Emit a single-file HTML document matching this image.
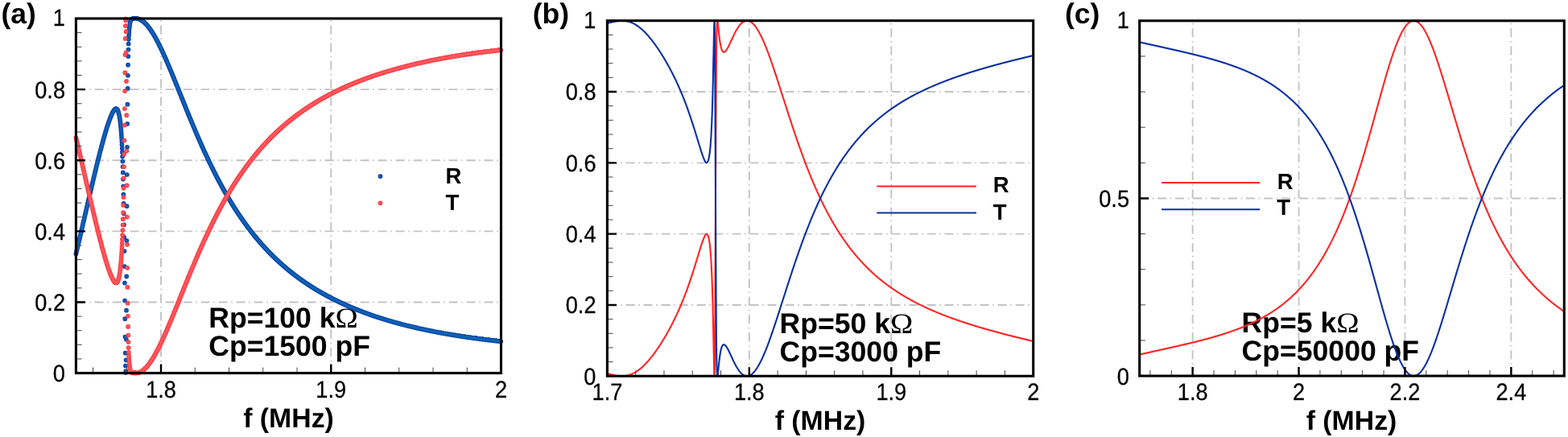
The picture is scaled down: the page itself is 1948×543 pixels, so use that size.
<!DOCTYPE html><html><head><meta charset="utf-8"><title>R and T spectra</title>
<style>html,body{margin:0;padding:0;background:#fff}body{width:1948px;height:543px;overflow:hidden}svg{display:block}
text{font-family:"Liberation Sans", sans-serif;fill:#000;text-rendering:geometricPrecision}.tk{font-size:29.4px;stroke:#000;stroke-width:0.3px}.ax{font-size:33.8px;font-weight:bold}.pl{font-size:35.5px;font-weight:bold}.an{font-size:35.6px;font-weight:bold}.lg{font-size:27.5px;font-weight:bold}.om{font-family:"Liberation Serif",serif;font-weight:normal}
</style></head><body>
<svg width="1948" height="543" viewBox="0 0 1948 543">
<rect width="1948" height="543" fill="#fff"/>
<path d="M200.02 465.2V23M411.26 465.2V23" fill="none" stroke="#c3c3c3" stroke-width="1.9" stroke-dasharray="11.1 4.77 1.6 4.77"/>
<path d="M95.6 375.48H622.5M95.6 287.36H622.5M95.6 199.24H622.5M95.6 111.12H622.5" fill="none" stroke="#c3c3c3" stroke-width="1.9" stroke-dasharray="11 4.7 1.6 4.7"/>
<text x="259.3" y="407" class="an">Rp=100 k<tspan class="om" textLength="28.31" lengthAdjust="spacingAndGlyphs">Ω</tspan></text>
<text x="259.3" y="442" class="an">Cp=1500 pF</text>
<path d="M94.4 315.5h0M94.6 314.6h0M94.8 313.7h0M95.0 312.8h0M95.2 311.9h0M95.4 311.1h0M95.7 310.2h0M95.9 309.3h0M96.1 308.4h0M96.3 307.5h0M96.5 306.7h0M96.7 305.8h0M96.9 304.9h0M97.1 304.0h0M97.3 303.1h0M97.5 302.2h0M97.8 301.3h0M98.0 300.4h0M98.2 299.5h0M98.4 298.6h0M98.6 297.8h0M98.8 296.9h0M99.0 296.0h0M99.2 295.1h0M99.4 294.2h0M99.6 293.3h0M99.9 292.4h0M100.1 291.5h0M100.3 290.6h0M100.5 289.7h0M100.7 288.8h0M100.9 287.9h0M101.1 287.0h0M101.3 286.1h0M101.5 285.2h0M101.7 284.3h0M102.0 283.4h0M102.2 282.4h0M102.4 281.5h0M102.6 280.6h0M102.8 279.7h0M103.0 278.8h0M103.2 277.9h0M103.4 277.0h0M103.6 276.1h0M103.8 275.2h0M104.1 274.3h0M104.3 273.4h0M104.5 272.5h0M104.7 271.6h0M104.9 270.7h0M105.1 269.7h0M105.3 268.8h0M105.5 267.9h0M105.7 267.0h0M105.9 266.1h0M106.2 265.2h0M106.4 264.3h0M106.6 263.4h0M106.8 262.5h0M107.0 261.6h0M107.2 260.6h0M107.4 259.7h0M107.6 258.8h0M107.8 257.9h0M108.0 257.0h0M108.3 256.1h0M108.5 255.2h0M108.7 254.3h0M108.9 253.4h0M109.1 252.5h0M109.3 251.6h0M109.5 250.6h0M109.7 249.7h0M109.9 248.8h0M110.1 247.9h0M110.4 247.0h0M110.6 246.1h0M110.8 245.2h0M111.0 244.3h0M111.2 243.4h0M111.4 242.5h0M111.6 241.6h0M111.8 240.7h0M112.0 239.8h0M112.2 238.9h0M112.5 238.0h0M112.7 237.1h0M112.9 236.2h0M113.1 235.3h0M113.3 234.4h0M113.5 233.5h0M113.7 232.6h0M113.9 231.7h0M114.1 230.8h0M114.3 229.9h0M114.6 229.0h0M114.8 228.1h0M115.0 227.2h0M115.2 226.3h0M115.4 225.4h0M115.6 224.6h0M115.8 223.7h0M116.0 222.8h0M116.2 221.9h0M116.4 221.0h0M116.7 220.1h0M116.9 219.2h0M117.1 218.4h0M117.3 217.5h0M117.5 216.6h0M117.7 215.7h0M117.9 214.9h0M118.1 214.0h0M118.3 213.1h0M118.5 212.2h0M118.8 211.4h0M119.0 210.5h0M119.2 209.6h0M119.4 208.8h0M119.6 207.9h0M119.8 207.1h0M120.0 206.2h0M120.2 205.3h0M120.4 204.5h0M120.6 203.6h0M120.9 202.8h0M121.1 201.9h0M121.3 201.1h0M121.5 200.2h0M121.7 199.4h0M121.9 198.5h0M122.1 197.7h0M122.3 196.9h0M122.5 196.0h0M122.7 195.2h0M123.0 194.4h0M123.2 193.5h0M123.4 192.7h0M123.6 191.9h0M123.8 191.0h0M124.0 190.2h0M124.2 189.4h0M124.4 188.6h0M124.6 187.8h0M124.8 187.0h0M125.1 186.2h0M125.3 185.4h0M125.5 184.6h0M125.7 183.8h0M125.9 183.0h0M126.1 182.2h0M126.3 181.4h0M126.5 180.6h0M126.7 179.8h0M126.9 179.0h0M127.2 178.2h0M127.4 177.5h0M127.6 176.7h0M127.8 175.9h0M128.0 175.1h0M128.2 174.4h0M128.4 173.6h0M128.6 172.9h0M128.8 172.1h0M129.0 171.4h0M129.3 170.6h0M129.5 169.9h0M129.7 169.1h0M129.9 168.4h0M130.1 167.7h0M130.3 167.0h0M130.5 166.2h0M130.7 165.5h0M130.9 164.8h0M131.1 164.1h0M131.4 163.4h0M131.6 162.7h0M131.8 162.0h0M132.0 161.3h0M132.2 160.6h0M132.4 159.9h0M132.6 159.3h0M132.8 158.6h0M133.0 157.9h0M133.2 157.3h0M133.5 156.6h0M133.7 155.9h0M133.9 155.3h0M134.1 154.7h0M134.3 154.0h0M134.5 153.4h0M134.7 152.8h0M134.9 152.2h0M135.1 151.6h0M135.3 151.0h0M135.6 150.4h0M135.8 149.8h0M136.0 149.2h0M136.2 148.6h0M136.4 148.1h0M136.6 147.5h0M136.8 147.0h0M137.0 146.4h0M137.2 145.9h0M137.4 145.4h0M137.7 144.9h0M137.9 144.4h0M138.1 143.9h0M138.3 143.4h0M138.5 142.9h0M138.7 142.4h0M138.9 142.0h0M139.1 141.5h0M139.3 141.1h0M139.5 140.7h0M139.8 140.2h0M140.0 139.8h0M140.2 139.4h0M140.4 139.0h0M140.6 138.7h0M140.8 138.3h0M141.0 138.0h0M141.2 137.6h0M141.4 137.3h0M141.6 137.0h0M141.9 136.7h0M142.1 136.5h0M142.3 136.2h0M142.5 136.0h0M142.7 135.8h0M142.9 135.6h0M143.1 135.5h0M143.3 135.3h0M143.5 135.2h0M143.7 135.2h0M144.0 135.1h0M144.2 135.1h0M144.4 135.1h0M144.6 135.2h0M144.8 135.3h0M145.0 135.4h0M145.2 135.6h0M145.4 135.8h0M145.6 136.0h0M145.8 136.3h0M146.1 136.7h0M146.3 137.1h0M146.5 137.5h0M146.7 138.0h0M146.9 138.6h0M147.1 139.2h0M147.3 139.9h0M147.5 140.7h0M147.7 141.5h0M147.9 142.5h0M148.2 143.5h0M148.4 144.6h0M148.6 145.8h0M148.8 147.1h0M149.0 148.5h0M149.2 150.1h0M149.4 151.8h0M149.6 153.6h0M149.8 155.6h0M150.0 157.8h0M150.3 160.2h0M150.5 162.8h0M150.7 165.6h0M150.9 168.7h0M151.1 172.1h0M151.3 175.8h0M151.5 179.8h0M151.7 184.3h0M151.9 189.2h0M152.1 194.6h0M152.4 200.5h0M152.6 207.1h0M152.8 214.4h0M153.0 222.6h0M153.2 231.6h0M153.4 241.6h0M153.6 252.8h0M153.8 265.3h0M154.0 279.3h0M154.2 294.8h0M154.5 312.0h0M154.7 331.0h0M154.9 351.6h0M155.1 373.5h0M155.3 396.2h0M155.5 418.5h0M155.7 438.7h0M155.9 454.5h0M156.1 462.9h0M156.3 461.2h0M156.6 447.4h0M156.8 421.6h0M157.0 385.7h0M157.2 343.4h0M157.4 299.1h0M157.6 256.2h0M157.8 217.0h0M158.0 182.8h0M158.2 153.8h0M158.4 129.7h0M158.7 109.9h0M158.9 93.8h0M159.1 80.7h0M159.3 70.1h0M159.5 61.5h0M159.7 54.5h0M159.9 48.8h0M160.1 44.2h0M160.3 40.4h0M160.5 37.3h0M160.8 34.8h0M161.0 32.7h0M161.2 31.0h0M161.4 29.6h0M161.6 28.4h0M161.8 27.4h0M162.0 26.6h0M162.2 26.0h0M162.4 25.4h0M162.6 25.0h0M162.9 24.6h0M163.1 24.3h0M163.3 24.1h0M163.5 23.8h0M163.7 23.7h0M163.9 23.5h0M164.1 23.4h0M164.3 23.3h0M164.5 23.3h0M164.7 23.2h0M165.0 23.2h0M165.2 23.1h0M165.4 23.1h0M165.6 23.1h0M165.8 23.1h0M166.0 23.0h0M166.2 23.0h0M166.4 23.0h0M166.6 23.0h0M166.8 23.0h0M167.1 23.0h0M167.3 23.0h0M167.5 23.0h0M167.7 23.0h0M167.9 23.0h0M168.1 23.0h0M168.3 23.0h0M168.5 23.0h0M168.7 23.0h0M168.9 23.0h0M169.2 23.0h0M169.4 23.1h0M169.6 23.1h0M169.8 23.1h0M170.0 23.1h0M170.2 23.1h0M170.4 23.1h0M170.6 23.2h0M170.8 23.2h0M171.0 23.2h0M171.3 23.3h0M171.5 23.3h0M171.7 23.3h0M171.9 23.4h0M172.1 23.5h0M172.3 23.5h0M172.5 23.6h0M172.7 23.7h0M172.9 23.7h0M173.1 23.8h0M173.4 23.9h0M173.6 24.0h0M173.8 24.1h0M174.0 24.2h0M174.2 24.3h0M174.4 24.4h0M174.6 24.5h0M174.8 24.6h0M175.0 24.8h0M175.2 24.9h0M175.5 25.0h0M175.7 25.1h0M175.9 25.3h0M176.1 25.4h0M176.3 25.5h0M176.5 25.7h0M176.7 25.8h0M176.9 26.0h0M177.1 26.1h0M177.3 26.3h0M177.6 26.4h0M177.8 26.6h0M178.0 26.7h0M178.2 26.9h0M178.4 27.1h0M178.6 27.2h0M178.8 27.4h0M179.0 27.6h0M179.2 27.8h0M179.4 28.0h0M179.7 28.2h0M179.9 28.4h0M180.1 28.6h0M180.3 28.8h0M180.5 29.0h0M180.7 29.2h0M180.9 29.4h0M181.1 29.6h0M181.3 29.8h0M181.5 30.1h0M181.8 30.3h0M182.0 30.5h0M182.2 30.7h0M182.4 31.0h0M182.6 31.2h0M182.8 31.5h0M183.0 31.7h0M183.2 32.0h0M183.4 32.2h0M183.6 32.5h0M183.9 32.7h0M184.1 33.0h0M184.3 33.3h0M184.5 33.5h0M184.7 33.8h0M184.9 34.1h0M185.1 34.3h0M185.3 34.6h0M185.5 34.9h0M185.7 35.2h0M186.0 35.5h0M186.2 35.8h0M186.4 36.1h0M186.6 36.3h0M186.8 36.6h0M187.0 36.9h0M187.2 37.3h0M187.4 37.6h0M187.6 37.9h0M187.8 38.2h0M188.1 38.5h0M188.3 38.8h0M188.5 39.1h0M188.7 39.5h0M188.9 39.8h0M189.1 40.1h0M189.3 40.4h0M189.5 40.8h0M189.7 41.1h0M189.9 41.5h0M190.2 41.8h0M190.4 42.1h0M190.6 42.5h0M190.8 42.8h0M191.0 43.2h0M191.2 43.5h0M191.4 43.9h0M191.6 44.3h0M191.8 44.6h0M192.0 45.0h0M192.3 45.4h0M192.5 45.7h0M192.7 46.1h0M192.9 46.5h0M193.1 46.8h0M193.3 47.2h0M193.5 47.6h0M193.7 48.0h0M193.9 48.4h0M194.1 48.7h0M194.4 49.1h0M194.6 49.5h0M194.8 49.9h0M195.0 50.3h0M195.2 50.7h0M195.4 51.1h0M195.6 51.5h0M195.8 51.9h0M196.0 52.3h0M196.2 52.7h0M196.5 53.1h0M196.7 53.5h0M196.9 54.0h0M197.1 54.4h0M197.3 54.8h0M197.5 55.2h0M197.7 55.6h0M197.9 56.0h0M198.1 56.5h0M198.3 56.9h0M198.6 57.3h0M198.8 57.8h0M199.0 58.2h0M199.2 58.6h0M199.4 59.0h0M199.6 59.5h0M199.8 59.9h0M200.0 60.4h0M200.2 60.8h0M200.4 61.2h0M200.7 61.7h0M200.9 62.1h0M201.1 62.6h0M201.3 63.0h0M201.5 63.5h0M201.7 63.9h0M201.9 64.4h0M202.1 64.8h0M202.3 65.3h0M202.5 65.7h0M202.8 66.2h0M203.0 66.7h0M203.2 67.1h0M203.4 67.6h0M203.6 68.1h0M203.8 68.5h0M204.0 69.0h0M204.2 69.5h0M204.4 69.9h0M204.6 70.4h0M204.9 70.9h0M205.1 71.3h0M205.3 71.8h0M205.5 72.3h0M205.7 72.8h0M205.9 73.2h0M206.1 73.7h0M206.3 74.2h0M206.5 74.7h0M206.7 75.2h0M207.0 75.6h0M207.2 76.1h0M207.4 76.6h0M207.6 77.1h0M207.8 77.6h0M208.0 78.1h0M208.2 78.6h0M208.4 79.1h0M208.6 79.5h0M208.8 80.0h0M209.1 80.5h0M209.3 81.0h0M209.5 81.5h0M209.7 82.0h0M209.9 82.5h0M210.1 83.0h0M210.3 83.5h0M210.5 84.0h0M210.7 84.5h0M210.9 85.0h0M211.2 85.5h0M211.4 86.0h0M211.6 86.5h0M211.8 87.0h0M212.0 87.5h0M212.2 88.0h0M212.4 88.5h0M212.6 89.0h0M212.8 89.5h0M213.0 90.0h0M213.3 90.6h0M213.5 91.1h0M213.7 91.6h0M213.9 92.1h0M214.1 92.6h0M214.3 93.1h0M214.5 93.6h0M214.7 94.1h0M214.9 94.6h0M215.1 95.2h0M215.4 95.7h0M215.6 96.2h0M215.8 96.7h0M216.0 97.2h0M216.2 97.7h0M216.4 98.2h0M216.6 98.8h0M216.8 99.3h0M217.0 99.8h0M217.2 100.3h0M217.5 100.8h0M217.7 101.3h0M217.9 101.9h0M218.1 102.4h0M218.3 102.9h0M218.5 103.4h0M218.7 103.9h0M218.9 104.5h0M219.1 105.0h0M219.3 105.5h0M219.6 106.0h0M219.8 106.5h0M220.0 107.1h0M220.2 107.6h0M220.4 108.1h0M220.6 108.6h0M220.8 109.1h0M221.0 109.7h0M221.2 110.2h0M221.4 110.7h0M221.7 111.2h0M221.9 111.7h0M222.1 112.3h0M222.3 112.8h0M222.5 113.3h0M222.7 113.8h0M222.9 114.4h0M223.1 114.9h0M223.3 115.4h0M223.5 115.9h0M223.8 116.4h0M224.0 117.0h0M224.2 117.5h0M224.4 118.0h0M224.6 118.5h0M224.8 119.1h0M225.0 119.6h0M225.2 120.1h0M225.4 120.6h0M225.6 121.2h0M225.9 121.7h0M226.1 122.2h0M226.3 122.7h0M226.5 123.2h0M226.7 123.8h0M226.9 124.3h0M227.1 124.8h0M227.3 125.3h0M227.5 125.8h0M227.7 126.4h0M228.0 126.9h0M228.2 127.4h0M228.4 127.9h0M228.6 128.5h0M228.8 129.0h0M229.0 129.5h0M229.2 130.0h0M229.4 130.5h0M229.6 131.1h0M229.8 131.6h0M230.1 132.1h0M230.3 132.6h0M230.5 133.1h0M230.7 133.6h0M230.9 134.2h0M231.1 134.7h0M231.3 135.2h0M231.5 135.7h0M231.7 136.2h0M231.9 136.8h0M232.2 137.3h0M232.4 137.8h0M232.6 138.3h0M232.8 138.8h0M233.0 139.3h0M233.2 139.8h0M233.4 140.4h0M233.6 140.9h0M233.8 141.4h0M234.0 141.9h0M234.3 142.4h0M234.5 142.9h0M234.7 143.4h0M234.9 144.0h0M235.1 144.5h0M235.3 145.0h0M235.5 145.5h0M235.7 146.0h0M235.9 146.5h0M236.1 147.0h0M236.4 147.5h0M236.6 148.0h0M236.8 148.5h0M237.0 149.1h0M237.2 149.6h0M237.4 150.1h0M237.6 150.6h0M237.8 151.1h0M238.0 151.6h0M238.2 152.1h0M238.5 152.6h0M238.7 153.1h0M238.9 153.6h0M239.1 154.1h0M239.3 154.6h0M239.5 155.1h0M239.7 155.6h0M239.9 156.1h0M240.1 156.6h0M240.3 157.1h0M240.6 157.6h0M240.8 158.1h0M241.0 158.6h0M241.2 159.1h0M241.4 159.6h0M241.6 160.1h0M241.8 160.6h0M242.0 161.1h0M242.2 161.6h0M242.4 162.1h0M242.7 162.6h0M242.9 163.1h0M243.1 163.6h0M243.3 164.1h0M243.5 164.6h0M243.7 165.0h0M243.9 165.5h0M244.1 166.0h0M244.3 166.5h0M244.5 167.0h0M244.8 167.5h0M245.0 168.0h0M245.2 168.5h0M245.4 168.9h0M245.6 169.4h0M245.8 169.9h0M246.0 170.4h0M246.2 170.9h0M246.4 171.4h0M246.6 171.9h0M246.9 172.3h0M247.1 172.8h0M247.3 173.3h0M247.5 173.8h0M247.7 174.3h0M247.9 174.7h0M248.1 175.2h0M248.3 175.7h0M248.5 176.2h0M248.7 176.6h0M249.0 177.1h0M249.2 177.6h0M249.4 178.1h0M249.6 178.5h0M249.8 179.0h0M250.0 179.5h0M250.2 180.0h0M250.4 180.4h0M250.6 180.9h0M250.8 181.4h0M251.1 181.8h0M251.3 182.3h0M251.5 182.8h0M251.7 183.2h0M251.9 183.7h0M252.1 184.2h0M252.3 184.6h0M252.5 185.1h0M252.7 185.6h0M252.9 186.0h0M253.2 186.5h0M253.4 187.0h0M253.6 187.4h0M253.8 187.9h0M254.0 188.3h0M254.2 188.8h0M254.4 189.3h0M254.6 189.7h0M254.8 190.2h0M255.0 190.6h0M255.3 191.1h0M255.5 191.5h0M255.7 192.0h0M255.9 192.4h0M256.1 192.9h0M256.3 193.3h0M256.5 193.8h0M256.7 194.2h0M256.9 194.7h0M257.1 195.1h0M257.4 195.6h0M257.6 196.0h0M257.8 196.5h0M258.0 196.9h0M258.2 197.4h0M258.4 197.8h0M258.6 198.3h0M258.8 198.7h0M259.0 199.1h0M259.2 199.6h0M259.5 200.0h0M259.7 200.5h0M259.9 200.9h0M260.1 201.3h0M260.3 201.8h0M260.5 202.2h0M260.7 202.7h0M260.9 203.1h0M261.1 203.5h0M261.3 204.0h0M261.6 204.4h0M261.8 204.8h0M262.0 205.3h0M262.2 205.7h0M262.4 206.1h0M262.6 206.5h0M262.8 207.0h0M263.0 207.4h0M263.2 207.8h0M263.4 208.3h0M263.7 208.7h0M263.9 209.1h0M264.1 209.5h0M264.3 209.9h0M264.5 210.4h0M264.7 210.8h0M264.9 211.2h0M265.1 211.6h0M265.3 212.1h0M265.5 212.5h0M265.8 212.9h0M266.0 213.3h0M266.2 213.7h0M266.4 214.1h0M266.6 214.6h0M266.8 215.0h0M267.0 215.4h0M267.2 215.8h0M267.4 216.2h0M267.6 216.6h0M267.9 217.0h0M268.1 217.4h0M268.3 217.8h0M268.5 218.3h0M268.7 218.7h0M268.9 219.1h0M269.1 219.5h0M269.3 219.9h0M269.5 220.3h0M269.7 220.7h0M270.0 221.1h0M270.2 221.5h0M270.4 221.9h0M270.6 222.3h0M270.8 222.7h0M271.0 223.1h0M271.2 223.5h0M271.4 223.9h0M271.6 224.3h0M271.8 224.7h0M272.1 225.1h0M272.3 225.5h0M272.5 225.9h0M272.7 226.3h0M272.9 226.7h0M273.1 227.1h0M273.3 227.4h0M273.5 227.8h0M273.7 228.2h0M273.9 228.6h0M274.2 229.0h0M274.4 229.4h0M274.6 229.8h0M274.8 230.2h0M275.0 230.5h0M275.2 230.9h0M275.4 231.3h0M275.6 231.7h0M275.8 232.1h0M276.0 232.5h0M276.3 232.8h0M276.5 233.2h0M276.7 233.6h0M276.9 234.0h0M277.1 234.4h0M277.3 234.7h0M277.5 235.1h0M277.7 235.5h0M277.9 235.9h0M278.1 236.2h0M278.4 236.6h0M278.6 237.0h0M278.8 237.4h0M279.0 237.7h0M279.2 238.1h0M279.4 238.5h0M279.6 238.8h0M279.8 239.2h0M280.0 239.6h0M280.2 239.9h0M280.5 240.3h0M280.7 240.7h0M280.9 241.0h0M281.1 241.4h0M281.3 241.8h0M281.5 242.1h0M281.7 242.5h0M281.9 242.8h0M282.1 243.2h0M282.3 243.6h0M282.6 243.9h0M282.8 244.3h0M283.0 244.6h0M283.2 245.0h0M283.4 245.4h0M283.6 245.7h0M283.8 246.1h0M284.0 246.4h0M284.2 246.8h0M284.4 247.1h0M284.7 247.5h0M284.9 247.8h0M285.1 248.2h0M285.3 248.5h0M285.5 248.9h0M285.7 249.2h0M285.9 249.6h0M286.1 249.9h0M286.3 250.3h0M286.5 250.6h0M286.8 251.0h0M287.0 251.3h0M287.2 251.6h0M287.4 252.0h0M287.6 252.3h0M287.8 252.7h0M288.0 253.0h0M288.2 253.3h0M288.4 253.7h0M288.6 254.0h0M288.9 254.4h0M289.1 254.7h0M289.3 255.0h0M289.5 255.4h0M289.7 255.7h0M289.9 256.0h0M290.1 256.4h0M290.3 256.7h0M290.5 257.0h0M290.7 257.4h0M291.0 257.7h0M291.2 258.0h0M291.4 258.4h0M291.6 258.7h0M291.8 259.0h0M292.0 259.4h0M292.2 259.7h0M292.4 260.0h0M292.6 260.3h0M292.8 260.7h0M293.1 261.0h0M293.3 261.3h0M293.5 261.6h0M293.7 262.0h0M293.9 262.3h0M294.1 262.6h0M294.3 262.9h0M294.5 263.2h0M294.7 263.6h0M294.9 263.9h0M295.2 264.2h0M295.4 264.5h0M295.6 264.8h0M295.8 265.1h0M296.0 265.5h0M296.2 265.8h0M296.4 266.1h0M296.6 266.4h0M296.8 266.7h0M297.0 267.0h0M297.3 267.3h0M297.5 267.6h0M297.7 268.0h0M297.9 268.3h0M298.1 268.6h0M298.3 268.9h0M298.5 269.2h0M298.7 269.5h0M298.9 269.8h0M299.1 270.1h0M299.4 270.4h0M299.6 270.7h0M299.8 271.0h0M300.0 271.3h0M300.2 271.6h0M300.4 271.9h0M300.6 272.2h0M300.8 272.5h0M301.0 272.8h0M301.2 273.1h0M301.5 273.4h0M301.7 273.7h0M301.9 274.0h0M302.1 274.3h0M302.3 274.6h0M302.5 274.9h0M302.7 275.2h0M302.9 275.5h0M303.1 275.8h0M303.3 276.1h0M303.6 276.4h0M303.8 276.7h0M304.0 277.0h0M304.2 277.3h0M304.4 277.6h0M304.6 277.8h0M304.8 278.1h0M305.0 278.4h0M305.2 278.7h0M305.4 279.0h0M305.7 279.3h0M305.9 279.6h0M306.1 279.9h0M306.3 280.1h0M306.5 280.4h0M306.7 280.7h0M306.9 281.0h0M307.1 281.3h0M307.3 281.6h0M307.5 281.8h0M307.8 282.1h0M308.0 282.4h0M308.2 282.7h0M308.4 283.0h0M308.6 283.2h0M308.8 283.5h0M309.0 283.8h0M309.2 284.1h0M309.4 284.3h0M309.6 284.6h0M309.9 284.9h0M310.1 285.2h0M310.3 285.4h0M310.5 285.7h0M310.7 286.0h0M310.9 286.3h0M311.1 286.5h0M311.3 286.8h0M311.5 287.1h0M311.7 287.3h0M312.0 287.6h0M312.2 287.9h0M312.4 288.1h0M312.6 288.4h0M312.8 288.7h0M313.0 289.0h0M313.2 289.2h0M313.4 289.5h0M313.6 289.7h0M313.8 290.0h0M314.1 290.3h0M314.3 290.5h0M314.5 290.8h0M314.7 291.1h0M314.9 291.3h0M315.1 291.6h0M315.3 291.8h0M315.5 292.1h0M315.7 292.4h0M315.9 292.6h0M316.2 292.9h0M316.4 293.1h0M316.6 293.4h0M316.8 293.7h0M317.0 293.9h0M317.2 294.2h0M317.4 294.4h0M317.6 294.7h0M317.8 294.9h0M318.0 295.2h0M318.3 295.4h0M318.5 295.7h0M318.7 295.9h0M318.9 296.2h0M319.1 296.5h0M319.3 296.7h0M319.5 297.0h0M319.7 297.2h0M319.9 297.5h0M320.1 297.7h0M320.4 297.9h0M320.6 298.2h0M320.8 298.4h0M321.0 298.7h0M321.2 298.9h0M321.4 299.2h0M321.6 299.4h0M321.8 299.7h0M322.0 299.9h0M322.2 300.2h0M322.5 300.4h0M322.7 300.6h0M322.9 300.9h0M323.1 301.1h0M323.3 301.4h0M323.5 301.6h0M323.7 301.8h0M323.9 302.1h0M324.1 302.3h0M324.3 302.6h0M324.6 302.8h0M324.8 303.0h0M325.0 303.3h0M325.2 303.5h0M325.4 303.8h0M325.6 304.0h0M325.8 304.2h0M326.0 304.5h0M326.2 304.7h0M326.4 304.9h0M326.7 305.2h0M326.9 305.4h0M327.1 305.6h0M327.3 305.9h0M327.5 306.1h0M327.7 306.3h0M327.9 306.5h0M328.1 306.8h0M328.3 307.0h0M328.5 307.2h0M328.8 307.5h0M329.0 307.7h0M329.2 307.9h0M329.4 308.1h0M329.6 308.4h0M329.8 308.6h0M330.0 308.8h0M330.2 309.1h0M330.4 309.3h0M330.6 309.5h0M330.9 309.7h0M331.1 309.9h0M331.3 310.2h0M331.5 310.4h0M331.7 310.6h0M331.9 310.8h0M332.1 311.1h0M332.3 311.3h0M332.5 311.5h0M332.7 311.7h0M333.0 311.9h0M333.2 312.2h0M333.4 312.4h0M333.6 312.6h0M333.8 312.8h0M334.0 313.0h0M334.2 313.2h0M334.4 313.5h0M334.6 313.7h0M334.8 313.9h0M335.1 314.1h0M335.3 314.3h0M335.5 314.5h0M335.7 314.8h0M335.9 315.0h0M336.1 315.2h0M336.3 315.4h0M336.5 315.6h0M336.7 315.8h0M336.9 316.0h0M337.2 316.2h0M337.4 316.4h0M337.6 316.7h0M337.8 316.9h0M338.0 317.1h0M338.2 317.3h0M338.4 317.5h0M338.6 317.7h0M338.8 317.9h0M339.0 318.1h0M339.3 318.3h0M339.5 318.5h0M339.7 318.7h0M339.9 318.9h0M340.1 319.1h0M340.3 319.3h0M340.5 319.6h0M340.7 319.8h0M340.9 320.0h0M341.1 320.2h0M341.4 320.4h0M341.6 320.6h0M341.8 320.8h0M342.0 321.0h0M342.2 321.2h0M342.4 321.4h0M342.6 321.6h0M342.8 321.8h0M343.0 322.0h0M343.2 322.2h0M343.5 322.4h0M343.7 322.6h0M343.9 322.8h0M344.1 323.0h0M344.3 323.2h0M344.5 323.4h0M344.7 323.6h0M344.9 323.7h0M345.1 323.9h0M345.3 324.1h0M345.6 324.3h0M345.8 324.5h0M346.0 324.7h0M346.2 324.9h0M346.4 325.1h0M346.6 325.3h0M346.8 325.5h0M347.0 325.7h0M347.2 325.9h0M347.4 326.1h0M347.7 326.3h0M347.9 326.4h0M348.1 326.6h0M348.3 326.8h0M348.5 327.0h0M348.7 327.2h0M348.9 327.4h0M349.1 327.6h0M349.3 327.8h0M349.5 328.0h0M349.8 328.1h0M350.0 328.3h0M350.2 328.5h0M350.4 328.7h0M350.6 328.9h0M350.8 329.1h0M351.0 329.3h0M351.2 329.4h0M351.4 329.6h0M351.6 329.8h0M351.9 330.0h0M352.1 330.2h0M352.3 330.4h0M352.5 330.5h0M352.7 330.7h0M352.9 330.9h0M353.1 331.1h0M353.3 331.3h0M353.5 331.4h0M353.7 331.6h0M354.0 331.8h0M354.2 332.0h0M354.4 332.2h0M354.6 332.3h0M354.8 332.5h0M355.0 332.7h0M355.2 332.9h0M355.4 333.1h0M355.6 333.2h0M355.8 333.4h0M356.1 333.6h0M356.3 333.8h0M356.5 333.9h0M356.7 334.1h0M356.9 334.3h0M357.1 334.5h0M357.3 334.6h0M357.5 334.8h0M357.7 335.0h0M357.9 335.2h0M358.2 335.3h0M358.4 335.5h0M358.6 335.7h0M358.8 335.8h0M359.0 336.0h0M359.2 336.2h0M359.4 336.4h0M359.6 336.5h0M359.8 336.7h0M360.0 336.9h0M360.3 337.0h0M360.5 337.2h0M360.7 337.4h0M360.9 337.5h0M361.1 337.7h0M361.3 337.9h0M361.5 338.0h0M361.7 338.2h0M361.9 338.4h0M362.1 338.5h0M362.4 338.7h0M362.6 338.9h0M362.8 339.0h0M363.0 339.2h0M363.2 339.4h0M363.4 339.5h0M363.6 339.7h0M363.8 339.9h0M364.0 340.0h0M364.2 340.2h0M364.5 340.4h0M364.7 340.5h0M364.9 340.7h0M365.1 340.8h0M365.3 341.0h0M365.5 341.2h0M365.7 341.3h0M365.9 341.5h0M366.1 341.7h0M366.3 341.8h0M366.6 342.0h0M366.8 342.1h0M367.0 342.3h0M367.2 342.5h0M367.4 342.6h0M367.6 342.8h0M367.8 342.9h0M368.0 343.1h0M368.2 343.2h0M368.4 343.4h0M368.7 343.6h0M368.9 343.7h0M369.1 343.9h0M369.3 344.0h0M369.5 344.2h0M369.7 344.3h0M369.9 344.5h0M370.1 344.7h0M370.3 344.8h0M370.5 345.0h0M370.8 345.1h0M371.0 345.3h0M371.2 345.4h0M371.4 345.6h0M371.6 345.7h0M371.8 345.9h0M372.0 346.0h0M372.2 346.2h0M372.4 346.3h0M372.6 346.5h0M372.9 346.6h0M373.1 346.8h0M373.3 346.9h0M373.5 347.1h0M373.7 347.2h0M373.9 347.4h0M374.1 347.5h0M374.3 347.7h0M374.5 347.8h0M374.7 348.0h0M375.0 348.1h0M375.2 348.3h0M375.4 348.4h0M375.6 348.6h0M375.8 348.7h0M376.0 348.9h0M376.2 349.0h0M376.4 349.2h0M376.6 349.3h0M376.8 349.5h0M377.1 349.6h0M377.3 349.8h0M377.5 349.9h0M377.7 350.0h0M377.9 350.2h0M378.1 350.3h0M378.3 350.5h0M378.5 350.6h0M378.7 350.8h0M378.9 350.9h0M379.2 351.0h0M379.4 351.2h0M379.6 351.3h0M379.8 351.5h0M380.0 351.6h0M380.2 351.8h0M380.4 351.9h0M380.6 352.0h0M380.8 352.2h0M381.0 352.3h0M381.3 352.5h0M381.5 352.6h0M381.7 352.7h0M381.9 352.9h0M382.1 353.0h0M382.3 353.2h0M382.5 353.3h0M382.7 353.4h0M382.9 353.6h0M383.1 353.7h0M383.4 353.9h0M383.6 354.0h0M383.8 354.1h0M384.0 354.3h0M384.2 354.4h0M384.4 354.5h0M384.6 354.7h0M384.8 354.8h0M385.0 354.9h0M385.2 355.1h0M385.5 355.2h0M385.7 355.3h0M385.9 355.5h0M386.1 355.6h0M386.3 355.8h0M386.5 355.9h0M386.7 356.0h0M386.9 356.2h0M387.1 356.3h0M387.3 356.4h0M387.6 356.6h0M387.8 356.7h0M388.0 356.8h0M388.2 357.0h0M388.4 357.1h0M388.6 357.2h0M388.8 357.3h0M389.0 357.5h0M389.2 357.6h0M389.4 357.7h0M389.7 357.9h0M389.9 358.0h0M390.1 358.1h0M390.3 358.3h0M390.5 358.4h0M390.7 358.5h0M390.9 358.6h0M391.1 358.8h0M391.3 358.9h0M391.5 359.0h0M391.8 359.2h0M392.0 359.3h0M392.2 359.4h0M392.4 359.5h0M392.6 359.7h0M392.8 359.8h0M393.0 359.9h0M393.2 360.1h0M393.4 360.2h0M393.6 360.3h0M393.9 360.4h0M394.1 360.6h0M394.3 360.7h0M394.5 360.8h0M394.7 360.9h0M394.9 361.1h0M395.1 361.2h0M395.3 361.3h0M395.5 361.4h0M395.7 361.5h0M396.0 361.7h0M396.2 361.8h0M396.4 361.9h0M396.6 362.0h0M396.8 362.2h0M397.0 362.3h0M397.2 362.4h0M397.4 362.5h0M397.6 362.7h0M397.8 362.8h0M398.1 362.9h0M398.3 363.0h0M398.5 363.1h0M398.7 363.3h0M398.9 363.4h0M399.1 363.5h0M399.3 363.6h0M399.5 363.7h0M399.7 363.9h0M399.9 364.0h0M400.2 364.1h0M400.4 364.2h0M400.6 364.3h0M400.8 364.5h0M401.0 364.6h0M401.2 364.7h0M401.4 364.8h0M401.6 364.9h0M401.8 365.0h0M402.0 365.2h0M402.3 365.3h0M402.5 365.4h0M402.7 365.5h0M402.9 365.6h0M403.1 365.7h0M403.3 365.9h0M403.5 366.0h0M403.7 366.1h0M403.9 366.2h0M404.1 366.3h0M404.4 366.4h0M404.6 366.6h0M404.8 366.7h0M405.0 366.8h0M405.2 366.9h0M405.4 367.0h0M405.6 367.1h0M405.8 367.2h0M406.0 367.4h0M406.2 367.5h0M406.5 367.6h0M406.7 367.7h0M406.9 367.8h0M407.1 367.9h0M407.3 368.0h0M407.5 368.1h0M407.7 368.3h0M407.9 368.4h0M408.1 368.5h0M408.3 368.6h0M408.6 368.7h0M408.8 368.8h0M409.0 368.9h0M409.2 369.0h0M409.4 369.1h0M409.6 369.2h0M409.8 369.4h0M410.0 369.5h0M410.2 369.6h0M410.4 369.7h0M410.7 369.8h0M410.9 369.9h0M411.1 370.0h0M411.3 370.1h0M411.5 370.2h0M411.7 370.3h0M411.9 370.4h0M412.1 370.6h0M412.3 370.7h0M412.5 370.8h0M412.8 370.9h0M413.0 371.0h0M413.2 371.1h0M413.4 371.2h0M413.6 371.3h0M413.8 371.4h0M414.0 371.5h0M414.2 371.6h0M414.4 371.7h0M414.6 371.8h0M414.9 371.9h0M415.1 372.0h0M415.3 372.2h0M415.5 372.3h0M415.7 372.4h0M415.9 372.5h0M416.1 372.6h0M416.3 372.7h0M416.5 372.8h0M416.7 372.9h0M417.0 373.0h0M417.2 373.1h0M417.4 373.2h0M417.6 373.3h0M417.8 373.4h0M418.0 373.5h0M418.2 373.6h0M418.4 373.7h0M418.6 373.8h0M418.8 373.9h0M419.1 374.0h0M419.3 374.1h0M419.5 374.2h0M419.7 374.3h0M419.9 374.4h0M420.1 374.5h0M420.3 374.6h0M420.5 374.7h0M420.7 374.8h0M420.9 374.9h0M421.2 375.0h0M421.4 375.1h0M421.6 375.2h0M421.8 375.3h0M422.0 375.4h0M422.2 375.5h0M422.4 375.6h0M422.6 375.7h0M422.8 375.8h0M423.0 375.9h0M423.3 376.0h0M423.5 376.1h0M423.7 376.2h0M423.9 376.3h0M424.1 376.4h0M424.3 376.5h0M424.5 376.6h0M424.7 376.7h0M424.9 376.8h0M425.1 376.9h0M425.4 377.0h0M425.6 377.1h0M425.8 377.2h0M426.0 377.3h0M426.2 377.4h0M426.4 377.5h0M426.6 377.6h0M426.8 377.7h0M427.0 377.8h0M427.2 377.9h0M427.5 377.9h0M427.7 378.0h0M427.9 378.1h0M428.1 378.2h0M428.3 378.3h0M428.5 378.4h0M428.7 378.5h0M428.9 378.6h0M429.1 378.7h0M429.3 378.8h0M429.6 378.9h0M429.8 379.0h0M430.0 379.1h0M430.2 379.2h0M430.4 379.3h0M430.6 379.4h0M430.8 379.5h0M431.0 379.5h0M431.2 379.6h0M431.4 379.7h0M431.7 379.8h0M431.9 379.9h0M432.1 380.0h0M432.3 380.1h0M432.5 380.2h0M432.7 380.3h0M432.9 380.4h0M433.1 380.5h0M433.3 380.6h0M433.5 380.6h0M433.8 380.7h0M434.0 380.8h0M434.2 380.9h0M434.4 381.0h0M434.6 381.1h0M434.8 381.2h0M435.0 381.3h0M435.2 381.4h0M435.4 381.5h0M435.6 381.5h0M435.9 381.6h0M436.1 381.7h0M436.3 381.8h0M436.5 381.9h0M436.7 382.0h0M436.9 382.1h0M437.1 382.2h0M437.3 382.2h0M437.5 382.3h0M437.7 382.4h0M438.0 382.5h0M438.2 382.6h0M438.4 382.7h0M438.6 382.8h0M438.8 382.9h0M439.0 382.9h0M439.2 383.0h0M439.4 383.1h0M439.6 383.2h0M439.8 383.3h0M440.1 383.4h0M440.3 383.5h0M440.5 383.6h0M440.7 383.6h0M440.9 383.7h0M441.1 383.8h0M441.3 383.9h0M441.5 384.0h0M441.7 384.1h0M441.9 384.1h0M442.2 384.2h0M442.4 384.3h0M442.6 384.4h0M442.8 384.5h0M443.0 384.6h0M443.2 384.7h0M443.4 384.7h0M443.6 384.8h0M443.8 384.9h0M444.0 385.0h0M444.3 385.1h0M444.5 385.2h0M444.7 385.2h0M444.9 385.3h0M445.1 385.4h0M445.3 385.5h0M445.5 385.6h0M445.7 385.7h0M445.9 385.7h0M446.1 385.8h0M446.4 385.9h0M446.6 386.0h0M446.8 386.1h0M447.0 386.1h0M447.2 386.2h0M447.4 386.3h0M447.6 386.4h0M447.8 386.5h0M448.0 386.6h0M448.2 386.6h0M448.5 386.7h0M448.7 386.8h0M448.9 386.9h0M449.1 387.0h0M449.3 387.0h0M449.5 387.1h0M449.7 387.2h0M449.9 387.3h0M450.1 387.4h0M450.3 387.4h0M450.6 387.5h0M450.8 387.6h0M451.0 387.7h0M451.2 387.7h0M451.4 387.8h0M451.6 387.9h0M451.8 388.0h0M452.0 388.1h0M452.2 388.1h0M452.4 388.2h0M452.7 388.3h0M452.9 388.4h0M453.1 388.5h0M453.3 388.5h0M453.5 388.6h0M453.7 388.7h0M453.9 388.8h0M454.1 388.8h0M454.3 388.9h0M454.5 389.0h0M454.8 389.1h0M455.0 389.1h0M455.2 389.2h0M455.4 389.3h0M455.6 389.4h0M455.8 389.5h0M456.0 389.5h0M456.2 389.6h0M456.4 389.7h0M456.6 389.8h0M456.9 389.8h0M457.1 389.9h0M457.3 390.0h0M457.5 390.1h0M457.7 390.1h0M457.9 390.2h0M458.1 390.3h0M458.3 390.4h0M458.5 390.4h0M458.7 390.5h0M459.0 390.6h0M459.2 390.7h0M459.4 390.7h0M459.6 390.8h0M459.8 390.9h0M460.0 391.0h0M460.2 391.0h0M460.4 391.1h0M460.6 391.2h0M460.8 391.2h0M461.1 391.3h0M461.3 391.4h0M461.5 391.5h0M461.7 391.5h0M461.9 391.6h0M462.1 391.7h0M462.3 391.8h0M462.5 391.8h0M462.7 391.9h0M462.9 392.0h0M463.2 392.0h0M463.4 392.1h0M463.6 392.2h0M463.8 392.3h0M464.0 392.3h0M464.2 392.4h0M464.4 392.5h0M464.6 392.6h0M464.8 392.6h0M465.0 392.7h0M465.3 392.8h0M465.5 392.8h0M465.7 392.9h0M465.9 393.0h0M466.1 393.0h0M466.3 393.1h0M466.5 393.2h0M466.7 393.3h0M466.9 393.3h0M467.1 393.4h0M467.4 393.5h0M467.6 393.5h0M467.8 393.6h0M468.0 393.7h0M468.2 393.7h0M468.4 393.8h0M468.6 393.9h0M468.8 394.0h0M469.0 394.0h0M469.2 394.1h0M469.5 394.2h0M469.7 394.2h0M469.9 394.3h0M470.1 394.4h0M470.3 394.4h0M470.5 394.5h0M470.7 394.6h0M470.9 394.6h0M471.1 394.7h0M471.3 394.8h0M471.6 394.8h0M471.8 394.9h0M472.0 395.0h0M472.2 395.0h0M472.4 395.1h0M472.6 395.2h0M472.8 395.2h0M473.0 395.3h0M473.2 395.4h0M473.4 395.4h0M473.7 395.5h0M473.9 395.6h0M474.1 395.6h0M474.3 395.7h0M474.5 395.8h0M474.7 395.8h0M474.9 395.9h0M475.1 396.0h0M475.3 396.0h0M475.5 396.1h0M475.8 396.2h0M476.0 396.2h0M476.2 396.3h0M476.4 396.4h0M476.6 396.4h0M476.8 396.5h0M477.0 396.6h0M477.2 396.6h0M477.4 396.7h0M477.6 396.8h0M477.9 396.8h0M478.1 396.9h0M478.3 397.0h0M478.5 397.0h0M478.7 397.1h0M478.9 397.1h0M479.1 397.2h0M479.3 397.3h0M479.5 397.3h0M479.7 397.4h0M480.0 397.5h0M480.2 397.5h0M480.4 397.6h0M480.6 397.7h0M480.8 397.7h0M481.0 397.8h0M481.2 397.8h0M481.4 397.9h0M481.6 398.0h0M481.8 398.0h0M482.1 398.1h0M482.3 398.2h0M482.5 398.2h0M482.7 398.3h0M482.9 398.3h0M483.1 398.4h0M483.3 398.5h0M483.5 398.5h0M483.7 398.6h0M483.9 398.7h0M484.2 398.7h0M484.4 398.8h0M484.6 398.8h0M484.8 398.9h0M485.0 399.0h0M485.2 399.0h0M485.4 399.1h0M485.6 399.1h0M485.8 399.2h0M486.0 399.3h0M486.3 399.3h0M486.5 399.4h0M486.7 399.4h0M486.9 399.5h0M487.1 399.6h0M487.3 399.6h0M487.5 399.7h0M487.7 399.7h0M487.9 399.8h0M488.1 399.9h0M488.4 399.9h0M488.6 400.0h0M488.8 400.0h0M489.0 400.1h0M489.2 400.2h0M489.4 400.2h0M489.6 400.3h0M489.8 400.3h0M490.0 400.4h0M490.2 400.5h0M490.5 400.5h0M490.7 400.6h0M490.9 400.6h0M491.1 400.7h0M491.3 400.8h0M491.5 400.8h0M491.7 400.9h0M491.9 400.9h0M492.1 401.0h0M492.3 401.0h0M492.6 401.1h0M492.8 401.2h0M493.0 401.2h0M493.2 401.3h0M493.4 401.3h0M493.6 401.4h0M493.8 401.5h0M494.0 401.5h0M494.2 401.6h0M494.4 401.6h0M494.7 401.7h0M494.9 401.7h0M495.1 401.8h0M495.3 401.9h0M495.5 401.9h0M495.7 402.0h0M495.9 402.0h0M496.1 402.1h0M496.3 402.1h0M496.5 402.2h0M496.8 402.2h0M497.0 402.3h0M497.2 402.4h0M497.4 402.4h0M497.6 402.5h0M497.8 402.5h0M498.0 402.6h0M498.2 402.6h0M498.4 402.7h0M498.6 402.7h0M498.9 402.8h0M499.1 402.9h0M499.3 402.9h0M499.5 403.0h0M499.7 403.0h0M499.9 403.1h0M500.1 403.1h0M500.3 403.2h0M500.5 403.2h0M500.7 403.3h0M501.0 403.4h0M501.2 403.4h0M501.4 403.5h0M501.6 403.5h0M501.8 403.6h0M502.0 403.6h0M502.2 403.7h0M502.4 403.7h0M502.6 403.8h0M502.8 403.8h0M503.1 403.9h0M503.3 403.9h0M503.5 404.0h0M503.7 404.1h0M503.9 404.1h0M504.1 404.2h0M504.3 404.2h0M504.5 404.3h0M504.7 404.3h0M504.9 404.4h0M505.2 404.4h0M505.4 404.5h0M505.6 404.5h0M505.8 404.6h0M506.0 404.6h0M506.2 404.7h0M506.4 404.7h0M506.6 404.8h0M506.8 404.8h0M507.0 404.9h0M507.3 405.0h0M507.5 405.0h0M507.7 405.1h0M507.9 405.1h0M508.1 405.2h0M508.3 405.2h0M508.5 405.3h0M508.7 405.3h0M508.9 405.4h0M509.1 405.4h0M509.4 405.5h0M509.6 405.5h0M509.8 405.6h0M510.0 405.6h0M510.2 405.7h0M510.4 405.7h0M510.6 405.8h0M510.8 405.8h0M511.0 405.9h0M511.2 405.9h0M511.5 406.0h0M511.7 406.0h0M511.9 406.1h0M512.1 406.1h0M512.3 406.2h0M512.5 406.2h0M512.7 406.3h0M512.9 406.3h0M513.1 406.4h0M513.3 406.4h0M513.6 406.5h0M513.8 406.5h0M514.0 406.6h0M514.2 406.6h0M514.4 406.7h0M514.6 406.7h0M514.8 406.8h0M515.0 406.8h0M515.2 406.9h0M515.4 406.9h0M515.7 407.0h0M515.9 407.0h0M516.1 407.1h0M516.3 407.1h0M516.5 407.2h0M516.7 407.2h0M516.9 407.3h0M517.1 407.3h0M517.3 407.4h0M517.5 407.4h0M517.8 407.5h0M518.0 407.5h0M518.2 407.6h0M518.4 407.6h0M518.6 407.7h0M518.8 407.7h0M519.0 407.7h0M519.2 407.8h0M519.4 407.8h0M519.6 407.9h0M519.9 407.9h0M520.1 408.0h0M520.3 408.0h0M520.5 408.1h0M520.7 408.1h0M520.9 408.2h0M521.1 408.2h0M521.3 408.3h0M521.5 408.3h0M521.7 408.4h0M522.0 408.4h0M522.2 408.5h0M522.4 408.5h0M522.6 408.5h0M522.8 408.6h0M523.0 408.6h0M523.2 408.7h0M523.4 408.7h0M523.6 408.8h0M523.8 408.8h0M524.1 408.9h0M524.3 408.9h0M524.5 409.0h0M524.7 409.0h0M524.9 409.1h0M525.1 409.1h0M525.3 409.1h0M525.5 409.2h0M525.7 409.2h0M525.9 409.3h0M526.2 409.3h0M526.4 409.4h0M526.6 409.4h0M526.8 409.5h0M527.0 409.5h0M527.2 409.6h0M527.4 409.6h0M527.6 409.6h0M527.8 409.7h0M528.0 409.7h0M528.3 409.8h0M528.5 409.8h0M528.7 409.9h0M528.9 409.9h0M529.1 410.0h0M529.3 410.0h0M529.5 410.0h0M529.7 410.1h0M529.9 410.1h0M530.1 410.2h0M530.4 410.2h0M530.6 410.3h0M530.8 410.3h0M531.0 410.4h0M531.2 410.4h0M531.4 410.4h0M531.6 410.5h0M531.8 410.5h0M532.0 410.6h0M532.2 410.6h0M532.5 410.7h0M532.7 410.7h0M532.9 410.8h0M533.1 410.8h0M533.3 410.8h0M533.5 410.9h0M533.7 410.9h0M533.9 411.0h0M534.1 411.0h0M534.3 411.1h0M534.6 411.1h0M534.8 411.1h0M535.0 411.2h0M535.2 411.2h0M535.4 411.3h0M535.6 411.3h0M535.8 411.4h0M536.0 411.4h0M536.2 411.4h0M536.4 411.5h0M536.7 411.5h0M536.9 411.6h0M537.1 411.6h0M537.3 411.6h0M537.5 411.7h0M537.7 411.7h0M537.9 411.8h0M538.1 411.8h0M538.3 411.9h0M538.5 411.9h0M538.8 411.9h0M539.0 412.0h0M539.2 412.0h0M539.4 412.1h0M539.6 412.1h0M539.8 412.1h0M540.0 412.2h0M540.2 412.2h0M540.4 412.3h0M540.6 412.3h0M540.9 412.4h0M541.1 412.4h0M541.3 412.4h0M541.5 412.5h0M541.7 412.5h0M541.9 412.6h0M542.1 412.6h0M542.3 412.6h0M542.5 412.7h0M542.7 412.7h0M543.0 412.8h0M543.2 412.8h0M543.4 412.8h0M543.6 412.9h0M543.8 412.9h0M544.0 413.0h0M544.2 413.0h0M544.4 413.0h0M544.6 413.1h0M544.8 413.1h0M545.1 413.2h0M545.3 413.2h0M545.5 413.2h0M545.7 413.3h0M545.9 413.3h0M546.1 413.4h0M546.3 413.4h0M546.5 413.4h0M546.7 413.5h0M546.9 413.5h0M547.2 413.5h0M547.4 413.6h0M547.6 413.6h0M547.8 413.7h0M548.0 413.7h0M548.2 413.7h0M548.4 413.8h0M548.6 413.8h0M548.8 413.9h0M549.0 413.9h0M549.3 413.9h0M549.5 414.0h0M549.7 414.0h0M549.9 414.1h0M550.1 414.1h0M550.3 414.1h0M550.5 414.2h0M550.7 414.2h0M550.9 414.2h0M551.1 414.3h0M551.4 414.3h0M551.6 414.4h0M551.8 414.4h0M552.0 414.4h0M552.2 414.5h0M552.4 414.5h0M552.6 414.5h0M552.8 414.6h0M553.0 414.6h0M553.2 414.7h0M553.5 414.7h0M553.7 414.7h0M553.9 414.8h0M554.1 414.8h0M554.3 414.8h0M554.5 414.9h0M554.7 414.9h0M554.9 415.0h0M555.1 415.0h0M555.3 415.0h0M555.6 415.1h0M555.8 415.1h0M556.0 415.1h0M556.2 415.2h0M556.4 415.2h0M556.6 415.3h0M556.8 415.3h0M557.0 415.3h0M557.2 415.4h0M557.4 415.4h0M557.7 415.4h0M557.9 415.5h0M558.1 415.5h0M558.3 415.5h0M558.5 415.6h0M558.7 415.6h0M558.9 415.6h0M559.1 415.7h0M559.3 415.7h0M559.5 415.8h0M559.8 415.8h0M560.0 415.8h0M560.2 415.9h0M560.4 415.9h0M560.6 415.9h0M560.8 416.0h0M561.0 416.0h0M561.2 416.0h0M561.4 416.1h0M561.6 416.1h0M561.9 416.1h0M562.1 416.2h0M562.3 416.2h0M562.5 416.3h0M562.7 416.3h0M562.9 416.3h0M563.1 416.4h0M563.3 416.4h0M563.5 416.4h0M563.7 416.5h0M564.0 416.5h0M564.2 416.5h0M564.4 416.6h0M564.6 416.6h0M564.8 416.6h0M565.0 416.7h0M565.2 416.7h0M565.4 416.7h0M565.6 416.8h0M565.8 416.8h0M566.1 416.8h0M566.3 416.9h0M566.5 416.9h0M566.7 416.9h0M566.9 417.0h0M567.1 417.0h0M567.3 417.0h0M567.5 417.1h0M567.7 417.1h0M567.9 417.1h0M568.2 417.2h0M568.4 417.2h0M568.6 417.2h0M568.8 417.3h0M569.0 417.3h0M569.2 417.3h0M569.4 417.4h0M569.6 417.4h0M569.8 417.4h0M570.0 417.5h0M570.3 417.5h0M570.5 417.5h0M570.7 417.6h0M570.9 417.6h0M571.1 417.6h0M571.3 417.7h0M571.5 417.7h0M571.7 417.7h0M571.9 417.8h0M572.1 417.8h0M572.4 417.8h0M572.6 417.9h0M572.8 417.9h0M573.0 417.9h0M573.2 418.0h0M573.4 418.0h0M573.6 418.0h0M573.8 418.1h0M574.0 418.1h0M574.2 418.1h0M574.5 418.2h0M574.7 418.2h0M574.9 418.2h0M575.1 418.3h0M575.3 418.3h0M575.5 418.3h0M575.7 418.4h0M575.9 418.4h0M576.1 418.4h0M576.3 418.4h0M576.6 418.5h0M576.8 418.5h0M577.0 418.5h0M577.2 418.6h0M577.4 418.6h0M577.6 418.6h0M577.8 418.7h0M578.0 418.7h0M578.2 418.7h0M578.4 418.8h0M578.7 418.8h0M578.9 418.8h0M579.1 418.9h0M579.3 418.9h0M579.5 418.9h0M579.7 418.9h0M579.9 419.0h0M580.1 419.0h0M580.3 419.0h0M580.5 419.1h0M580.8 419.1h0M581.0 419.1h0M581.2 419.2h0M581.4 419.2h0M581.6 419.2h0M581.8 419.3h0M582.0 419.3h0M582.2 419.3h0M582.4 419.3h0M582.6 419.4h0M582.9 419.4h0M583.1 419.4h0M583.3 419.5h0M583.5 419.5h0M583.7 419.5h0M583.9 419.6h0M584.1 419.6h0M584.3 419.6h0M584.5 419.6h0M584.7 419.7h0M585.0 419.7h0M585.2 419.7h0M585.4 419.8h0M585.6 419.8h0M585.8 419.8h0M586.0 419.9h0M586.2 419.9h0M586.4 419.9h0M586.6 419.9h0M586.8 420.0h0M587.1 420.0h0M587.3 420.0h0M587.5 420.1h0M587.7 420.1h0M587.9 420.1h0M588.1 420.1h0M588.3 420.2h0M588.5 420.2h0M588.7 420.2h0M588.9 420.3h0M589.2 420.3h0M589.4 420.3h0M589.6 420.3h0M589.8 420.4h0M590.0 420.4h0M590.2 420.4h0M590.4 420.5h0M590.6 420.5h0M590.8 420.5h0M591.0 420.5h0M591.3 420.6h0M591.5 420.6h0M591.7 420.6h0M591.9 420.7h0M592.1 420.7h0M592.3 420.7h0M592.5 420.7h0M592.7 420.8h0M592.9 420.8h0M593.1 420.8h0M593.4 420.9h0M593.6 420.9h0M593.8 420.9h0M594.0 420.9h0M594.2 421.0h0M594.4 421.0h0M594.6 421.0h0M594.8 421.0h0M595.0 421.1h0M595.2 421.1h0M595.5 421.1h0M595.7 421.2h0M595.9 421.2h0M596.1 421.2h0M596.3 421.2h0M596.5 421.3h0M596.7 421.3h0M596.9 421.3h0M597.1 421.3h0M597.3 421.4h0M597.6 421.4h0M597.8 421.4h0M598.0 421.5h0M598.2 421.5h0M598.4 421.5h0M598.6 421.5h0M598.8 421.6h0M599.0 421.6h0M599.2 421.6h0M599.4 421.6h0M599.7 421.7h0M599.9 421.7h0M600.1 421.7h0M600.3 421.7h0M600.5 421.8h0M600.7 421.8h0M600.9 421.8h0M601.1 421.9h0M601.3 421.9h0M601.5 421.9h0M601.8 421.9h0M602.0 422.0h0M602.2 422.0h0M602.4 422.0h0M602.6 422.0h0M602.8 422.1h0M603.0 422.1h0M603.2 422.1h0M603.4 422.1h0M603.6 422.2h0M603.9 422.2h0M604.1 422.2h0M604.3 422.2h0M604.5 422.3h0M604.7 422.3h0M604.9 422.3h0M605.1 422.3h0M605.3 422.4h0M605.5 422.4h0M605.7 422.4h0M606.0 422.4h0M606.2 422.5h0M606.4 422.5h0M606.6 422.5h0M606.8 422.5h0M607.0 422.6h0M607.2 422.6h0M607.4 422.6h0M607.6 422.6h0M607.8 422.7h0M608.1 422.7h0M608.3 422.7h0M608.5 422.7h0M608.7 422.8h0M608.9 422.8h0M609.1 422.8h0M609.3 422.8h0M609.5 422.9h0M609.7 422.9h0M609.9 422.9h0M610.2 422.9h0M610.4 423.0h0M610.6 423.0h0M610.8 423.0h0M611.0 423.0h0M611.2 423.1h0M611.4 423.1h0M611.6 423.1h0M611.8 423.1h0M612.0 423.2h0M612.3 423.2h0M612.5 423.2h0M612.7 423.2h0M612.9 423.3h0M613.1 423.3h0M613.3 423.3h0M613.5 423.3h0M613.7 423.4h0M613.9 423.4h0M614.1 423.4h0M614.4 423.4h0M614.6 423.4h0M614.8 423.5h0M615.0 423.5h0M615.2 423.5h0M615.4 423.5h0M615.6 423.6h0M615.8 423.6h0M616.0 423.6h0M616.2 423.6h0M616.5 423.7h0M616.7 423.7h0M616.9 423.7h0M617.1 423.7h0M617.3 423.8h0M617.5 423.8h0M617.7 423.8h0M617.9 423.8h0M618.1 423.8h0M618.3 423.9h0M618.6 423.9h0M618.8 423.9h0M619.0 423.9h0M619.2 424.0h0M619.4 424.0h0M619.6 424.0h0M619.8 424.0h0M620.0 424.0h0M620.2 424.1h0M620.4 424.1h0M620.7 424.1h0M620.9 424.1h0M621.1 424.2h0M621.3 424.2h0M621.5 424.2h0M621.7 424.2h0M621.9 424.3h0M622.1 424.3h0M622.3 424.3h0" fill="none" stroke="#0a3fa8" stroke-width="5.7" stroke-linecap="round"/>
<path d="M94.4 315.5h0M94.6 314.6h0M94.8 313.7h0M95.0 312.8h0M95.2 311.9h0M95.4 311.1h0M95.7 310.2h0M95.9 309.3h0M96.1 308.4h0M96.3 307.5h0M96.5 306.7h0M96.7 305.8h0M96.9 304.9h0M97.1 304.0h0M97.3 303.1h0M97.5 302.2h0M97.8 301.3h0M98.0 300.4h0M98.2 299.5h0M98.4 298.6h0M98.6 297.8h0M98.8 296.9h0M99.0 296.0h0M99.2 295.1h0M99.4 294.2h0M99.6 293.3h0M99.9 292.4h0M100.1 291.5h0M100.3 290.6h0M100.5 289.7h0M100.7 288.8h0M100.9 287.9h0M101.1 287.0h0M101.3 286.1h0M101.5 285.2h0M101.7 284.3h0M102.0 283.4h0M102.2 282.4h0M102.4 281.5h0M102.6 280.6h0M102.8 279.7h0M103.0 278.8h0M103.2 277.9h0M103.4 277.0h0M103.6 276.1h0M103.8 275.2h0M104.1 274.3h0M104.3 273.4h0M104.5 272.5h0M104.7 271.6h0M104.9 270.7h0M105.1 269.7h0M105.3 268.8h0M105.5 267.9h0M105.7 267.0h0M105.9 266.1h0M106.2 265.2h0M106.4 264.3h0M106.6 263.4h0M106.8 262.5h0M107.0 261.6h0M107.2 260.6h0M107.4 259.7h0M107.6 258.8h0M107.8 257.9h0M108.0 257.0h0M108.3 256.1h0M108.5 255.2h0M108.7 254.3h0M108.9 253.4h0M109.1 252.5h0M109.3 251.6h0M109.5 250.6h0M109.7 249.7h0M109.9 248.8h0M110.1 247.9h0M110.4 247.0h0M110.6 246.1h0M110.8 245.2h0M111.0 244.3h0M111.2 243.4h0M111.4 242.5h0M111.6 241.6h0M111.8 240.7h0M112.0 239.8h0M112.2 238.9h0M112.5 238.0h0M112.7 237.1h0M112.9 236.2h0M113.1 235.3h0M113.3 234.4h0M113.5 233.5h0M113.7 232.6h0M113.9 231.7h0M114.1 230.8h0M114.3 229.9h0M114.6 229.0h0M114.8 228.1h0M115.0 227.2h0M115.2 226.3h0M115.4 225.4h0M115.6 224.6h0M115.8 223.7h0M116.0 222.8h0M116.2 221.9h0M116.4 221.0h0M116.7 220.1h0M116.9 219.2h0M117.1 218.4h0M117.3 217.5h0M117.5 216.6h0M117.7 215.7h0M117.9 214.9h0M118.1 214.0h0M118.3 213.1h0M118.5 212.2h0M118.8 211.4h0M119.0 210.5h0M119.2 209.6h0M119.4 208.8h0M119.6 207.9h0M119.8 207.1h0M120.0 206.2h0M120.2 205.3h0M120.4 204.5h0M120.6 203.6h0M120.9 202.8h0M121.1 201.9h0M121.3 201.1h0M121.5 200.2h0M121.7 199.4h0M121.9 198.5h0M122.1 197.7h0M122.3 196.9h0M122.5 196.0h0M122.7 195.2h0M123.0 194.4h0M123.2 193.5h0M123.4 192.7h0M123.6 191.9h0M123.8 191.0h0M124.0 190.2h0M124.2 189.4h0M124.4 188.6h0M124.6 187.8h0M124.8 187.0h0M125.1 186.2h0M125.3 185.4h0M125.5 184.6h0M125.7 183.8h0M125.9 183.0h0M126.1 182.2h0M126.3 181.4h0M126.5 180.6h0M126.7 179.8h0M126.9 179.0h0M127.2 178.2h0M127.4 177.5h0M127.6 176.7h0M127.8 175.9h0M128.0 175.1h0M128.2 174.4h0M128.4 173.6h0M128.6 172.9h0M128.8 172.1h0M129.0 171.4h0M129.3 170.6h0M129.5 169.9h0M129.7 169.1h0M129.9 168.4h0M130.1 167.7h0M130.3 167.0h0M130.5 166.2h0M130.7 165.5h0M130.9 164.8h0M131.1 164.1h0M131.4 163.4h0M131.6 162.7h0M131.8 162.0h0M132.0 161.3h0M132.2 160.6h0M132.4 159.9h0M132.6 159.3h0M132.8 158.6h0M133.0 157.9h0M133.2 157.3h0M133.5 156.6h0M133.7 155.9h0M133.9 155.3h0M134.1 154.7h0M134.3 154.0h0M134.5 153.4h0M134.7 152.8h0M134.9 152.2h0M135.1 151.6h0M135.3 151.0h0M135.6 150.4h0M135.8 149.8h0M136.0 149.2h0M136.2 148.6h0M136.4 148.1h0M136.6 147.5h0M136.8 147.0h0M137.0 146.4h0M137.2 145.9h0M137.4 145.4h0M137.7 144.9h0M137.9 144.4h0M138.1 143.9h0M138.3 143.4h0M138.5 142.9h0M138.7 142.4h0M138.9 142.0h0M139.1 141.5h0M139.3 141.1h0M139.5 140.7h0M139.8 140.2h0M140.0 139.8h0M140.2 139.4h0M140.4 139.0h0M140.6 138.7h0M140.8 138.3h0M141.0 138.0h0M141.2 137.6h0M141.4 137.3h0M141.6 137.0h0M141.9 136.7h0M142.1 136.5h0M142.3 136.2h0M142.5 136.0h0M142.7 135.8h0M142.9 135.6h0M143.1 135.5h0M143.3 135.3h0M143.5 135.2h0M143.7 135.2h0M144.0 135.1h0M144.2 135.1h0M144.4 135.1h0M144.6 135.2h0M144.8 135.3h0M145.0 135.4h0M145.2 135.6h0M145.4 135.8h0M145.6 136.0h0M145.8 136.3h0M146.1 136.7h0M146.3 137.1h0M146.5 137.5h0M146.7 138.0h0M146.9 138.6h0M147.1 139.2h0M147.3 139.9h0M147.5 140.7h0M147.7 141.5h0M147.9 142.5h0M148.2 143.5h0M148.4 144.6h0M148.6 145.8h0M148.8 147.1h0M149.0 148.5h0M149.2 150.1h0M149.4 151.8h0M149.6 153.6h0M149.8 155.6h0M150.0 157.8h0M150.3 160.2h0M150.5 162.8h0M150.7 165.6h0M150.9 168.7h0M151.1 172.1h0M151.3 175.8h0M151.5 179.8h0M151.7 184.3h0M151.9 189.2h0M152.1 194.6h0M152.4 200.5h0M152.6 207.1h0M152.8 214.4h0M153.0 222.6h0M153.2 231.6h0M153.4 241.6h0M153.6 252.8h0M153.8 265.3h0M154.0 279.3h0M154.2 294.8h0M154.5 312.0h0M154.7 331.0h0M154.9 351.6h0M155.1 373.5h0M155.3 396.2h0M155.5 418.5h0M155.7 438.7h0M155.9 454.5h0M156.1 462.9h0M156.3 461.2h0M156.6 447.4h0M156.8 421.6h0M157.0 385.7h0M157.2 343.4h0M157.4 299.1h0M157.6 256.2h0M157.8 217.0h0M158.0 182.8h0M158.2 153.8h0M158.4 129.7h0M158.7 109.9h0M158.9 93.8h0M159.1 80.7h0M159.3 70.1h0M159.5 61.5h0M159.7 54.5h0M159.9 48.8h0M160.1 44.2h0M160.3 40.4h0M160.5 37.3h0M160.8 34.8h0M161.0 32.7h0M161.2 31.0h0M161.4 29.6h0M161.6 28.4h0M161.8 27.4h0M162.0 26.6h0M162.2 26.0h0M162.4 25.4h0M162.6 25.0h0M162.9 24.6h0M163.1 24.3h0M163.3 24.1h0M163.5 23.8h0M163.7 23.7h0M163.9 23.5h0M164.1 23.4h0M164.3 23.3h0M164.5 23.3h0M164.7 23.2h0M165.0 23.2h0M165.2 23.1h0M165.4 23.1h0M165.6 23.1h0M165.8 23.1h0M166.0 23.0h0M166.2 23.0h0M166.4 23.0h0M166.6 23.0h0M166.8 23.0h0M167.1 23.0h0M167.3 23.0h0M167.5 23.0h0M167.7 23.0h0M167.9 23.0h0M168.1 23.0h0M168.3 23.0h0M168.5 23.0h0M168.7 23.0h0M168.9 23.0h0M169.2 23.0h0M169.4 23.1h0M169.6 23.1h0M169.8 23.1h0M170.0 23.1h0M170.2 23.1h0M170.4 23.1h0M170.6 23.2h0M170.8 23.2h0M171.0 23.2h0M171.3 23.3h0M171.5 23.3h0M171.7 23.3h0M171.9 23.4h0M172.1 23.5h0M172.3 23.5h0M172.5 23.6h0M172.7 23.7h0M172.9 23.7h0M173.1 23.8h0M173.4 23.9h0M173.6 24.0h0M173.8 24.1h0M174.0 24.2h0M174.2 24.3h0M174.4 24.4h0M174.6 24.5h0M174.8 24.6h0M175.0 24.8h0M175.2 24.9h0M175.5 25.0h0M175.7 25.1h0M175.9 25.3h0M176.1 25.4h0M176.3 25.5h0M176.5 25.7h0M176.7 25.8h0M176.9 26.0h0M177.1 26.1h0M177.3 26.3h0M177.6 26.4h0M177.8 26.6h0M178.0 26.7h0M178.2 26.9h0M178.4 27.1h0M178.6 27.2h0M178.8 27.4h0M179.0 27.6h0M179.2 27.8h0M179.4 28.0h0M179.7 28.2h0M179.9 28.4h0M180.1 28.6h0M180.3 28.8h0M180.5 29.0h0M180.7 29.2h0M180.9 29.4h0M181.1 29.6h0M181.3 29.8h0M181.5 30.1h0M181.8 30.3h0M182.0 30.5h0M182.2 30.7h0M182.4 31.0h0M182.6 31.2h0M182.8 31.5h0M183.0 31.7h0M183.2 32.0h0M183.4 32.2h0M183.6 32.5h0M183.9 32.7h0M184.1 33.0h0M184.3 33.3h0M184.5 33.5h0M184.7 33.8h0M184.9 34.1h0M185.1 34.3h0M185.3 34.6h0M185.5 34.9h0M185.7 35.2h0M186.0 35.5h0M186.2 35.8h0M186.4 36.1h0M186.6 36.3h0M186.8 36.6h0M187.0 36.9h0M187.2 37.3h0M187.4 37.6h0M187.6 37.9h0M187.8 38.2h0M188.1 38.5h0M188.3 38.8h0M188.5 39.1h0M188.7 39.5h0M188.9 39.8h0M189.1 40.1h0M189.3 40.4h0M189.5 40.8h0M189.7 41.1h0M189.9 41.5h0M190.2 41.8h0M190.4 42.1h0M190.6 42.5h0M190.8 42.8h0M191.0 43.2h0M191.2 43.5h0M191.4 43.9h0M191.6 44.3h0M191.8 44.6h0M192.0 45.0h0M192.3 45.4h0M192.5 45.7h0M192.7 46.1h0M192.9 46.5h0M193.1 46.8h0M193.3 47.2h0M193.5 47.6h0M193.7 48.0h0M193.9 48.4h0M194.1 48.7h0M194.4 49.1h0M194.6 49.5h0M194.8 49.9h0M195.0 50.3h0M195.2 50.7h0M195.4 51.1h0M195.6 51.5h0M195.8 51.9h0M196.0 52.3h0M196.2 52.7h0M196.5 53.1h0M196.7 53.5h0M196.9 54.0h0M197.1 54.4h0M197.3 54.8h0M197.5 55.2h0M197.7 55.6h0M197.9 56.0h0M198.1 56.5h0M198.3 56.9h0M198.6 57.3h0M198.8 57.8h0M199.0 58.2h0M199.2 58.6h0M199.4 59.0h0M199.6 59.5h0M199.8 59.9h0M200.0 60.4h0M200.2 60.8h0M200.4 61.2h0M200.7 61.7h0M200.9 62.1h0M201.1 62.6h0M201.3 63.0h0M201.5 63.5h0M201.7 63.9h0M201.9 64.4h0M202.1 64.8h0M202.3 65.3h0M202.5 65.7h0M202.8 66.2h0M203.0 66.7h0M203.2 67.1h0M203.4 67.6h0M203.6 68.1h0M203.8 68.5h0M204.0 69.0h0M204.2 69.5h0M204.4 69.9h0M204.6 70.4h0M204.9 70.9h0M205.1 71.3h0M205.3 71.8h0M205.5 72.3h0M205.7 72.8h0M205.9 73.2h0M206.1 73.7h0M206.3 74.2h0M206.5 74.7h0M206.7 75.2h0M207.0 75.6h0M207.2 76.1h0M207.4 76.6h0M207.6 77.1h0M207.8 77.6h0M208.0 78.1h0M208.2 78.6h0M208.4 79.1h0M208.6 79.5h0M208.8 80.0h0M209.1 80.5h0M209.3 81.0h0M209.5 81.5h0M209.7 82.0h0M209.9 82.5h0M210.1 83.0h0M210.3 83.5h0M210.5 84.0h0M210.7 84.5h0M210.9 85.0h0M211.2 85.5h0M211.4 86.0h0M211.6 86.5h0M211.8 87.0h0M212.0 87.5h0M212.2 88.0h0M212.4 88.5h0M212.6 89.0h0M212.8 89.5h0M213.0 90.0h0M213.3 90.6h0M213.5 91.1h0M213.7 91.6h0M213.9 92.1h0M214.1 92.6h0M214.3 93.1h0M214.5 93.6h0M214.7 94.1h0M214.9 94.6h0M215.1 95.2h0M215.4 95.7h0M215.6 96.2h0M215.8 96.7h0M216.0 97.2h0M216.2 97.7h0M216.4 98.2h0M216.6 98.8h0M216.8 99.3h0M217.0 99.8h0M217.2 100.3h0M217.5 100.8h0M217.7 101.3h0M217.9 101.9h0M218.1 102.4h0M218.3 102.9h0M218.5 103.4h0M218.7 103.9h0M218.9 104.5h0M219.1 105.0h0M219.3 105.5h0M219.6 106.0h0M219.8 106.5h0M220.0 107.1h0M220.2 107.6h0M220.4 108.1h0M220.6 108.6h0M220.8 109.1h0M221.0 109.7h0M221.2 110.2h0M221.4 110.7h0M221.7 111.2h0M221.9 111.7h0M222.1 112.3h0M222.3 112.8h0M222.5 113.3h0M222.7 113.8h0M222.9 114.4h0M223.1 114.9h0M223.3 115.4h0M223.5 115.9h0M223.8 116.4h0M224.0 117.0h0M224.2 117.5h0M224.4 118.0h0M224.6 118.5h0M224.8 119.1h0M225.0 119.6h0M225.2 120.1h0M225.4 120.6h0M225.6 121.2h0M225.9 121.7h0M226.1 122.2h0M226.3 122.7h0M226.5 123.2h0M226.7 123.8h0M226.9 124.3h0M227.1 124.8h0M227.3 125.3h0M227.5 125.8h0M227.7 126.4h0M228.0 126.9h0M228.2 127.4h0M228.4 127.9h0M228.6 128.5h0M228.8 129.0h0M229.0 129.5h0M229.2 130.0h0M229.4 130.5h0M229.6 131.1h0M229.8 131.6h0M230.1 132.1h0M230.3 132.6h0M230.5 133.1h0M230.7 133.6h0M230.9 134.2h0M231.1 134.7h0M231.3 135.2h0M231.5 135.7h0M231.7 136.2h0M231.9 136.8h0M232.2 137.3h0M232.4 137.8h0M232.6 138.3h0M232.8 138.8h0M233.0 139.3h0M233.2 139.8h0M233.4 140.4h0M233.6 140.9h0M233.8 141.4h0M234.0 141.9h0M234.3 142.4h0M234.5 142.9h0M234.7 143.4h0M234.9 144.0h0M235.1 144.5h0M235.3 145.0h0M235.5 145.5h0M235.7 146.0h0M235.9 146.5h0M236.1 147.0h0M236.4 147.5h0M236.6 148.0h0M236.8 148.5h0M237.0 149.1h0M237.2 149.6h0M237.4 150.1h0M237.6 150.6h0M237.8 151.1h0M238.0 151.6h0M238.2 152.1h0M238.5 152.6h0M238.7 153.1h0M238.9 153.6h0M239.1 154.1h0M239.3 154.6h0M239.5 155.1h0M239.7 155.6h0M239.9 156.1h0M240.1 156.6h0M240.3 157.1h0M240.6 157.6h0M240.8 158.1h0M241.0 158.6h0M241.2 159.1h0M241.4 159.6h0M241.6 160.1h0M241.8 160.6h0M242.0 161.1h0M242.2 161.6h0M242.4 162.1h0M242.7 162.6h0M242.9 163.1h0M243.1 163.6h0M243.3 164.1h0M243.5 164.6h0M243.7 165.0h0M243.9 165.5h0M244.1 166.0h0M244.3 166.5h0M244.5 167.0h0M244.8 167.5h0M245.0 168.0h0M245.2 168.5h0M245.4 168.9h0M245.6 169.4h0M245.8 169.9h0M246.0 170.4h0M246.2 170.9h0M246.4 171.4h0M246.6 171.9h0M246.9 172.3h0M247.1 172.8h0M247.3 173.3h0M247.5 173.8h0M247.7 174.3h0M247.9 174.7h0M248.1 175.2h0M248.3 175.7h0M248.5 176.2h0M248.7 176.6h0M249.0 177.1h0M249.2 177.6h0M249.4 178.1h0M249.6 178.5h0M249.8 179.0h0M250.0 179.5h0M250.2 180.0h0M250.4 180.4h0M250.6 180.9h0M250.8 181.4h0M251.1 181.8h0M251.3 182.3h0M251.5 182.8h0M251.7 183.2h0M251.9 183.7h0M252.1 184.2h0M252.3 184.6h0M252.5 185.1h0M252.7 185.6h0M252.9 186.0h0M253.2 186.5h0M253.4 187.0h0M253.6 187.4h0M253.8 187.9h0M254.0 188.3h0M254.2 188.8h0M254.4 189.3h0M254.6 189.7h0M254.8 190.2h0M255.0 190.6h0M255.3 191.1h0M255.5 191.5h0M255.7 192.0h0M255.9 192.4h0M256.1 192.9h0M256.3 193.3h0M256.5 193.8h0M256.7 194.2h0M256.9 194.7h0M257.1 195.1h0M257.4 195.6h0M257.6 196.0h0M257.8 196.5h0M258.0 196.9h0M258.2 197.4h0M258.4 197.8h0M258.6 198.3h0M258.8 198.7h0M259.0 199.1h0M259.2 199.6h0M259.5 200.0h0M259.7 200.5h0M259.9 200.9h0M260.1 201.3h0M260.3 201.8h0M260.5 202.2h0M260.7 202.7h0M260.9 203.1h0M261.1 203.5h0M261.3 204.0h0M261.6 204.4h0M261.8 204.8h0M262.0 205.3h0M262.2 205.7h0M262.4 206.1h0M262.6 206.5h0M262.8 207.0h0M263.0 207.4h0M263.2 207.8h0M263.4 208.3h0M263.7 208.7h0M263.9 209.1h0M264.1 209.5h0M264.3 209.9h0M264.5 210.4h0M264.7 210.8h0M264.9 211.2h0M265.1 211.6h0M265.3 212.1h0M265.5 212.5h0M265.8 212.9h0M266.0 213.3h0M266.2 213.7h0M266.4 214.1h0M266.6 214.6h0M266.8 215.0h0M267.0 215.4h0M267.2 215.8h0M267.4 216.2h0M267.6 216.6h0M267.9 217.0h0M268.1 217.4h0M268.3 217.8h0M268.5 218.3h0M268.7 218.7h0M268.9 219.1h0M269.1 219.5h0M269.3 219.9h0M269.5 220.3h0M269.7 220.7h0M270.0 221.1h0M270.2 221.5h0M270.4 221.9h0M270.6 222.3h0M270.8 222.7h0M271.0 223.1h0M271.2 223.5h0M271.4 223.9h0M271.6 224.3h0M271.8 224.7h0M272.1 225.1h0M272.3 225.5h0M272.5 225.9h0M272.7 226.3h0M272.9 226.7h0M273.1 227.1h0M273.3 227.4h0M273.5 227.8h0M273.7 228.2h0M273.9 228.6h0M274.2 229.0h0M274.4 229.4h0M274.6 229.8h0M274.8 230.2h0M275.0 230.5h0M275.2 230.9h0M275.4 231.3h0M275.6 231.7h0M275.8 232.1h0M276.0 232.5h0M276.3 232.8h0M276.5 233.2h0M276.7 233.6h0M276.9 234.0h0M277.1 234.4h0M277.3 234.7h0M277.5 235.1h0M277.7 235.5h0M277.9 235.9h0M278.1 236.2h0M278.4 236.6h0M278.6 237.0h0M278.8 237.4h0M279.0 237.7h0M279.2 238.1h0M279.4 238.5h0M279.6 238.8h0M279.8 239.2h0M280.0 239.6h0M280.2 239.9h0M280.5 240.3h0M280.7 240.7h0M280.9 241.0h0M281.1 241.4h0M281.3 241.8h0M281.5 242.1h0M281.7 242.5h0M281.9 242.8h0M282.1 243.2h0M282.3 243.6h0M282.6 243.9h0M282.8 244.3h0M283.0 244.6h0M283.2 245.0h0M283.4 245.4h0M283.6 245.7h0M283.8 246.1h0M284.0 246.4h0M284.2 246.8h0M284.4 247.1h0M284.7 247.5h0M284.9 247.8h0M285.1 248.2h0M285.3 248.5h0M285.5 248.9h0M285.7 249.2h0M285.9 249.6h0M286.1 249.9h0M286.3 250.3h0M286.5 250.6h0M286.8 251.0h0M287.0 251.3h0M287.2 251.6h0M287.4 252.0h0M287.6 252.3h0M287.8 252.7h0M288.0 253.0h0M288.2 253.3h0M288.4 253.7h0M288.6 254.0h0M288.9 254.4h0M289.1 254.7h0M289.3 255.0h0M289.5 255.4h0M289.7 255.7h0M289.9 256.0h0M290.1 256.4h0M290.3 256.7h0M290.5 257.0h0M290.7 257.4h0M291.0 257.7h0M291.2 258.0h0M291.4 258.4h0M291.6 258.7h0M291.8 259.0h0M292.0 259.4h0M292.2 259.7h0M292.4 260.0h0M292.6 260.3h0M292.8 260.7h0M293.1 261.0h0M293.3 261.3h0M293.5 261.6h0M293.7 262.0h0M293.9 262.3h0M294.1 262.6h0M294.3 262.9h0M294.5 263.2h0M294.7 263.6h0M294.9 263.9h0M295.2 264.2h0M295.4 264.5h0M295.6 264.8h0M295.8 265.1h0M296.0 265.5h0M296.2 265.8h0M296.4 266.1h0M296.6 266.4h0M296.8 266.7h0M297.0 267.0h0M297.3 267.3h0M297.5 267.6h0M297.7 268.0h0M297.9 268.3h0M298.1 268.6h0M298.3 268.9h0M298.5 269.2h0M298.7 269.5h0M298.9 269.8h0M299.1 270.1h0M299.4 270.4h0M299.6 270.7h0M299.8 271.0h0M300.0 271.3h0M300.2 271.6h0M300.4 271.9h0M300.6 272.2h0M300.8 272.5h0M301.0 272.8h0M301.2 273.1h0M301.5 273.4h0M301.7 273.7h0M301.9 274.0h0M302.1 274.3h0M302.3 274.6h0M302.5 274.9h0M302.7 275.2h0M302.9 275.5h0M303.1 275.8h0M303.3 276.1h0M303.6 276.4h0M303.8 276.7h0M304.0 277.0h0M304.2 277.3h0M304.4 277.6h0M304.6 277.8h0M304.8 278.1h0M305.0 278.4h0M305.2 278.7h0M305.4 279.0h0M305.7 279.3h0M305.9 279.6h0M306.1 279.9h0M306.3 280.1h0M306.5 280.4h0M306.7 280.7h0M306.9 281.0h0M307.1 281.3h0M307.3 281.6h0M307.5 281.8h0M307.8 282.1h0M308.0 282.4h0M308.2 282.7h0M308.4 283.0h0M308.6 283.2h0M308.8 283.5h0M309.0 283.8h0M309.2 284.1h0M309.4 284.3h0M309.6 284.6h0M309.9 284.9h0M310.1 285.2h0M310.3 285.4h0M310.5 285.7h0M310.7 286.0h0M310.9 286.3h0M311.1 286.5h0M311.3 286.8h0M311.5 287.1h0M311.7 287.3h0M312.0 287.6h0M312.2 287.9h0M312.4 288.1h0M312.6 288.4h0M312.8 288.7h0M313.0 289.0h0M313.2 289.2h0M313.4 289.5h0M313.6 289.7h0M313.8 290.0h0M314.1 290.3h0M314.3 290.5h0M314.5 290.8h0M314.7 291.1h0M314.9 291.3h0M315.1 291.6h0M315.3 291.8h0M315.5 292.1h0M315.7 292.4h0M315.9 292.6h0M316.2 292.9h0M316.4 293.1h0M316.6 293.4h0M316.8 293.7h0M317.0 293.9h0M317.2 294.2h0M317.4 294.4h0M317.6 294.7h0M317.8 294.9h0M318.0 295.2h0M318.3 295.4h0M318.5 295.7h0M318.7 295.9h0M318.9 296.2h0M319.1 296.5h0M319.3 296.7h0M319.5 297.0h0M319.7 297.2h0M319.9 297.5h0M320.1 297.7h0M320.4 297.9h0M320.6 298.2h0M320.8 298.4h0M321.0 298.7h0M321.2 298.9h0M321.4 299.2h0M321.6 299.4h0M321.8 299.7h0M322.0 299.9h0M322.2 300.2h0M322.5 300.4h0M322.7 300.6h0M322.9 300.9h0M323.1 301.1h0M323.3 301.4h0M323.5 301.6h0M323.7 301.8h0M323.9 302.1h0M324.1 302.3h0M324.3 302.6h0M324.6 302.8h0M324.8 303.0h0M325.0 303.3h0M325.2 303.5h0M325.4 303.8h0M325.6 304.0h0M325.8 304.2h0M326.0 304.5h0M326.2 304.7h0M326.4 304.9h0M326.7 305.2h0M326.9 305.4h0M327.1 305.6h0M327.3 305.9h0M327.5 306.1h0M327.7 306.3h0M327.9 306.5h0M328.1 306.8h0M328.3 307.0h0M328.5 307.2h0M328.8 307.5h0M329.0 307.7h0M329.2 307.9h0M329.4 308.1h0M329.6 308.4h0M329.8 308.6h0M330.0 308.8h0M330.2 309.1h0M330.4 309.3h0M330.6 309.5h0M330.9 309.7h0M331.1 309.9h0M331.3 310.2h0M331.5 310.4h0M331.7 310.6h0M331.9 310.8h0M332.1 311.1h0M332.3 311.3h0M332.5 311.5h0M332.7 311.7h0M333.0 311.9h0M333.2 312.2h0M333.4 312.4h0M333.6 312.6h0M333.8 312.8h0M334.0 313.0h0M334.2 313.2h0M334.4 313.5h0M334.6 313.7h0M334.8 313.9h0M335.1 314.1h0M335.3 314.3h0M335.5 314.5h0M335.7 314.8h0M335.9 315.0h0M336.1 315.2h0M336.3 315.4h0M336.5 315.6h0M336.7 315.8h0M336.9 316.0h0M337.2 316.2h0M337.4 316.4h0M337.6 316.7h0M337.8 316.9h0M338.0 317.1h0M338.2 317.3h0M338.4 317.5h0M338.6 317.7h0M338.8 317.9h0M339.0 318.1h0M339.3 318.3h0M339.5 318.5h0M339.7 318.7h0M339.9 318.9h0M340.1 319.1h0M340.3 319.3h0M340.5 319.6h0M340.7 319.8h0M340.9 320.0h0M341.1 320.2h0M341.4 320.4h0M341.6 320.6h0M341.8 320.8h0M342.0 321.0h0M342.2 321.2h0M342.4 321.4h0M342.6 321.6h0M342.8 321.8h0M343.0 322.0h0M343.2 322.2h0M343.5 322.4h0M343.7 322.6h0M343.9 322.8h0M344.1 323.0h0M344.3 323.2h0M344.5 323.4h0M344.7 323.6h0M344.9 323.7h0M345.1 323.9h0M345.3 324.1h0M345.6 324.3h0M345.8 324.5h0M346.0 324.7h0M346.2 324.9h0M346.4 325.1h0M346.6 325.3h0M346.8 325.5h0M347.0 325.7h0M347.2 325.9h0M347.4 326.1h0M347.7 326.3h0M347.9 326.4h0M348.1 326.6h0M348.3 326.8h0M348.5 327.0h0M348.7 327.2h0M348.9 327.4h0M349.1 327.6h0M349.3 327.8h0M349.5 328.0h0M349.8 328.1h0M350.0 328.3h0M350.2 328.5h0M350.4 328.7h0M350.6 328.9h0M350.8 329.1h0M351.0 329.3h0M351.2 329.4h0M351.4 329.6h0M351.6 329.8h0M351.9 330.0h0M352.1 330.2h0M352.3 330.4h0M352.5 330.5h0M352.7 330.7h0M352.9 330.9h0M353.1 331.1h0M353.3 331.3h0M353.5 331.4h0M353.7 331.6h0M354.0 331.8h0M354.2 332.0h0M354.4 332.2h0M354.6 332.3h0M354.8 332.5h0M355.0 332.7h0M355.2 332.9h0M355.4 333.1h0M355.6 333.2h0M355.8 333.4h0M356.1 333.6h0M356.3 333.8h0M356.5 333.9h0M356.7 334.1h0M356.9 334.3h0M357.1 334.5h0M357.3 334.6h0M357.5 334.8h0M357.7 335.0h0M357.9 335.2h0M358.2 335.3h0M358.4 335.5h0M358.6 335.7h0M358.8 335.8h0M359.0 336.0h0M359.2 336.2h0M359.4 336.4h0M359.6 336.5h0M359.8 336.7h0M360.0 336.9h0M360.3 337.0h0M360.5 337.2h0M360.7 337.4h0M360.9 337.5h0M361.1 337.7h0M361.3 337.9h0M361.5 338.0h0M361.7 338.2h0M361.9 338.4h0M362.1 338.5h0M362.4 338.7h0M362.6 338.9h0M362.8 339.0h0M363.0 339.2h0M363.2 339.4h0M363.4 339.5h0M363.6 339.7h0M363.8 339.9h0M364.0 340.0h0M364.2 340.2h0M364.5 340.4h0M364.7 340.5h0M364.9 340.7h0M365.1 340.8h0M365.3 341.0h0M365.5 341.2h0M365.7 341.3h0M365.9 341.5h0M366.1 341.7h0M366.3 341.8h0M366.6 342.0h0M366.8 342.1h0M367.0 342.3h0M367.2 342.5h0M367.4 342.6h0M367.6 342.8h0M367.8 342.9h0M368.0 343.1h0M368.2 343.2h0M368.4 343.4h0M368.7 343.6h0M368.9 343.7h0M369.1 343.9h0M369.3 344.0h0M369.5 344.2h0M369.7 344.3h0M369.9 344.5h0M370.1 344.7h0M370.3 344.8h0M370.5 345.0h0M370.8 345.1h0M371.0 345.3h0M371.2 345.4h0M371.4 345.6h0M371.6 345.7h0M371.8 345.9h0M372.0 346.0h0M372.2 346.2h0M372.4 346.3h0M372.6 346.5h0M372.9 346.6h0M373.1 346.8h0M373.3 346.9h0M373.5 347.1h0M373.7 347.2h0M373.9 347.4h0M374.1 347.5h0M374.3 347.7h0M374.5 347.8h0M374.7 348.0h0M375.0 348.1h0M375.2 348.3h0M375.4 348.4h0M375.6 348.6h0M375.8 348.7h0M376.0 348.9h0M376.2 349.0h0M376.4 349.2h0M376.6 349.3h0M376.8 349.5h0M377.1 349.6h0M377.3 349.8h0M377.5 349.9h0M377.7 350.0h0M377.9 350.2h0M378.1 350.3h0M378.3 350.5h0M378.5 350.6h0M378.7 350.8h0M378.9 350.9h0M379.2 351.0h0M379.4 351.2h0M379.6 351.3h0M379.8 351.5h0M380.0 351.6h0M380.2 351.8h0M380.4 351.9h0M380.6 352.0h0M380.8 352.2h0M381.0 352.3h0M381.3 352.5h0M381.5 352.6h0M381.7 352.7h0M381.9 352.9h0M382.1 353.0h0M382.3 353.2h0M382.5 353.3h0M382.7 353.4h0M382.9 353.6h0M383.1 353.7h0M383.4 353.9h0M383.6 354.0h0M383.8 354.1h0M384.0 354.3h0M384.2 354.4h0M384.4 354.5h0M384.6 354.7h0M384.8 354.8h0M385.0 354.9h0M385.2 355.1h0M385.5 355.2h0M385.7 355.3h0M385.9 355.5h0M386.1 355.6h0M386.3 355.8h0M386.5 355.9h0M386.7 356.0h0M386.9 356.2h0M387.1 356.3h0M387.3 356.4h0M387.6 356.6h0M387.8 356.7h0M388.0 356.8h0M388.2 357.0h0M388.4 357.1h0M388.6 357.2h0M388.8 357.3h0M389.0 357.5h0M389.2 357.6h0M389.4 357.7h0M389.7 357.9h0M389.9 358.0h0M390.1 358.1h0M390.3 358.3h0M390.5 358.4h0M390.7 358.5h0M390.9 358.6h0M391.1 358.8h0M391.3 358.9h0M391.5 359.0h0M391.8 359.2h0M392.0 359.3h0M392.2 359.4h0M392.4 359.5h0M392.6 359.7h0M392.8 359.8h0M393.0 359.9h0M393.2 360.1h0M393.4 360.2h0M393.6 360.3h0M393.9 360.4h0M394.1 360.6h0M394.3 360.7h0M394.5 360.8h0M394.7 360.9h0M394.9 361.1h0M395.1 361.2h0M395.3 361.3h0M395.5 361.4h0M395.7 361.5h0M396.0 361.7h0M396.2 361.8h0M396.4 361.9h0M396.6 362.0h0M396.8 362.2h0M397.0 362.3h0M397.2 362.4h0M397.4 362.5h0M397.6 362.7h0M397.8 362.8h0M398.1 362.9h0M398.3 363.0h0M398.5 363.1h0M398.7 363.3h0M398.9 363.4h0M399.1 363.5h0M399.3 363.6h0M399.5 363.7h0M399.7 363.9h0M399.9 364.0h0M400.2 364.1h0M400.4 364.2h0M400.6 364.3h0M400.8 364.5h0M401.0 364.6h0M401.2 364.7h0M401.4 364.8h0M401.6 364.9h0M401.8 365.0h0M402.0 365.2h0M402.3 365.3h0M402.5 365.4h0M402.7 365.5h0M402.9 365.6h0M403.1 365.7h0M403.3 365.9h0M403.5 366.0h0M403.7 366.1h0M403.9 366.2h0M404.1 366.3h0M404.4 366.4h0M404.6 366.6h0M404.8 366.7h0M405.0 366.8h0M405.2 366.9h0M405.4 367.0h0M405.6 367.1h0M405.8 367.2h0M406.0 367.4h0M406.2 367.5h0M406.5 367.6h0M406.7 367.7h0M406.9 367.8h0M407.1 367.9h0M407.3 368.0h0M407.5 368.1h0M407.7 368.3h0M407.9 368.4h0M408.1 368.5h0M408.3 368.6h0M408.6 368.7h0M408.8 368.8h0M409.0 368.9h0M409.2 369.0h0M409.4 369.1h0M409.6 369.2h0M409.8 369.4h0M410.0 369.5h0M410.2 369.6h0M410.4 369.7h0M410.7 369.8h0M410.9 369.9h0M411.1 370.0h0M411.3 370.1h0M411.5 370.2h0M411.7 370.3h0M411.9 370.4h0M412.1 370.6h0M412.3 370.7h0M412.5 370.8h0M412.8 370.9h0M413.0 371.0h0M413.2 371.1h0M413.4 371.2h0M413.6 371.3h0M413.8 371.4h0M414.0 371.5h0M414.2 371.6h0M414.4 371.7h0M414.6 371.8h0M414.9 371.9h0M415.1 372.0h0M415.3 372.2h0M415.5 372.3h0M415.7 372.4h0M415.9 372.5h0M416.1 372.6h0M416.3 372.7h0M416.5 372.8h0M416.7 372.9h0M417.0 373.0h0M417.2 373.1h0M417.4 373.2h0M417.6 373.3h0M417.8 373.4h0M418.0 373.5h0M418.2 373.6h0M418.4 373.7h0M418.6 373.8h0M418.8 373.9h0M419.1 374.0h0M419.3 374.1h0M419.5 374.2h0M419.7 374.3h0M419.9 374.4h0M420.1 374.5h0M420.3 374.6h0M420.5 374.7h0M420.7 374.8h0M420.9 374.9h0M421.2 375.0h0M421.4 375.1h0M421.6 375.2h0M421.8 375.3h0M422.0 375.4h0M422.2 375.5h0M422.4 375.6h0M422.6 375.7h0M422.8 375.8h0M423.0 375.9h0M423.3 376.0h0M423.5 376.1h0M423.7 376.2h0M423.9 376.3h0M424.1 376.4h0M424.3 376.5h0M424.5 376.6h0M424.7 376.7h0M424.9 376.8h0M425.1 376.9h0M425.4 377.0h0M425.6 377.1h0M425.8 377.2h0M426.0 377.3h0M426.2 377.4h0M426.4 377.5h0M426.6 377.6h0M426.8 377.7h0M427.0 377.8h0M427.2 377.9h0M427.5 377.9h0M427.7 378.0h0M427.9 378.1h0M428.1 378.2h0M428.3 378.3h0M428.5 378.4h0M428.7 378.5h0M428.9 378.6h0M429.1 378.7h0M429.3 378.8h0M429.6 378.9h0M429.8 379.0h0M430.0 379.1h0M430.2 379.2h0M430.4 379.3h0M430.6 379.4h0M430.8 379.5h0M431.0 379.5h0M431.2 379.6h0M431.4 379.7h0M431.7 379.8h0M431.9 379.9h0M432.1 380.0h0M432.3 380.1h0M432.5 380.2h0M432.7 380.3h0M432.9 380.4h0M433.1 380.5h0M433.3 380.6h0M433.5 380.6h0M433.8 380.7h0M434.0 380.8h0M434.2 380.9h0M434.4 381.0h0M434.6 381.1h0M434.8 381.2h0M435.0 381.3h0M435.2 381.4h0M435.4 381.5h0M435.6 381.5h0M435.9 381.6h0M436.1 381.7h0M436.3 381.8h0M436.5 381.9h0M436.7 382.0h0M436.9 382.1h0M437.1 382.2h0M437.3 382.2h0M437.5 382.3h0M437.7 382.4h0M438.0 382.5h0M438.2 382.6h0M438.4 382.7h0M438.6 382.8h0M438.8 382.9h0M439.0 382.9h0M439.2 383.0h0M439.4 383.1h0M439.6 383.2h0M439.8 383.3h0M440.1 383.4h0M440.3 383.5h0M440.5 383.6h0M440.7 383.6h0M440.9 383.7h0M441.1 383.8h0M441.3 383.9h0M441.5 384.0h0M441.7 384.1h0M441.9 384.1h0M442.2 384.2h0M442.4 384.3h0M442.6 384.4h0M442.8 384.5h0M443.0 384.6h0M443.2 384.7h0M443.4 384.7h0M443.6 384.8h0M443.8 384.9h0M444.0 385.0h0M444.3 385.1h0M444.5 385.2h0M444.7 385.2h0M444.9 385.3h0M445.1 385.4h0M445.3 385.5h0M445.5 385.6h0M445.7 385.7h0M445.9 385.7h0M446.1 385.8h0M446.4 385.9h0M446.6 386.0h0M446.8 386.1h0M447.0 386.1h0M447.2 386.2h0M447.4 386.3h0M447.6 386.4h0M447.8 386.5h0M448.0 386.6h0M448.2 386.6h0M448.5 386.7h0M448.7 386.8h0M448.9 386.9h0M449.1 387.0h0M449.3 387.0h0M449.5 387.1h0M449.7 387.2h0M449.9 387.3h0M450.1 387.4h0M450.3 387.4h0M450.6 387.5h0M450.8 387.6h0M451.0 387.7h0M451.2 387.7h0M451.4 387.8h0M451.6 387.9h0M451.8 388.0h0M452.0 388.1h0M452.2 388.1h0M452.4 388.2h0M452.7 388.3h0M452.9 388.4h0M453.1 388.5h0M453.3 388.5h0M453.5 388.6h0M453.7 388.7h0M453.9 388.8h0M454.1 388.8h0M454.3 388.9h0M454.5 389.0h0M454.8 389.1h0M455.0 389.1h0M455.2 389.2h0M455.4 389.3h0M455.6 389.4h0M455.8 389.5h0M456.0 389.5h0M456.2 389.6h0M456.4 389.7h0M456.6 389.8h0M456.9 389.8h0M457.1 389.9h0M457.3 390.0h0M457.5 390.1h0M457.7 390.1h0M457.9 390.2h0M458.1 390.3h0M458.3 390.4h0M458.5 390.4h0M458.7 390.5h0M459.0 390.6h0M459.2 390.7h0M459.4 390.7h0M459.6 390.8h0M459.8 390.9h0M460.0 391.0h0M460.2 391.0h0M460.4 391.1h0M460.6 391.2h0M460.8 391.2h0M461.1 391.3h0M461.3 391.4h0M461.5 391.5h0M461.7 391.5h0M461.9 391.6h0M462.1 391.7h0M462.3 391.8h0M462.5 391.8h0M462.7 391.9h0M462.9 392.0h0M463.2 392.0h0M463.4 392.1h0M463.6 392.2h0M463.8 392.3h0M464.0 392.3h0M464.2 392.4h0M464.4 392.5h0M464.6 392.6h0M464.8 392.6h0M465.0 392.7h0M465.3 392.8h0M465.5 392.8h0M465.7 392.9h0M465.9 393.0h0M466.1 393.0h0M466.3 393.1h0M466.5 393.2h0M466.7 393.3h0M466.9 393.3h0M467.1 393.4h0M467.4 393.5h0M467.6 393.5h0M467.8 393.6h0M468.0 393.7h0M468.2 393.7h0M468.4 393.8h0M468.6 393.9h0M468.8 394.0h0M469.0 394.0h0M469.2 394.1h0M469.5 394.2h0M469.7 394.2h0M469.9 394.3h0M470.1 394.4h0M470.3 394.4h0M470.5 394.5h0M470.7 394.6h0M470.9 394.6h0M471.1 394.7h0M471.3 394.8h0M471.6 394.8h0M471.8 394.9h0M472.0 395.0h0M472.2 395.0h0M472.4 395.1h0M472.6 395.2h0M472.8 395.2h0M473.0 395.3h0M473.2 395.4h0M473.4 395.4h0M473.7 395.5h0M473.9 395.6h0M474.1 395.6h0M474.3 395.7h0M474.5 395.8h0M474.7 395.8h0M474.9 395.9h0M475.1 396.0h0M475.3 396.0h0M475.5 396.1h0M475.8 396.2h0M476.0 396.2h0M476.2 396.3h0M476.4 396.4h0M476.6 396.4h0M476.8 396.5h0M477.0 396.6h0M477.2 396.6h0M477.4 396.7h0M477.6 396.8h0M477.9 396.8h0M478.1 396.9h0M478.3 397.0h0M478.5 397.0h0M478.7 397.1h0M478.9 397.1h0M479.1 397.2h0M479.3 397.3h0M479.5 397.3h0M479.7 397.4h0M480.0 397.5h0M480.2 397.5h0M480.4 397.6h0M480.6 397.7h0M480.8 397.7h0M481.0 397.8h0M481.2 397.8h0M481.4 397.9h0M481.6 398.0h0M481.8 398.0h0M482.1 398.1h0M482.3 398.2h0M482.5 398.2h0M482.7 398.3h0M482.9 398.3h0M483.1 398.4h0M483.3 398.5h0M483.5 398.5h0M483.7 398.6h0M483.9 398.7h0M484.2 398.7h0M484.4 398.8h0M484.6 398.8h0M484.8 398.9h0M485.0 399.0h0M485.2 399.0h0M485.4 399.1h0M485.6 399.1h0M485.8 399.2h0M486.0 399.3h0M486.3 399.3h0M486.5 399.4h0M486.7 399.4h0M486.9 399.5h0M487.1 399.6h0M487.3 399.6h0M487.5 399.7h0M487.7 399.7h0M487.9 399.8h0M488.1 399.9h0M488.4 399.9h0M488.6 400.0h0M488.8 400.0h0M489.0 400.1h0M489.2 400.2h0M489.4 400.2h0M489.6 400.3h0M489.8 400.3h0M490.0 400.4h0M490.2 400.5h0M490.5 400.5h0M490.7 400.6h0M490.9 400.6h0M491.1 400.7h0M491.3 400.8h0M491.5 400.8h0M491.7 400.9h0M491.9 400.9h0M492.1 401.0h0M492.3 401.0h0M492.6 401.1h0M492.8 401.2h0M493.0 401.2h0M493.2 401.3h0M493.4 401.3h0M493.6 401.4h0M493.8 401.5h0M494.0 401.5h0M494.2 401.6h0M494.4 401.6h0M494.7 401.7h0M494.9 401.7h0M495.1 401.8h0M495.3 401.9h0M495.5 401.9h0M495.7 402.0h0M495.9 402.0h0M496.1 402.1h0M496.3 402.1h0M496.5 402.2h0M496.8 402.2h0M497.0 402.3h0M497.2 402.4h0M497.4 402.4h0M497.6 402.5h0M497.8 402.5h0M498.0 402.6h0M498.2 402.6h0M498.4 402.7h0M498.6 402.7h0M498.9 402.8h0M499.1 402.9h0M499.3 402.9h0M499.5 403.0h0M499.7 403.0h0M499.9 403.1h0M500.1 403.1h0M500.3 403.2h0M500.5 403.2h0M500.7 403.3h0M501.0 403.4h0M501.2 403.4h0M501.4 403.5h0M501.6 403.5h0M501.8 403.6h0M502.0 403.6h0M502.2 403.7h0M502.4 403.7h0M502.6 403.8h0M502.8 403.8h0M503.1 403.9h0M503.3 403.9h0M503.5 404.0h0M503.7 404.1h0M503.9 404.1h0M504.1 404.2h0M504.3 404.2h0M504.5 404.3h0M504.7 404.3h0M504.9 404.4h0M505.2 404.4h0M505.4 404.5h0M505.6 404.5h0M505.8 404.6h0M506.0 404.6h0M506.2 404.7h0M506.4 404.7h0M506.6 404.8h0M506.8 404.8h0M507.0 404.9h0M507.3 405.0h0M507.5 405.0h0M507.7 405.1h0M507.9 405.1h0M508.1 405.2h0M508.3 405.2h0M508.5 405.3h0M508.7 405.3h0M508.9 405.4h0M509.1 405.4h0M509.4 405.5h0M509.6 405.5h0M509.8 405.6h0M510.0 405.6h0M510.2 405.7h0M510.4 405.7h0M510.6 405.8h0M510.8 405.8h0M511.0 405.9h0M511.2 405.9h0M511.5 406.0h0M511.7 406.0h0M511.9 406.1h0M512.1 406.1h0M512.3 406.2h0M512.5 406.2h0M512.7 406.3h0M512.9 406.3h0M513.1 406.4h0M513.3 406.4h0M513.6 406.5h0M513.8 406.5h0M514.0 406.6h0M514.2 406.6h0M514.4 406.7h0M514.6 406.7h0M514.8 406.8h0M515.0 406.8h0M515.2 406.9h0M515.4 406.9h0M515.7 407.0h0M515.9 407.0h0M516.1 407.1h0M516.3 407.1h0M516.5 407.2h0M516.7 407.2h0M516.9 407.3h0M517.1 407.3h0M517.3 407.4h0M517.5 407.4h0M517.8 407.5h0M518.0 407.5h0M518.2 407.6h0M518.4 407.6h0M518.6 407.7h0M518.8 407.7h0M519.0 407.7h0M519.2 407.8h0M519.4 407.8h0M519.6 407.9h0M519.9 407.9h0M520.1 408.0h0M520.3 408.0h0M520.5 408.1h0M520.7 408.1h0M520.9 408.2h0M521.1 408.2h0M521.3 408.3h0M521.5 408.3h0M521.7 408.4h0M522.0 408.4h0M522.2 408.5h0M522.4 408.5h0M522.6 408.5h0M522.8 408.6h0M523.0 408.6h0M523.2 408.7h0M523.4 408.7h0M523.6 408.8h0M523.8 408.8h0M524.1 408.9h0M524.3 408.9h0M524.5 409.0h0M524.7 409.0h0M524.9 409.1h0M525.1 409.1h0M525.3 409.1h0M525.5 409.2h0M525.7 409.2h0M525.9 409.3h0M526.2 409.3h0M526.4 409.4h0M526.6 409.4h0M526.8 409.5h0M527.0 409.5h0M527.2 409.6h0M527.4 409.6h0M527.6 409.6h0M527.8 409.7h0M528.0 409.7h0M528.3 409.8h0M528.5 409.8h0M528.7 409.9h0M528.9 409.9h0M529.1 410.0h0M529.3 410.0h0M529.5 410.0h0M529.7 410.1h0M529.9 410.1h0M530.1 410.2h0M530.4 410.2h0M530.6 410.3h0M530.8 410.3h0M531.0 410.4h0M531.2 410.4h0M531.4 410.4h0M531.6 410.5h0M531.8 410.5h0M532.0 410.6h0M532.2 410.6h0M532.5 410.7h0M532.7 410.7h0M532.9 410.8h0M533.1 410.8h0M533.3 410.8h0M533.5 410.9h0M533.7 410.9h0M533.9 411.0h0M534.1 411.0h0M534.3 411.1h0M534.6 411.1h0M534.8 411.1h0M535.0 411.2h0M535.2 411.2h0M535.4 411.3h0M535.6 411.3h0M535.8 411.4h0M536.0 411.4h0M536.2 411.4h0M536.4 411.5h0M536.7 411.5h0M536.9 411.6h0M537.1 411.6h0M537.3 411.6h0M537.5 411.7h0M537.7 411.7h0M537.9 411.8h0M538.1 411.8h0M538.3 411.9h0M538.5 411.9h0M538.8 411.9h0M539.0 412.0h0M539.2 412.0h0M539.4 412.1h0M539.6 412.1h0M539.8 412.1h0M540.0 412.2h0M540.2 412.2h0M540.4 412.3h0M540.6 412.3h0M540.9 412.4h0M541.1 412.4h0M541.3 412.4h0M541.5 412.5h0M541.7 412.5h0M541.9 412.6h0M542.1 412.6h0M542.3 412.6h0M542.5 412.7h0M542.7 412.7h0M543.0 412.8h0M543.2 412.8h0M543.4 412.8h0M543.6 412.9h0M543.8 412.9h0M544.0 413.0h0M544.2 413.0h0M544.4 413.0h0M544.6 413.1h0M544.8 413.1h0M545.1 413.2h0M545.3 413.2h0M545.5 413.2h0M545.7 413.3h0M545.9 413.3h0M546.1 413.4h0M546.3 413.4h0M546.5 413.4h0M546.7 413.5h0M546.9 413.5h0M547.2 413.5h0M547.4 413.6h0M547.6 413.6h0M547.8 413.7h0M548.0 413.7h0M548.2 413.7h0M548.4 413.8h0M548.6 413.8h0M548.8 413.9h0M549.0 413.9h0M549.3 413.9h0M549.5 414.0h0M549.7 414.0h0M549.9 414.1h0M550.1 414.1h0M550.3 414.1h0M550.5 414.2h0M550.7 414.2h0M550.9 414.2h0M551.1 414.3h0M551.4 414.3h0M551.6 414.4h0M551.8 414.4h0M552.0 414.4h0M552.2 414.5h0M552.4 414.5h0M552.6 414.5h0M552.8 414.6h0M553.0 414.6h0M553.2 414.7h0M553.5 414.7h0M553.7 414.7h0M553.9 414.8h0M554.1 414.8h0M554.3 414.8h0M554.5 414.9h0M554.7 414.9h0M554.9 415.0h0M555.1 415.0h0M555.3 415.0h0M555.6 415.1h0M555.8 415.1h0M556.0 415.1h0M556.2 415.2h0M556.4 415.2h0M556.6 415.3h0M556.8 415.3h0M557.0 415.3h0M557.2 415.4h0M557.4 415.4h0M557.7 415.4h0M557.9 415.5h0M558.1 415.5h0M558.3 415.5h0M558.5 415.6h0M558.7 415.6h0M558.9 415.6h0M559.1 415.7h0M559.3 415.7h0M559.5 415.8h0M559.8 415.8h0M560.0 415.8h0M560.2 415.9h0M560.4 415.9h0M560.6 415.9h0M560.8 416.0h0M561.0 416.0h0M561.2 416.0h0M561.4 416.1h0M561.6 416.1h0M561.9 416.1h0M562.1 416.2h0M562.3 416.2h0M562.5 416.3h0M562.7 416.3h0M562.9 416.3h0M563.1 416.4h0M563.3 416.4h0M563.5 416.4h0M563.7 416.5h0M564.0 416.5h0M564.2 416.5h0M564.4 416.6h0M564.6 416.6h0M564.8 416.6h0M565.0 416.7h0M565.2 416.7h0M565.4 416.7h0M565.6 416.8h0M565.8 416.8h0M566.1 416.8h0M566.3 416.9h0M566.5 416.9h0M566.7 416.9h0M566.9 417.0h0M567.1 417.0h0M567.3 417.0h0M567.5 417.1h0M567.7 417.1h0M567.9 417.1h0M568.2 417.2h0M568.4 417.2h0M568.6 417.2h0M568.8 417.3h0M569.0 417.3h0M569.2 417.3h0M569.4 417.4h0M569.6 417.4h0M569.8 417.4h0M570.0 417.5h0M570.3 417.5h0M570.5 417.5h0M570.7 417.6h0M570.9 417.6h0M571.1 417.6h0M571.3 417.7h0M571.5 417.7h0M571.7 417.7h0M571.9 417.8h0M572.1 417.8h0M572.4 417.8h0M572.6 417.9h0M572.8 417.9h0M573.0 417.9h0M573.2 418.0h0M573.4 418.0h0M573.6 418.0h0M573.8 418.1h0M574.0 418.1h0M574.2 418.1h0M574.5 418.2h0M574.7 418.2h0M574.9 418.2h0M575.1 418.3h0M575.3 418.3h0M575.5 418.3h0M575.7 418.4h0M575.9 418.4h0M576.1 418.4h0M576.3 418.4h0M576.6 418.5h0M576.8 418.5h0M577.0 418.5h0M577.2 418.6h0M577.4 418.6h0M577.6 418.6h0M577.8 418.7h0M578.0 418.7h0M578.2 418.7h0M578.4 418.8h0M578.7 418.8h0M578.9 418.8h0M579.1 418.9h0M579.3 418.9h0M579.5 418.9h0M579.7 418.9h0M579.9 419.0h0M580.1 419.0h0M580.3 419.0h0M580.5 419.1h0M580.8 419.1h0M581.0 419.1h0M581.2 419.2h0M581.4 419.2h0M581.6 419.2h0M581.8 419.3h0M582.0 419.3h0M582.2 419.3h0M582.4 419.3h0M582.6 419.4h0M582.9 419.4h0M583.1 419.4h0M583.3 419.5h0M583.5 419.5h0M583.7 419.5h0M583.9 419.6h0M584.1 419.6h0M584.3 419.6h0M584.5 419.6h0M584.7 419.7h0M585.0 419.7h0M585.2 419.7h0M585.4 419.8h0M585.6 419.8h0M585.8 419.8h0M586.0 419.9h0M586.2 419.9h0M586.4 419.9h0M586.6 419.9h0M586.8 420.0h0M587.1 420.0h0M587.3 420.0h0M587.5 420.1h0M587.7 420.1h0M587.9 420.1h0M588.1 420.1h0M588.3 420.2h0M588.5 420.2h0M588.7 420.2h0M588.9 420.3h0M589.2 420.3h0M589.4 420.3h0M589.6 420.3h0M589.8 420.4h0M590.0 420.4h0M590.2 420.4h0M590.4 420.5h0M590.6 420.5h0M590.8 420.5h0M591.0 420.5h0M591.3 420.6h0M591.5 420.6h0M591.7 420.6h0M591.9 420.7h0M592.1 420.7h0M592.3 420.7h0M592.5 420.7h0M592.7 420.8h0M592.9 420.8h0M593.1 420.8h0M593.4 420.9h0M593.6 420.9h0M593.8 420.9h0M594.0 420.9h0M594.2 421.0h0M594.4 421.0h0M594.6 421.0h0M594.8 421.0h0M595.0 421.1h0M595.2 421.1h0M595.5 421.1h0M595.7 421.2h0M595.9 421.2h0M596.1 421.2h0M596.3 421.2h0M596.5 421.3h0M596.7 421.3h0M596.9 421.3h0M597.1 421.3h0M597.3 421.4h0M597.6 421.4h0M597.8 421.4h0M598.0 421.5h0M598.2 421.5h0M598.4 421.5h0M598.6 421.5h0M598.8 421.6h0M599.0 421.6h0M599.2 421.6h0M599.4 421.6h0M599.7 421.7h0M599.9 421.7h0M600.1 421.7h0M600.3 421.7h0M600.5 421.8h0M600.7 421.8h0M600.9 421.8h0M601.1 421.9h0M601.3 421.9h0M601.5 421.9h0M601.8 421.9h0M602.0 422.0h0M602.2 422.0h0M602.4 422.0h0M602.6 422.0h0M602.8 422.1h0M603.0 422.1h0M603.2 422.1h0M603.4 422.1h0M603.6 422.2h0M603.9 422.2h0M604.1 422.2h0M604.3 422.2h0M604.5 422.3h0M604.7 422.3h0M604.9 422.3h0M605.1 422.3h0M605.3 422.4h0M605.5 422.4h0M605.7 422.4h0M606.0 422.4h0M606.2 422.5h0M606.4 422.5h0M606.6 422.5h0M606.8 422.5h0M607.0 422.6h0M607.2 422.6h0M607.4 422.6h0M607.6 422.6h0M607.8 422.7h0M608.1 422.7h0M608.3 422.7h0M608.5 422.7h0M608.7 422.8h0M608.9 422.8h0M609.1 422.8h0M609.3 422.8h0M609.5 422.9h0M609.7 422.9h0M609.9 422.9h0M610.2 422.9h0M610.4 423.0h0M610.6 423.0h0M610.8 423.0h0M611.0 423.0h0M611.2 423.1h0M611.4 423.1h0M611.6 423.1h0M611.8 423.1h0M612.0 423.2h0M612.3 423.2h0M612.5 423.2h0M612.7 423.2h0M612.9 423.3h0M613.1 423.3h0M613.3 423.3h0M613.5 423.3h0M613.7 423.4h0M613.9 423.4h0M614.1 423.4h0M614.4 423.4h0M614.6 423.4h0M614.8 423.5h0M615.0 423.5h0M615.2 423.5h0M615.4 423.5h0M615.6 423.6h0M615.8 423.6h0M616.0 423.6h0M616.2 423.6h0M616.5 423.7h0M616.7 423.7h0M616.9 423.7h0M617.1 423.7h0M617.3 423.8h0M617.5 423.8h0M617.7 423.8h0M617.9 423.8h0M618.1 423.8h0M618.3 423.9h0M618.6 423.9h0M618.8 423.9h0M619.0 423.9h0M619.2 424.0h0M619.4 424.0h0M619.6 424.0h0M619.8 424.0h0M620.0 424.0h0M620.2 424.1h0M620.4 424.1h0M620.7 424.1h0M620.9 424.1h0M621.1 424.2h0M621.3 424.2h0M621.5 424.2h0M621.7 424.2h0M621.9 424.3h0M622.1 424.3h0M622.3 424.3h0" fill="none" stroke="#0d62b2" stroke-width="3.4" stroke-linecap="round"/>
<path d="M94.4 171.1h0M94.6 172.0h0M94.8 172.9h0M95.0 173.8h0M95.2 174.7h0M95.4 175.5h0M95.7 176.4h0M95.9 177.3h0M96.1 178.2h0M96.3 179.1h0M96.5 179.9h0M96.7 180.8h0M96.9 181.7h0M97.1 182.6h0M97.3 183.5h0M97.5 184.4h0M97.8 185.3h0M98.0 186.2h0M98.2 187.1h0M98.4 188.0h0M98.6 188.8h0M98.8 189.7h0M99.0 190.6h0M99.2 191.5h0M99.4 192.4h0M99.6 193.3h0M99.9 194.2h0M100.1 195.1h0M100.3 196.0h0M100.5 196.9h0M100.7 197.8h0M100.9 198.7h0M101.1 199.6h0M101.3 200.5h0M101.5 201.4h0M101.7 202.3h0M102.0 203.2h0M102.2 204.2h0M102.4 205.1h0M102.6 206.0h0M102.8 206.9h0M103.0 207.8h0M103.2 208.7h0M103.4 209.6h0M103.6 210.5h0M103.8 211.4h0M104.1 212.3h0M104.3 213.2h0M104.5 214.1h0M104.7 215.0h0M104.9 215.9h0M105.1 216.9h0M105.3 217.8h0M105.5 218.7h0M105.7 219.6h0M105.9 220.5h0M106.2 221.4h0M106.4 222.3h0M106.6 223.2h0M106.8 224.1h0M107.0 225.0h0M107.2 226.0h0M107.4 226.9h0M107.6 227.8h0M107.8 228.7h0M108.0 229.6h0M108.3 230.5h0M108.5 231.4h0M108.7 232.3h0M108.9 233.2h0M109.1 234.1h0M109.3 235.0h0M109.5 236.0h0M109.7 236.9h0M109.9 237.8h0M110.1 238.7h0M110.4 239.6h0M110.6 240.5h0M110.8 241.4h0M111.0 242.3h0M111.2 243.2h0M111.4 244.1h0M111.6 245.0h0M111.8 245.9h0M112.0 246.8h0M112.2 247.7h0M112.5 248.6h0M112.7 249.5h0M112.9 250.4h0M113.1 251.3h0M113.3 252.2h0M113.5 253.1h0M113.7 254.0h0M113.9 254.9h0M114.1 255.8h0M114.3 256.7h0M114.6 257.6h0M114.8 258.5h0M115.0 259.4h0M115.2 260.3h0M115.4 261.2h0M115.6 262.0h0M115.8 262.9h0M116.0 263.8h0M116.2 264.7h0M116.4 265.6h0M116.7 266.5h0M116.9 267.4h0M117.1 268.2h0M117.3 269.1h0M117.5 270.0h0M117.7 270.9h0M117.9 271.7h0M118.1 272.6h0M118.3 273.5h0M118.5 274.4h0M118.8 275.2h0M119.0 276.1h0M119.2 277.0h0M119.4 277.8h0M119.6 278.7h0M119.8 279.5h0M120.0 280.4h0M120.2 281.3h0M120.4 282.1h0M120.6 283.0h0M120.9 283.8h0M121.1 284.7h0M121.3 285.5h0M121.5 286.4h0M121.7 287.2h0M121.9 288.1h0M122.1 288.9h0M122.3 289.7h0M122.5 290.6h0M122.7 291.4h0M123.0 292.2h0M123.2 293.1h0M123.4 293.9h0M123.6 294.7h0M123.8 295.6h0M124.0 296.4h0M124.2 297.2h0M124.4 298.0h0M124.6 298.8h0M124.8 299.6h0M125.1 300.4h0M125.3 301.2h0M125.5 302.0h0M125.7 302.8h0M125.9 303.6h0M126.1 304.4h0M126.3 305.2h0M126.5 306.0h0M126.7 306.8h0M126.9 307.6h0M127.2 308.4h0M127.4 309.1h0M127.6 309.9h0M127.8 310.7h0M128.0 311.5h0M128.2 312.2h0M128.4 313.0h0M128.6 313.7h0M128.8 314.5h0M129.0 315.2h0M129.3 316.0h0M129.5 316.7h0M129.7 317.5h0M129.9 318.2h0M130.1 318.9h0M130.3 319.6h0M130.5 320.4h0M130.7 321.1h0M130.9 321.8h0M131.1 322.5h0M131.4 323.2h0M131.6 323.9h0M131.8 324.6h0M132.0 325.3h0M132.2 326.0h0M132.4 326.7h0M132.6 327.3h0M132.8 328.0h0M133.0 328.7h0M133.2 329.3h0M133.5 330.0h0M133.7 330.7h0M133.9 331.3h0M134.1 331.9h0M134.3 332.6h0M134.5 333.2h0M134.7 333.8h0M134.9 334.4h0M135.1 335.0h0M135.3 335.6h0M135.6 336.2h0M135.8 336.8h0M136.0 337.4h0M136.2 338.0h0M136.4 338.5h0M136.6 339.1h0M136.8 339.6h0M137.0 340.2h0M137.2 340.7h0M137.4 341.2h0M137.7 341.7h0M137.9 342.2h0M138.1 342.7h0M138.3 343.2h0M138.5 343.7h0M138.7 344.2h0M138.9 344.6h0M139.1 345.1h0M139.3 345.5h0M139.5 345.9h0M139.8 346.4h0M140.0 346.8h0M140.2 347.2h0M140.4 347.6h0M140.6 347.9h0M140.8 348.3h0M141.0 348.6h0M141.2 349.0h0M141.4 349.3h0M141.6 349.6h0M141.9 349.9h0M142.1 350.1h0M142.3 350.4h0M142.5 350.6h0M142.7 350.8h0M142.9 351.0h0M143.1 351.1h0M143.3 351.3h0M143.5 351.4h0M143.7 351.4h0M144.0 351.5h0M144.2 351.5h0M144.4 351.5h0M144.6 351.4h0M144.8 351.3h0M145.0 351.2h0M145.2 351.0h0M145.4 350.8h0M145.6 350.6h0M145.8 350.3h0M146.1 349.9h0M146.3 349.5h0M146.5 349.1h0M146.7 348.6h0M146.9 348.0h0M147.1 347.4h0M147.3 346.7h0M147.5 345.9h0M147.7 345.1h0M147.9 344.1h0M148.2 343.1h0M148.4 342.0h0M148.6 340.8h0M148.8 339.5h0M149.0 338.1h0M149.2 336.5h0M149.4 334.8h0M149.6 333.0h0M149.8 331.0h0M150.0 328.8h0M150.3 326.4h0M150.5 323.8h0M150.7 321.0h0M150.9 317.9h0M151.1 314.5h0M151.3 310.8h0M151.5 306.8h0M151.7 302.3h0M151.9 297.4h0M152.1 292.0h0M152.4 286.1h0M152.6 279.5h0M152.8 272.2h0M153.0 264.0h0M153.2 255.0h0M153.4 245.0h0M153.6 233.8h0M153.8 221.3h0M154.0 207.3h0M154.2 191.8h0M154.5 174.6h0M154.7 155.6h0M154.9 135.0h0M155.1 113.1h0M155.3 90.4h0M155.5 68.1h0M155.7 47.9h0M155.9 32.1h0M156.1 23.7h0M156.3 25.4h0M156.6 39.2h0M156.8 65.0h0M157.0 100.9h0M157.2 143.2h0M157.4 187.5h0M157.6 230.4h0M157.8 269.6h0M158.0 303.8h0M158.2 332.8h0M158.4 356.9h0M158.7 376.7h0M158.9 392.8h0M159.1 405.9h0M159.3 416.5h0M159.5 425.1h0M159.7 432.1h0M159.9 437.8h0M160.1 442.4h0M160.3 446.2h0M160.5 449.3h0M160.8 451.8h0M161.0 453.9h0M161.2 455.6h0M161.4 457.0h0M161.6 458.2h0M161.8 459.2h0M162.0 460.0h0M162.2 460.6h0M162.4 461.2h0M162.6 461.6h0M162.9 462.0h0M163.1 462.3h0M163.3 462.5h0M163.5 462.8h0M163.7 462.9h0M163.9 463.1h0M164.1 463.2h0M164.3 463.3h0M164.5 463.3h0M164.7 463.4h0M165.0 463.4h0M165.2 463.5h0M165.4 463.5h0M165.6 463.5h0M165.8 463.5h0M166.0 463.6h0M166.2 463.6h0M166.4 463.6h0M166.6 463.6h0M166.8 463.6h0M167.1 463.6h0M167.3 463.6h0M167.5 463.6h0M167.7 463.6h0M167.9 463.6h0M168.1 463.6h0M168.3 463.6h0M168.5 463.6h0M168.7 463.6h0M168.9 463.6h0M169.2 463.6h0M169.4 463.5h0M169.6 463.5h0M169.8 463.5h0M170.0 463.5h0M170.2 463.5h0M170.4 463.5h0M170.6 463.4h0M170.8 463.4h0M171.0 463.4h0M171.3 463.3h0M171.5 463.3h0M171.7 463.3h0M171.9 463.2h0M172.1 463.1h0M172.3 463.1h0M172.5 463.0h0M172.7 462.9h0M172.9 462.9h0M173.1 462.8h0M173.4 462.7h0M173.6 462.6h0M173.8 462.5h0M174.0 462.4h0M174.2 462.3h0M174.4 462.2h0M174.6 462.1h0M174.8 462.0h0M175.0 461.8h0M175.2 461.7h0M175.5 461.6h0M175.7 461.5h0M175.9 461.3h0M176.1 461.2h0M176.3 461.1h0M176.5 460.9h0M176.7 460.8h0M176.9 460.6h0M177.1 460.5h0M177.3 460.3h0M177.6 460.2h0M177.8 460.0h0M178.0 459.9h0M178.2 459.7h0M178.4 459.5h0M178.6 459.4h0M178.8 459.2h0M179.0 459.0h0M179.2 458.8h0M179.4 458.6h0M179.7 458.4h0M179.9 458.2h0M180.1 458.0h0M180.3 457.8h0M180.5 457.6h0M180.7 457.4h0M180.9 457.2h0M181.1 457.0h0M181.3 456.8h0M181.5 456.5h0M181.8 456.3h0M182.0 456.1h0M182.2 455.9h0M182.4 455.6h0M182.6 455.4h0M182.8 455.1h0M183.0 454.9h0M183.2 454.6h0M183.4 454.4h0M183.6 454.1h0M183.9 453.9h0M184.1 453.6h0M184.3 453.3h0M184.5 453.1h0M184.7 452.8h0M184.9 452.5h0M185.1 452.3h0M185.3 452.0h0M185.5 451.7h0M185.7 451.4h0M186.0 451.1h0M186.2 450.8h0M186.4 450.5h0M186.6 450.3h0M186.8 450.0h0M187.0 449.7h0M187.2 449.3h0M187.4 449.0h0M187.6 448.7h0M187.8 448.4h0M188.1 448.1h0M188.3 447.8h0M188.5 447.5h0M188.7 447.1h0M188.9 446.8h0M189.1 446.5h0M189.3 446.2h0M189.5 445.8h0M189.7 445.5h0M189.9 445.1h0M190.2 444.8h0M190.4 444.5h0M190.6 444.1h0M190.8 443.8h0M191.0 443.4h0M191.2 443.1h0M191.4 442.7h0M191.6 442.3h0M191.8 442.0h0M192.0 441.6h0M192.3 441.2h0M192.5 440.9h0M192.7 440.5h0M192.9 440.1h0M193.1 439.8h0M193.3 439.4h0M193.5 439.0h0M193.7 438.6h0M193.9 438.2h0M194.1 437.9h0M194.4 437.5h0M194.6 437.1h0M194.8 436.7h0M195.0 436.3h0M195.2 435.9h0M195.4 435.5h0M195.6 435.1h0M195.8 434.7h0M196.0 434.3h0M196.2 433.9h0M196.5 433.5h0M196.7 433.1h0M196.9 432.6h0M197.1 432.2h0M197.3 431.8h0M197.5 431.4h0M197.7 431.0h0M197.9 430.6h0M198.1 430.1h0M198.3 429.7h0M198.6 429.3h0M198.8 428.8h0M199.0 428.4h0M199.2 428.0h0M199.4 427.6h0M199.6 427.1h0M199.8 426.7h0M200.0 426.2h0M200.2 425.8h0M200.4 425.4h0M200.7 424.9h0M200.9 424.5h0M201.1 424.0h0M201.3 423.6h0M201.5 423.1h0M201.7 422.7h0M201.9 422.2h0M202.1 421.8h0M202.3 421.3h0M202.5 420.9h0M202.8 420.4h0M203.0 419.9h0M203.2 419.5h0M203.4 419.0h0M203.6 418.5h0M203.8 418.1h0M204.0 417.6h0M204.2 417.1h0M204.4 416.7h0M204.6 416.2h0M204.9 415.7h0M205.1 415.3h0M205.3 414.8h0M205.5 414.3h0M205.7 413.8h0M205.9 413.4h0M206.1 412.9h0M206.3 412.4h0M206.5 411.9h0M206.7 411.4h0M207.0 411.0h0M207.2 410.5h0M207.4 410.0h0M207.6 409.5h0M207.8 409.0h0M208.0 408.5h0M208.2 408.0h0M208.4 407.5h0M208.6 407.1h0M208.8 406.6h0M209.1 406.1h0M209.3 405.6h0M209.5 405.1h0M209.7 404.6h0M209.9 404.1h0M210.1 403.6h0M210.3 403.1h0M210.5 402.6h0M210.7 402.1h0M210.9 401.6h0M211.2 401.1h0M211.4 400.6h0M211.6 400.1h0M211.8 399.6h0M212.0 399.1h0M212.2 398.6h0M212.4 398.1h0M212.6 397.6h0M212.8 397.1h0M213.0 396.6h0M213.3 396.0h0M213.5 395.5h0M213.7 395.0h0M213.9 394.5h0M214.1 394.0h0M214.3 393.5h0M214.5 393.0h0M214.7 392.5h0M214.9 392.0h0M215.1 391.4h0M215.4 390.9h0M215.6 390.4h0M215.8 389.9h0M216.0 389.4h0M216.2 388.9h0M216.4 388.4h0M216.6 387.8h0M216.8 387.3h0M217.0 386.8h0M217.2 386.3h0M217.5 385.8h0M217.7 385.3h0M217.9 384.7h0M218.1 384.2h0M218.3 383.7h0M218.5 383.2h0M218.7 382.7h0M218.9 382.1h0M219.1 381.6h0M219.3 381.1h0M219.6 380.6h0M219.8 380.1h0M220.0 379.5h0M220.2 379.0h0M220.4 378.5h0M220.6 378.0h0M220.8 377.5h0M221.0 376.9h0M221.2 376.4h0M221.4 375.9h0M221.7 375.4h0M221.9 374.9h0M222.1 374.3h0M222.3 373.8h0M222.5 373.3h0M222.7 372.8h0M222.9 372.2h0M223.1 371.7h0M223.3 371.2h0M223.5 370.7h0M223.8 370.2h0M224.0 369.6h0M224.2 369.1h0M224.4 368.6h0M224.6 368.1h0M224.8 367.5h0M225.0 367.0h0M225.2 366.5h0M225.4 366.0h0M225.6 365.4h0M225.9 364.9h0M226.1 364.4h0M226.3 363.9h0M226.5 363.4h0M226.7 362.8h0M226.9 362.3h0M227.1 361.8h0M227.3 361.3h0M227.5 360.8h0M227.7 360.2h0M228.0 359.7h0M228.2 359.2h0M228.4 358.7h0M228.6 358.1h0M228.8 357.6h0M229.0 357.1h0M229.2 356.6h0M229.4 356.1h0M229.6 355.5h0M229.8 355.0h0M230.1 354.5h0M230.3 354.0h0M230.5 353.5h0M230.7 353.0h0M230.9 352.4h0M231.1 351.9h0M231.3 351.4h0M231.5 350.9h0M231.7 350.4h0M231.9 349.8h0M232.2 349.3h0M232.4 348.8h0M232.6 348.3h0M232.8 347.8h0M233.0 347.3h0M233.2 346.8h0M233.4 346.2h0M233.6 345.7h0M233.8 345.2h0M234.0 344.7h0M234.3 344.2h0M234.5 343.7h0M234.7 343.2h0M234.9 342.6h0M235.1 342.1h0M235.3 341.6h0M235.5 341.1h0M235.7 340.6h0M235.9 340.1h0M236.1 339.6h0M236.4 339.1h0M236.6 338.6h0M236.8 338.1h0M237.0 337.5h0M237.2 337.0h0M237.4 336.5h0M237.6 336.0h0M237.8 335.5h0M238.0 335.0h0M238.2 334.5h0M238.5 334.0h0M238.7 333.5h0M238.9 333.0h0M239.1 332.5h0M239.3 332.0h0M239.5 331.5h0M239.7 331.0h0M239.9 330.5h0M240.1 330.0h0M240.3 329.5h0M240.6 329.0h0M240.8 328.5h0M241.0 328.0h0M241.2 327.5h0M241.4 327.0h0M241.6 326.5h0M241.8 326.0h0M242.0 325.5h0M242.2 325.0h0M242.4 324.5h0M242.7 324.0h0M242.9 323.5h0M243.1 323.0h0M243.3 322.5h0M243.5 322.0h0M243.7 321.6h0M243.9 321.1h0M244.1 320.6h0M244.3 320.1h0M244.5 319.6h0M244.8 319.1h0M245.0 318.6h0M245.2 318.1h0M245.4 317.7h0M245.6 317.2h0M245.8 316.7h0M246.0 316.2h0M246.2 315.7h0M246.4 315.2h0M246.6 314.7h0M246.9 314.3h0M247.1 313.8h0M247.3 313.3h0M247.5 312.8h0M247.7 312.3h0M247.9 311.9h0M248.1 311.4h0M248.3 310.9h0M248.5 310.4h0M248.7 310.0h0M249.0 309.5h0M249.2 309.0h0M249.4 308.5h0M249.6 308.1h0M249.8 307.6h0M250.0 307.1h0M250.2 306.6h0M250.4 306.2h0M250.6 305.7h0M250.8 305.2h0M251.1 304.8h0M251.3 304.3h0M251.5 303.8h0M251.7 303.4h0M251.9 302.9h0M252.1 302.4h0M252.3 302.0h0M252.5 301.5h0M252.7 301.0h0M252.9 300.6h0M253.2 300.1h0M253.4 299.6h0M253.6 299.2h0M253.8 298.7h0M254.0 298.3h0M254.2 297.8h0M254.4 297.3h0M254.6 296.9h0M254.8 296.4h0M255.0 296.0h0M255.3 295.5h0M255.5 295.1h0M255.7 294.6h0M255.9 294.2h0M256.1 293.7h0M256.3 293.3h0M256.5 292.8h0M256.7 292.4h0M256.9 291.9h0M257.1 291.5h0M257.4 291.0h0M257.6 290.6h0M257.8 290.1h0M258.0 289.7h0M258.2 289.2h0M258.4 288.8h0M258.6 288.3h0M258.8 287.9h0M259.0 287.5h0M259.2 287.0h0M259.5 286.6h0M259.7 286.1h0M259.9 285.7h0M260.1 285.3h0M260.3 284.8h0M260.5 284.4h0M260.7 283.9h0M260.9 283.5h0M261.1 283.1h0M261.3 282.6h0M261.6 282.2h0M261.8 281.8h0M262.0 281.3h0M262.2 280.9h0M262.4 280.5h0M262.6 280.1h0M262.8 279.6h0M263.0 279.2h0M263.2 278.8h0M263.4 278.3h0M263.7 277.9h0M263.9 277.5h0M264.1 277.1h0M264.3 276.7h0M264.5 276.2h0M264.7 275.8h0M264.9 275.4h0M265.1 275.0h0M265.3 274.5h0M265.5 274.1h0M265.8 273.7h0M266.0 273.3h0M266.2 272.9h0M266.4 272.5h0M266.6 272.0h0M266.8 271.6h0M267.0 271.2h0M267.2 270.8h0M267.4 270.4h0M267.6 270.0h0M267.9 269.6h0M268.1 269.2h0M268.3 268.8h0M268.5 268.3h0M268.7 267.9h0M268.9 267.5h0M269.1 267.1h0M269.3 266.7h0M269.5 266.3h0M269.7 265.9h0M270.0 265.5h0M270.2 265.1h0M270.4 264.7h0M270.6 264.3h0M270.8 263.9h0M271.0 263.5h0M271.2 263.1h0M271.4 262.7h0M271.6 262.3h0M271.8 261.9h0M272.1 261.5h0M272.3 261.1h0M272.5 260.7h0M272.7 260.3h0M272.9 259.9h0M273.1 259.5h0M273.3 259.2h0M273.5 258.8h0M273.7 258.4h0M273.9 258.0h0M274.2 257.6h0M274.4 257.2h0M274.6 256.8h0M274.8 256.4h0M275.0 256.1h0M275.2 255.7h0M275.4 255.3h0M275.6 254.9h0M275.8 254.5h0M276.0 254.1h0M276.3 253.8h0M276.5 253.4h0M276.7 253.0h0M276.9 252.6h0M277.1 252.2h0M277.3 251.9h0M277.5 251.5h0M277.7 251.1h0M277.9 250.7h0M278.1 250.4h0M278.4 250.0h0M278.6 249.6h0M278.8 249.2h0M279.0 248.9h0M279.2 248.5h0M279.4 248.1h0M279.6 247.8h0M279.8 247.4h0M280.0 247.0h0M280.2 246.7h0M280.5 246.3h0M280.7 245.9h0M280.9 245.6h0M281.1 245.2h0M281.3 244.8h0M281.5 244.5h0M281.7 244.1h0M281.9 243.8h0M282.1 243.4h0M282.3 243.0h0M282.6 242.7h0M282.8 242.3h0M283.0 242.0h0M283.2 241.6h0M283.4 241.2h0M283.6 240.9h0M283.8 240.5h0M284.0 240.2h0M284.2 239.8h0M284.4 239.5h0M284.7 239.1h0M284.9 238.8h0M285.1 238.4h0M285.3 238.1h0M285.5 237.7h0M285.7 237.4h0M285.9 237.0h0M286.1 236.7h0M286.3 236.3h0M286.5 236.0h0M286.8 235.6h0M287.0 235.3h0M287.2 235.0h0M287.4 234.6h0M287.6 234.3h0M287.8 233.9h0M288.0 233.6h0M288.2 233.3h0M288.4 232.9h0M288.6 232.6h0M288.9 232.2h0M289.1 231.9h0M289.3 231.6h0M289.5 231.2h0M289.7 230.9h0M289.9 230.6h0M290.1 230.2h0M290.3 229.9h0M290.5 229.6h0M290.7 229.2h0M291.0 228.9h0M291.2 228.6h0M291.4 228.2h0M291.6 227.9h0M291.8 227.6h0M292.0 227.2h0M292.2 226.9h0M292.4 226.6h0M292.6 226.3h0M292.8 225.9h0M293.1 225.6h0M293.3 225.3h0M293.5 225.0h0M293.7 224.6h0M293.9 224.3h0M294.1 224.0h0M294.3 223.7h0M294.5 223.4h0M294.7 223.0h0M294.9 222.7h0M295.2 222.4h0M295.4 222.1h0M295.6 221.8h0M295.8 221.5h0M296.0 221.1h0M296.2 220.8h0M296.4 220.5h0M296.6 220.2h0M296.8 219.9h0M297.0 219.6h0M297.3 219.3h0M297.5 219.0h0M297.7 218.6h0M297.9 218.3h0M298.1 218.0h0M298.3 217.7h0M298.5 217.4h0M298.7 217.1h0M298.9 216.8h0M299.1 216.5h0M299.4 216.2h0M299.6 215.9h0M299.8 215.6h0M300.0 215.3h0M300.2 215.0h0M300.4 214.7h0M300.6 214.4h0M300.8 214.1h0M301.0 213.8h0M301.2 213.5h0M301.5 213.2h0M301.7 212.9h0M301.9 212.6h0M302.1 212.3h0M302.3 212.0h0M302.5 211.7h0M302.7 211.4h0M302.9 211.1h0M303.1 210.8h0M303.3 210.5h0M303.6 210.2h0M303.8 209.9h0M304.0 209.6h0M304.2 209.3h0M304.4 209.0h0M304.6 208.8h0M304.8 208.5h0M305.0 208.2h0M305.2 207.9h0M305.4 207.6h0M305.7 207.3h0M305.9 207.0h0M306.1 206.7h0M306.3 206.5h0M306.5 206.2h0M306.7 205.9h0M306.9 205.6h0M307.1 205.3h0M307.3 205.0h0M307.5 204.8h0M307.8 204.5h0M308.0 204.2h0M308.2 203.9h0M308.4 203.6h0M308.6 203.4h0M308.8 203.1h0M309.0 202.8h0M309.2 202.5h0M309.4 202.3h0M309.6 202.0h0M309.9 201.7h0M310.1 201.4h0M310.3 201.2h0M310.5 200.9h0M310.7 200.6h0M310.9 200.3h0M311.1 200.1h0M311.3 199.8h0M311.5 199.5h0M311.7 199.3h0M312.0 199.0h0M312.2 198.7h0M312.4 198.5h0M312.6 198.2h0M312.8 197.9h0M313.0 197.6h0M313.2 197.4h0M313.4 197.1h0M313.6 196.9h0M313.8 196.6h0M314.1 196.3h0M314.3 196.1h0M314.5 195.8h0M314.7 195.5h0M314.9 195.3h0M315.1 195.0h0M315.3 194.8h0M315.5 194.5h0M315.7 194.2h0M315.9 194.0h0M316.2 193.7h0M316.4 193.5h0M316.6 193.2h0M316.8 192.9h0M317.0 192.7h0M317.2 192.4h0M317.4 192.2h0M317.6 191.9h0M317.8 191.7h0M318.0 191.4h0M318.3 191.2h0M318.5 190.9h0M318.7 190.7h0M318.9 190.4h0M319.1 190.1h0M319.3 189.9h0M319.5 189.6h0M319.7 189.4h0M319.9 189.1h0M320.1 188.9h0M320.4 188.7h0M320.6 188.4h0M320.8 188.2h0M321.0 187.9h0M321.2 187.7h0M321.4 187.4h0M321.6 187.2h0M321.8 186.9h0M322.0 186.7h0M322.2 186.4h0M322.5 186.2h0M322.7 186.0h0M322.9 185.7h0M323.1 185.5h0M323.3 185.2h0M323.5 185.0h0M323.7 184.8h0M323.9 184.5h0M324.1 184.3h0M324.3 184.0h0M324.6 183.8h0M324.8 183.6h0M325.0 183.3h0M325.2 183.1h0M325.4 182.8h0M325.6 182.6h0M325.8 182.4h0M326.0 182.1h0M326.2 181.9h0M326.4 181.7h0M326.7 181.4h0M326.9 181.2h0M327.1 181.0h0M327.3 180.7h0M327.5 180.5h0M327.7 180.3h0M327.9 180.1h0M328.1 179.8h0M328.3 179.6h0M328.5 179.4h0M328.8 179.1h0M329.0 178.9h0M329.2 178.7h0M329.4 178.5h0M329.6 178.2h0M329.8 178.0h0M330.0 177.8h0M330.2 177.5h0M330.4 177.3h0M330.6 177.1h0M330.9 176.9h0M331.1 176.7h0M331.3 176.4h0M331.5 176.2h0M331.7 176.0h0M331.9 175.8h0M332.1 175.5h0M332.3 175.3h0M332.5 175.1h0M332.7 174.9h0M333.0 174.7h0M333.2 174.4h0M333.4 174.2h0M333.6 174.0h0M333.8 173.8h0M334.0 173.6h0M334.2 173.4h0M334.4 173.1h0M334.6 172.9h0M334.8 172.7h0M335.1 172.5h0M335.3 172.3h0M335.5 172.1h0M335.7 171.8h0M335.9 171.6h0M336.1 171.4h0M336.3 171.2h0M336.5 171.0h0M336.7 170.8h0M336.9 170.6h0M337.2 170.4h0M337.4 170.2h0M337.6 169.9h0M337.8 169.7h0M338.0 169.5h0M338.2 169.3h0M338.4 169.1h0M338.6 168.9h0M338.8 168.7h0M339.0 168.5h0M339.3 168.3h0M339.5 168.1h0M339.7 167.9h0M339.9 167.7h0M340.1 167.5h0M340.3 167.3h0M340.5 167.0h0M340.7 166.8h0M340.9 166.6h0M341.1 166.4h0M341.4 166.2h0M341.6 166.0h0M341.8 165.8h0M342.0 165.6h0M342.2 165.4h0M342.4 165.2h0M342.6 165.0h0M342.8 164.8h0M343.0 164.6h0M343.2 164.4h0M343.5 164.2h0M343.7 164.0h0M343.9 163.8h0M344.1 163.6h0M344.3 163.4h0M344.5 163.2h0M344.7 163.0h0M344.9 162.9h0M345.1 162.7h0M345.3 162.5h0M345.6 162.3h0M345.8 162.1h0M346.0 161.9h0M346.2 161.7h0M346.4 161.5h0M346.6 161.3h0M346.8 161.1h0M347.0 160.9h0M347.2 160.7h0M347.4 160.5h0M347.7 160.3h0M347.9 160.2h0M348.1 160.0h0M348.3 159.8h0M348.5 159.6h0M348.7 159.4h0M348.9 159.2h0M349.1 159.0h0M349.3 158.8h0M349.5 158.6h0M349.8 158.5h0M350.0 158.3h0M350.2 158.1h0M350.4 157.9h0M350.6 157.7h0M350.8 157.5h0M351.0 157.3h0M351.2 157.2h0M351.4 157.0h0M351.6 156.8h0M351.9 156.6h0M352.1 156.4h0M352.3 156.2h0M352.5 156.1h0M352.7 155.9h0M352.9 155.7h0M353.1 155.5h0M353.3 155.3h0M353.5 155.2h0M353.7 155.0h0M354.0 154.8h0M354.2 154.6h0M354.4 154.4h0M354.6 154.3h0M354.8 154.1h0M355.0 153.9h0M355.2 153.7h0M355.4 153.5h0M355.6 153.4h0M355.8 153.2h0M356.1 153.0h0M356.3 152.8h0M356.5 152.7h0M356.7 152.5h0M356.9 152.3h0M357.1 152.1h0M357.3 152.0h0M357.5 151.8h0M357.7 151.6h0M357.9 151.4h0M358.2 151.3h0M358.4 151.1h0M358.6 150.9h0M358.8 150.8h0M359.0 150.6h0M359.2 150.4h0M359.4 150.2h0M359.6 150.1h0M359.8 149.9h0M360.0 149.7h0M360.3 149.6h0M360.5 149.4h0M360.7 149.2h0M360.9 149.1h0M361.1 148.9h0M361.3 148.7h0M361.5 148.6h0M361.7 148.4h0M361.9 148.2h0M362.1 148.1h0M362.4 147.9h0M362.6 147.7h0M362.8 147.6h0M363.0 147.4h0M363.2 147.2h0M363.4 147.1h0M363.6 146.9h0M363.8 146.7h0M364.0 146.6h0M364.2 146.4h0M364.5 146.2h0M364.7 146.1h0M364.9 145.9h0M365.1 145.8h0M365.3 145.6h0M365.5 145.4h0M365.7 145.3h0M365.9 145.1h0M366.1 144.9h0M366.3 144.8h0M366.6 144.6h0M366.8 144.5h0M367.0 144.3h0M367.2 144.1h0M367.4 144.0h0M367.6 143.8h0M367.8 143.7h0M368.0 143.5h0M368.2 143.4h0M368.4 143.2h0M368.7 143.0h0M368.9 142.9h0M369.1 142.7h0M369.3 142.6h0M369.5 142.4h0M369.7 142.3h0M369.9 142.1h0M370.1 141.9h0M370.3 141.8h0M370.5 141.6h0M370.8 141.5h0M371.0 141.3h0M371.2 141.2h0M371.4 141.0h0M371.6 140.9h0M371.8 140.7h0M372.0 140.6h0M372.2 140.4h0M372.4 140.3h0M372.6 140.1h0M372.9 140.0h0M373.1 139.8h0M373.3 139.7h0M373.5 139.5h0M373.7 139.4h0M373.9 139.2h0M374.1 139.1h0M374.3 138.9h0M374.5 138.8h0M374.7 138.6h0M375.0 138.5h0M375.2 138.3h0M375.4 138.2h0M375.6 138.0h0M375.8 137.9h0M376.0 137.7h0M376.2 137.6h0M376.4 137.4h0M376.6 137.3h0M376.8 137.1h0M377.1 137.0h0M377.3 136.8h0M377.5 136.7h0M377.7 136.6h0M377.9 136.4h0M378.1 136.3h0M378.3 136.1h0M378.5 136.0h0M378.7 135.8h0M378.9 135.7h0M379.2 135.6h0M379.4 135.4h0M379.6 135.3h0M379.8 135.1h0M380.0 135.0h0M380.2 134.8h0M380.4 134.7h0M380.6 134.6h0M380.8 134.4h0M381.0 134.3h0M381.3 134.1h0M381.5 134.0h0M381.7 133.9h0M381.9 133.7h0M382.1 133.6h0M382.3 133.4h0M382.5 133.3h0M382.7 133.2h0M382.9 133.0h0M383.1 132.9h0M383.4 132.7h0M383.6 132.6h0M383.8 132.5h0M384.0 132.3h0M384.2 132.2h0M384.4 132.1h0M384.6 131.9h0M384.8 131.8h0M385.0 131.7h0M385.2 131.5h0M385.5 131.4h0M385.7 131.3h0M385.9 131.1h0M386.1 131.0h0M386.3 130.8h0M386.5 130.7h0M386.7 130.6h0M386.9 130.4h0M387.1 130.3h0M387.3 130.2h0M387.6 130.0h0M387.8 129.9h0M388.0 129.8h0M388.2 129.6h0M388.4 129.5h0M388.6 129.4h0M388.8 129.3h0M389.0 129.1h0M389.2 129.0h0M389.4 128.9h0M389.7 128.7h0M389.9 128.6h0M390.1 128.5h0M390.3 128.3h0M390.5 128.2h0M390.7 128.1h0M390.9 128.0h0M391.1 127.8h0M391.3 127.7h0M391.5 127.6h0M391.8 127.4h0M392.0 127.3h0M392.2 127.2h0M392.4 127.1h0M392.6 126.9h0M392.8 126.8h0M393.0 126.7h0M393.2 126.5h0M393.4 126.4h0M393.6 126.3h0M393.9 126.2h0M394.1 126.0h0M394.3 125.9h0M394.5 125.8h0M394.7 125.7h0M394.9 125.5h0M395.1 125.4h0M395.3 125.3h0M395.5 125.2h0M395.7 125.1h0M396.0 124.9h0M396.2 124.8h0M396.4 124.7h0M396.6 124.6h0M396.8 124.4h0M397.0 124.3h0M397.2 124.2h0M397.4 124.1h0M397.6 123.9h0M397.8 123.8h0M398.1 123.7h0M398.3 123.6h0M398.5 123.5h0M398.7 123.3h0M398.9 123.2h0M399.1 123.1h0M399.3 123.0h0M399.5 122.9h0M399.7 122.7h0M399.9 122.6h0M400.2 122.5h0M400.4 122.4h0M400.6 122.3h0M400.8 122.1h0M401.0 122.0h0M401.2 121.9h0M401.4 121.8h0M401.6 121.7h0M401.8 121.6h0M402.0 121.4h0M402.3 121.3h0M402.5 121.2h0M402.7 121.1h0M402.9 121.0h0M403.1 120.9h0M403.3 120.7h0M403.5 120.6h0M403.7 120.5h0M403.9 120.4h0M404.1 120.3h0M404.4 120.2h0M404.6 120.0h0M404.8 119.9h0M405.0 119.8h0M405.2 119.7h0M405.4 119.6h0M405.6 119.5h0M405.8 119.4h0M406.0 119.2h0M406.2 119.1h0M406.5 119.0h0M406.7 118.9h0M406.9 118.8h0M407.1 118.7h0M407.3 118.6h0M407.5 118.5h0M407.7 118.3h0M407.9 118.2h0M408.1 118.1h0M408.3 118.0h0M408.6 117.9h0M408.8 117.8h0M409.0 117.7h0M409.2 117.6h0M409.4 117.5h0M409.6 117.4h0M409.8 117.2h0M410.0 117.1h0M410.2 117.0h0M410.4 116.9h0M410.7 116.8h0M410.9 116.7h0M411.1 116.6h0M411.3 116.5h0M411.5 116.4h0M411.7 116.3h0M411.9 116.2h0M412.1 116.0h0M412.3 115.9h0M412.5 115.8h0M412.8 115.7h0M413.0 115.6h0M413.2 115.5h0M413.4 115.4h0M413.6 115.3h0M413.8 115.2h0M414.0 115.1h0M414.2 115.0h0M414.4 114.9h0M414.6 114.8h0M414.9 114.7h0M415.1 114.6h0M415.3 114.4h0M415.5 114.3h0M415.7 114.2h0M415.9 114.1h0M416.1 114.0h0M416.3 113.9h0M416.5 113.8h0M416.7 113.7h0M417.0 113.6h0M417.2 113.5h0M417.4 113.4h0M417.6 113.3h0M417.8 113.2h0M418.0 113.1h0M418.2 113.0h0M418.4 112.9h0M418.6 112.8h0M418.8 112.7h0M419.1 112.6h0M419.3 112.5h0M419.5 112.4h0M419.7 112.3h0M419.9 112.2h0M420.1 112.1h0M420.3 112.0h0M420.5 111.9h0M420.7 111.8h0M420.9 111.7h0M421.2 111.6h0M421.4 111.5h0M421.6 111.4h0M421.8 111.3h0M422.0 111.2h0M422.2 111.1h0M422.4 111.0h0M422.6 110.9h0M422.8 110.8h0M423.0 110.7h0M423.3 110.6h0M423.5 110.5h0M423.7 110.4h0M423.9 110.3h0M424.1 110.2h0M424.3 110.1h0M424.5 110.0h0M424.7 109.9h0M424.9 109.8h0M425.1 109.7h0M425.4 109.6h0M425.6 109.5h0M425.8 109.4h0M426.0 109.3h0M426.2 109.2h0M426.4 109.1h0M426.6 109.0h0M426.8 108.9h0M427.0 108.8h0M427.2 108.7h0M427.5 108.7h0M427.7 108.6h0M427.9 108.5h0M428.1 108.4h0M428.3 108.3h0M428.5 108.2h0M428.7 108.1h0M428.9 108.0h0M429.1 107.9h0M429.3 107.8h0M429.6 107.7h0M429.8 107.6h0M430.0 107.5h0M430.2 107.4h0M430.4 107.3h0M430.6 107.2h0M430.8 107.1h0M431.0 107.1h0M431.2 107.0h0M431.4 106.9h0M431.7 106.8h0M431.9 106.7h0M432.1 106.6h0M432.3 106.5h0M432.5 106.4h0M432.7 106.3h0M432.9 106.2h0M433.1 106.1h0M433.3 106.0h0M433.5 106.0h0M433.8 105.9h0M434.0 105.8h0M434.2 105.7h0M434.4 105.6h0M434.6 105.5h0M434.8 105.4h0M435.0 105.3h0M435.2 105.2h0M435.4 105.1h0M435.6 105.1h0M435.9 105.0h0M436.1 104.9h0M436.3 104.8h0M436.5 104.7h0M436.7 104.6h0M436.9 104.5h0M437.1 104.4h0M437.3 104.4h0M437.5 104.3h0M437.7 104.2h0M438.0 104.1h0M438.2 104.0h0M438.4 103.9h0M438.6 103.8h0M438.8 103.7h0M439.0 103.7h0M439.2 103.6h0M439.4 103.5h0M439.6 103.4h0M439.8 103.3h0M440.1 103.2h0M440.3 103.1h0M440.5 103.0h0M440.7 103.0h0M440.9 102.9h0M441.1 102.8h0M441.3 102.7h0M441.5 102.6h0M441.7 102.5h0M441.9 102.5h0M442.2 102.4h0M442.4 102.3h0M442.6 102.2h0M442.8 102.1h0M443.0 102.0h0M443.2 101.9h0M443.4 101.9h0M443.6 101.8h0M443.8 101.7h0M444.0 101.6h0M444.3 101.5h0M444.5 101.4h0M444.7 101.4h0M444.9 101.3h0M445.1 101.2h0M445.3 101.1h0M445.5 101.0h0M445.7 100.9h0M445.9 100.9h0M446.1 100.8h0M446.4 100.7h0M446.6 100.6h0M446.8 100.5h0M447.0 100.5h0M447.2 100.4h0M447.4 100.3h0M447.6 100.2h0M447.8 100.1h0M448.0 100.0h0M448.2 100.0h0M448.5 99.9h0M448.7 99.8h0M448.9 99.7h0M449.1 99.6h0M449.3 99.6h0M449.5 99.5h0M449.7 99.4h0M449.9 99.3h0M450.1 99.2h0M450.3 99.2h0M450.6 99.1h0M450.8 99.0h0M451.0 98.9h0M451.2 98.9h0M451.4 98.8h0M451.6 98.7h0M451.8 98.6h0M452.0 98.5h0M452.2 98.5h0M452.4 98.4h0M452.7 98.3h0M452.9 98.2h0M453.1 98.1h0M453.3 98.1h0M453.5 98.0h0M453.7 97.9h0M453.9 97.8h0M454.1 97.8h0M454.3 97.7h0M454.5 97.6h0M454.8 97.5h0M455.0 97.5h0M455.2 97.4h0M455.4 97.3h0M455.6 97.2h0M455.8 97.1h0M456.0 97.1h0M456.2 97.0h0M456.4 96.9h0M456.6 96.8h0M456.9 96.8h0M457.1 96.7h0M457.3 96.6h0M457.5 96.5h0M457.7 96.5h0M457.9 96.4h0M458.1 96.3h0M458.3 96.2h0M458.5 96.2h0M458.7 96.1h0M459.0 96.0h0M459.2 95.9h0M459.4 95.9h0M459.6 95.8h0M459.8 95.7h0M460.0 95.6h0M460.2 95.6h0M460.4 95.5h0M460.6 95.4h0M460.8 95.4h0M461.1 95.3h0M461.3 95.2h0M461.5 95.1h0M461.7 95.1h0M461.9 95.0h0M462.1 94.9h0M462.3 94.8h0M462.5 94.8h0M462.7 94.7h0M462.9 94.6h0M463.2 94.6h0M463.4 94.5h0M463.6 94.4h0M463.8 94.3h0M464.0 94.3h0M464.2 94.2h0M464.4 94.1h0M464.6 94.0h0M464.8 94.0h0M465.0 93.9h0M465.3 93.8h0M465.5 93.8h0M465.7 93.7h0M465.9 93.6h0M466.1 93.6h0M466.3 93.5h0M466.5 93.4h0M466.7 93.3h0M466.9 93.3h0M467.1 93.2h0M467.4 93.1h0M467.6 93.1h0M467.8 93.0h0M468.0 92.9h0M468.2 92.9h0M468.4 92.8h0M468.6 92.7h0M468.8 92.6h0M469.0 92.6h0M469.2 92.5h0M469.5 92.4h0M469.7 92.4h0M469.9 92.3h0M470.1 92.2h0M470.3 92.2h0M470.5 92.1h0M470.7 92.0h0M470.9 92.0h0M471.1 91.9h0M471.3 91.8h0M471.6 91.8h0M471.8 91.7h0M472.0 91.6h0M472.2 91.6h0M472.4 91.5h0M472.6 91.4h0M472.8 91.4h0M473.0 91.3h0M473.2 91.2h0M473.4 91.2h0M473.7 91.1h0M473.9 91.0h0M474.1 91.0h0M474.3 90.9h0M474.5 90.8h0M474.7 90.8h0M474.9 90.7h0M475.1 90.6h0M475.3 90.6h0M475.5 90.5h0M475.8 90.4h0M476.0 90.4h0M476.2 90.3h0M476.4 90.2h0M476.6 90.2h0M476.8 90.1h0M477.0 90.0h0M477.2 90.0h0M477.4 89.9h0M477.6 89.8h0M477.9 89.8h0M478.1 89.7h0M478.3 89.6h0M478.5 89.6h0M478.7 89.5h0M478.9 89.5h0M479.1 89.4h0M479.3 89.3h0M479.5 89.3h0M479.7 89.2h0M480.0 89.1h0M480.2 89.1h0M480.4 89.0h0M480.6 88.9h0M480.8 88.9h0M481.0 88.8h0M481.2 88.8h0M481.4 88.7h0M481.6 88.6h0M481.8 88.6h0M482.1 88.5h0M482.3 88.4h0M482.5 88.4h0M482.7 88.3h0M482.9 88.3h0M483.1 88.2h0M483.3 88.1h0M483.5 88.1h0M483.7 88.0h0M483.9 87.9h0M484.2 87.9h0M484.4 87.8h0M484.6 87.8h0M484.8 87.7h0M485.0 87.6h0M485.2 87.6h0M485.4 87.5h0M485.6 87.5h0M485.8 87.4h0M486.0 87.3h0M486.3 87.3h0M486.5 87.2h0M486.7 87.2h0M486.9 87.1h0M487.1 87.0h0M487.3 87.0h0M487.5 86.9h0M487.7 86.9h0M487.9 86.8h0M488.1 86.7h0M488.4 86.7h0M488.6 86.6h0M488.8 86.6h0M489.0 86.5h0M489.2 86.4h0M489.4 86.4h0M489.6 86.3h0M489.8 86.3h0M490.0 86.2h0M490.2 86.1h0M490.5 86.1h0M490.7 86.0h0M490.9 86.0h0M491.1 85.9h0M491.3 85.8h0M491.5 85.8h0M491.7 85.7h0M491.9 85.7h0M492.1 85.6h0M492.3 85.6h0M492.6 85.5h0M492.8 85.4h0M493.0 85.4h0M493.2 85.3h0M493.4 85.3h0M493.6 85.2h0M493.8 85.1h0M494.0 85.1h0M494.2 85.0h0M494.4 85.0h0M494.7 84.9h0M494.9 84.9h0M495.1 84.8h0M495.3 84.7h0M495.5 84.7h0M495.7 84.6h0M495.9 84.6h0M496.1 84.5h0M496.3 84.5h0M496.5 84.4h0M496.8 84.4h0M497.0 84.3h0M497.2 84.2h0M497.4 84.2h0M497.6 84.1h0M497.8 84.1h0M498.0 84.0h0M498.2 84.0h0M498.4 83.9h0M498.6 83.9h0M498.9 83.8h0M499.1 83.7h0M499.3 83.7h0M499.5 83.6h0M499.7 83.6h0M499.9 83.5h0M500.1 83.5h0M500.3 83.4h0M500.5 83.4h0M500.7 83.3h0M501.0 83.2h0M501.2 83.2h0M501.4 83.1h0M501.6 83.1h0M501.8 83.0h0M502.0 83.0h0M502.2 82.9h0M502.4 82.9h0M502.6 82.8h0M502.8 82.8h0M503.1 82.7h0M503.3 82.7h0M503.5 82.6h0M503.7 82.5h0M503.9 82.5h0M504.1 82.4h0M504.3 82.4h0M504.5 82.3h0M504.7 82.3h0M504.9 82.2h0M505.2 82.2h0M505.4 82.1h0M505.6 82.1h0M505.8 82.0h0M506.0 82.0h0M506.2 81.9h0M506.4 81.9h0M506.6 81.8h0M506.8 81.8h0M507.0 81.7h0M507.3 81.6h0M507.5 81.6h0M507.7 81.5h0M507.9 81.5h0M508.1 81.4h0M508.3 81.4h0M508.5 81.3h0M508.7 81.3h0M508.9 81.2h0M509.1 81.2h0M509.4 81.1h0M509.6 81.1h0M509.8 81.0h0M510.0 81.0h0M510.2 80.9h0M510.4 80.9h0M510.6 80.8h0M510.8 80.8h0M511.0 80.7h0M511.2 80.7h0M511.5 80.6h0M511.7 80.6h0M511.9 80.5h0M512.1 80.5h0M512.3 80.4h0M512.5 80.4h0M512.7 80.3h0M512.9 80.3h0M513.1 80.2h0M513.3 80.2h0M513.6 80.1h0M513.8 80.1h0M514.0 80.0h0M514.2 80.0h0M514.4 79.9h0M514.6 79.9h0M514.8 79.8h0M515.0 79.8h0M515.2 79.7h0M515.4 79.7h0M515.7 79.6h0M515.9 79.6h0M516.1 79.5h0M516.3 79.5h0M516.5 79.4h0M516.7 79.4h0M516.9 79.3h0M517.1 79.3h0M517.3 79.2h0M517.5 79.2h0M517.8 79.1h0M518.0 79.1h0M518.2 79.0h0M518.4 79.0h0M518.6 78.9h0M518.8 78.9h0M519.0 78.9h0M519.2 78.8h0M519.4 78.8h0M519.6 78.7h0M519.9 78.7h0M520.1 78.6h0M520.3 78.6h0M520.5 78.5h0M520.7 78.5h0M520.9 78.4h0M521.1 78.4h0M521.3 78.3h0M521.5 78.3h0M521.7 78.2h0M522.0 78.2h0M522.2 78.1h0M522.4 78.1h0M522.6 78.1h0M522.8 78.0h0M523.0 78.0h0M523.2 77.9h0M523.4 77.9h0M523.6 77.8h0M523.8 77.8h0M524.1 77.7h0M524.3 77.7h0M524.5 77.6h0M524.7 77.6h0M524.9 77.5h0M525.1 77.5h0M525.3 77.5h0M525.5 77.4h0M525.7 77.4h0M525.9 77.3h0M526.2 77.3h0M526.4 77.2h0M526.6 77.2h0M526.8 77.1h0M527.0 77.1h0M527.2 77.0h0M527.4 77.0h0M527.6 77.0h0M527.8 76.9h0M528.0 76.9h0M528.3 76.8h0M528.5 76.8h0M528.7 76.7h0M528.9 76.7h0M529.1 76.6h0M529.3 76.6h0M529.5 76.6h0M529.7 76.5h0M529.9 76.5h0M530.1 76.4h0M530.4 76.4h0M530.6 76.3h0M530.8 76.3h0M531.0 76.2h0M531.2 76.2h0M531.4 76.2h0M531.6 76.1h0M531.8 76.1h0M532.0 76.0h0M532.2 76.0h0M532.5 75.9h0M532.7 75.9h0M532.9 75.8h0M533.1 75.8h0M533.3 75.8h0M533.5 75.7h0M533.7 75.7h0M533.9 75.6h0M534.1 75.6h0M534.3 75.5h0M534.6 75.5h0M534.8 75.5h0M535.0 75.4h0M535.2 75.4h0M535.4 75.3h0M535.6 75.3h0M535.8 75.2h0M536.0 75.2h0M536.2 75.2h0M536.4 75.1h0M536.7 75.1h0M536.9 75.0h0M537.1 75.0h0M537.3 75.0h0M537.5 74.9h0M537.7 74.9h0M537.9 74.8h0M538.1 74.8h0M538.3 74.7h0M538.5 74.7h0M538.8 74.7h0M539.0 74.6h0M539.2 74.6h0M539.4 74.5h0M539.6 74.5h0M539.8 74.5h0M540.0 74.4h0M540.2 74.4h0M540.4 74.3h0M540.6 74.3h0M540.9 74.2h0M541.1 74.2h0M541.3 74.2h0M541.5 74.1h0M541.7 74.1h0M541.9 74.0h0M542.1 74.0h0M542.3 74.0h0M542.5 73.9h0M542.7 73.9h0M543.0 73.8h0M543.2 73.8h0M543.4 73.8h0M543.6 73.7h0M543.8 73.7h0M544.0 73.6h0M544.2 73.6h0M544.4 73.6h0M544.6 73.5h0M544.8 73.5h0M545.1 73.4h0M545.3 73.4h0M545.5 73.4h0M545.7 73.3h0M545.9 73.3h0M546.1 73.2h0M546.3 73.2h0M546.5 73.2h0M546.7 73.1h0M546.9 73.1h0M547.2 73.1h0M547.4 73.0h0M547.6 73.0h0M547.8 72.9h0M548.0 72.9h0M548.2 72.9h0M548.4 72.8h0M548.6 72.8h0M548.8 72.7h0M549.0 72.7h0M549.3 72.7h0M549.5 72.6h0M549.7 72.6h0M549.9 72.5h0M550.1 72.5h0M550.3 72.5h0M550.5 72.4h0M550.7 72.4h0M550.9 72.4h0M551.1 72.3h0M551.4 72.3h0M551.6 72.2h0M551.8 72.2h0M552.0 72.2h0M552.2 72.1h0M552.4 72.1h0M552.6 72.1h0M552.8 72.0h0M553.0 72.0h0M553.2 71.9h0M553.5 71.9h0M553.7 71.9h0M553.9 71.8h0M554.1 71.8h0M554.3 71.8h0M554.5 71.7h0M554.7 71.7h0M554.9 71.6h0M555.1 71.6h0M555.3 71.6h0M555.6 71.5h0M555.8 71.5h0M556.0 71.5h0M556.2 71.4h0M556.4 71.4h0M556.6 71.3h0M556.8 71.3h0M557.0 71.3h0M557.2 71.2h0M557.4 71.2h0M557.7 71.2h0M557.9 71.1h0M558.1 71.1h0M558.3 71.1h0M558.5 71.0h0M558.7 71.0h0M558.9 71.0h0M559.1 70.9h0M559.3 70.9h0M559.5 70.8h0M559.8 70.8h0M560.0 70.8h0M560.2 70.7h0M560.4 70.7h0M560.6 70.7h0M560.8 70.6h0M561.0 70.6h0M561.2 70.6h0M561.4 70.5h0M561.6 70.5h0M561.9 70.5h0M562.1 70.4h0M562.3 70.4h0M562.5 70.3h0M562.7 70.3h0M562.9 70.3h0M563.1 70.2h0M563.3 70.2h0M563.5 70.2h0M563.7 70.1h0M564.0 70.1h0M564.2 70.1h0M564.4 70.0h0M564.6 70.0h0M564.8 70.0h0M565.0 69.9h0M565.2 69.9h0M565.4 69.9h0M565.6 69.8h0M565.8 69.8h0M566.1 69.8h0M566.3 69.7h0M566.5 69.7h0M566.7 69.7h0M566.9 69.6h0M567.1 69.6h0M567.3 69.6h0M567.5 69.5h0M567.7 69.5h0M567.9 69.5h0M568.2 69.4h0M568.4 69.4h0M568.6 69.4h0M568.8 69.3h0M569.0 69.3h0M569.2 69.3h0M569.4 69.2h0M569.6 69.2h0M569.8 69.2h0M570.0 69.1h0M570.3 69.1h0M570.5 69.1h0M570.7 69.0h0M570.9 69.0h0M571.1 69.0h0M571.3 68.9h0M571.5 68.9h0M571.7 68.9h0M571.9 68.8h0M572.1 68.8h0M572.4 68.8h0M572.6 68.7h0M572.8 68.7h0M573.0 68.7h0M573.2 68.6h0M573.4 68.6h0M573.6 68.6h0M573.8 68.5h0M574.0 68.5h0M574.2 68.5h0M574.5 68.4h0M574.7 68.4h0M574.9 68.4h0M575.1 68.3h0M575.3 68.3h0M575.5 68.3h0M575.7 68.2h0M575.9 68.2h0M576.1 68.2h0M576.3 68.2h0M576.6 68.1h0M576.8 68.1h0M577.0 68.1h0M577.2 68.0h0M577.4 68.0h0M577.6 68.0h0M577.8 67.9h0M578.0 67.9h0M578.2 67.9h0M578.4 67.8h0M578.7 67.8h0M578.9 67.8h0M579.1 67.7h0M579.3 67.7h0M579.5 67.7h0M579.7 67.7h0M579.9 67.6h0M580.1 67.6h0M580.3 67.6h0M580.5 67.5h0M580.8 67.5h0M581.0 67.5h0M581.2 67.4h0M581.4 67.4h0M581.6 67.4h0M581.8 67.3h0M582.0 67.3h0M582.2 67.3h0M582.4 67.3h0M582.6 67.2h0M582.9 67.2h0M583.1 67.2h0M583.3 67.1h0M583.5 67.1h0M583.7 67.1h0M583.9 67.0h0M584.1 67.0h0M584.3 67.0h0M584.5 67.0h0M584.7 66.9h0M585.0 66.9h0M585.2 66.9h0M585.4 66.8h0M585.6 66.8h0M585.8 66.8h0M586.0 66.7h0M586.2 66.7h0M586.4 66.7h0M586.6 66.7h0M586.8 66.6h0M587.1 66.6h0M587.3 66.6h0M587.5 66.5h0M587.7 66.5h0M587.9 66.5h0M588.1 66.5h0M588.3 66.4h0M588.5 66.4h0M588.7 66.4h0M588.9 66.3h0M589.2 66.3h0M589.4 66.3h0M589.6 66.3h0M589.8 66.2h0M590.0 66.2h0M590.2 66.2h0M590.4 66.1h0M590.6 66.1h0M590.8 66.1h0M591.0 66.1h0M591.3 66.0h0M591.5 66.0h0M591.7 66.0h0M591.9 65.9h0M592.1 65.9h0M592.3 65.9h0M592.5 65.9h0M592.7 65.8h0M592.9 65.8h0M593.1 65.8h0M593.4 65.7h0M593.6 65.7h0M593.8 65.7h0M594.0 65.7h0M594.2 65.6h0M594.4 65.6h0M594.6 65.6h0M594.8 65.6h0M595.0 65.5h0M595.2 65.5h0M595.5 65.5h0M595.7 65.4h0M595.9 65.4h0M596.1 65.4h0M596.3 65.4h0M596.5 65.3h0M596.7 65.3h0M596.9 65.3h0M597.1 65.3h0M597.3 65.2h0M597.6 65.2h0M597.8 65.2h0M598.0 65.1h0M598.2 65.1h0M598.4 65.1h0M598.6 65.1h0M598.8 65.0h0M599.0 65.0h0M599.2 65.0h0M599.4 65.0h0M599.7 64.9h0M599.9 64.9h0M600.1 64.9h0M600.3 64.9h0M600.5 64.8h0M600.7 64.8h0M600.9 64.8h0M601.1 64.7h0M601.3 64.7h0M601.5 64.7h0M601.8 64.7h0M602.0 64.6h0M602.2 64.6h0M602.4 64.6h0M602.6 64.6h0M602.8 64.5h0M603.0 64.5h0M603.2 64.5h0M603.4 64.5h0M603.6 64.4h0M603.9 64.4h0M604.1 64.4h0M604.3 64.4h0M604.5 64.3h0M604.7 64.3h0M604.9 64.3h0M605.1 64.3h0M605.3 64.2h0M605.5 64.2h0M605.7 64.2h0M606.0 64.2h0M606.2 64.1h0M606.4 64.1h0M606.6 64.1h0M606.8 64.1h0M607.0 64.0h0M607.2 64.0h0M607.4 64.0h0M607.6 64.0h0M607.8 63.9h0M608.1 63.9h0M608.3 63.9h0M608.5 63.9h0M608.7 63.8h0M608.9 63.8h0M609.1 63.8h0M609.3 63.8h0M609.5 63.7h0M609.7 63.7h0M609.9 63.7h0M610.2 63.7h0M610.4 63.6h0M610.6 63.6h0M610.8 63.6h0M611.0 63.6h0M611.2 63.5h0M611.4 63.5h0M611.6 63.5h0M611.8 63.5h0M612.0 63.4h0M612.3 63.4h0M612.5 63.4h0M612.7 63.4h0M612.9 63.3h0M613.1 63.3h0M613.3 63.3h0M613.5 63.3h0M613.7 63.2h0M613.9 63.2h0M614.1 63.2h0M614.4 63.2h0M614.6 63.2h0M614.8 63.1h0M615.0 63.1h0M615.2 63.1h0M615.4 63.1h0M615.6 63.0h0M615.8 63.0h0M616.0 63.0h0M616.2 63.0h0M616.5 62.9h0M616.7 62.9h0M616.9 62.9h0M617.1 62.9h0M617.3 62.8h0M617.5 62.8h0M617.7 62.8h0M617.9 62.8h0M618.1 62.8h0M618.3 62.7h0M618.6 62.7h0M618.8 62.7h0M619.0 62.7h0M619.2 62.6h0M619.4 62.6h0M619.6 62.6h0M619.8 62.6h0M620.0 62.6h0M620.2 62.5h0M620.4 62.5h0M620.7 62.5h0M620.9 62.5h0M621.1 62.4h0M621.3 62.4h0M621.5 62.4h0M621.7 62.4h0M621.9 62.3h0M622.1 62.3h0M622.3 62.3h0" fill="none" stroke="#fb3a40" stroke-width="5.7" stroke-linecap="round"/>
<path d="M94.4 171.1h0M94.6 172.0h0M94.8 172.9h0M95.0 173.8h0M95.2 174.7h0M95.4 175.5h0M95.7 176.4h0M95.9 177.3h0M96.1 178.2h0M96.3 179.1h0M96.5 179.9h0M96.7 180.8h0M96.9 181.7h0M97.1 182.6h0M97.3 183.5h0M97.5 184.4h0M97.8 185.3h0M98.0 186.2h0M98.2 187.1h0M98.4 188.0h0M98.6 188.8h0M98.8 189.7h0M99.0 190.6h0M99.2 191.5h0M99.4 192.4h0M99.6 193.3h0M99.9 194.2h0M100.1 195.1h0M100.3 196.0h0M100.5 196.9h0M100.7 197.8h0M100.9 198.7h0M101.1 199.6h0M101.3 200.5h0M101.5 201.4h0M101.7 202.3h0M102.0 203.2h0M102.2 204.2h0M102.4 205.1h0M102.6 206.0h0M102.8 206.9h0M103.0 207.8h0M103.2 208.7h0M103.4 209.6h0M103.6 210.5h0M103.8 211.4h0M104.1 212.3h0M104.3 213.2h0M104.5 214.1h0M104.7 215.0h0M104.9 215.9h0M105.1 216.9h0M105.3 217.8h0M105.5 218.7h0M105.7 219.6h0M105.9 220.5h0M106.2 221.4h0M106.4 222.3h0M106.6 223.2h0M106.8 224.1h0M107.0 225.0h0M107.2 226.0h0M107.4 226.9h0M107.6 227.8h0M107.8 228.7h0M108.0 229.6h0M108.3 230.5h0M108.5 231.4h0M108.7 232.3h0M108.9 233.2h0M109.1 234.1h0M109.3 235.0h0M109.5 236.0h0M109.7 236.9h0M109.9 237.8h0M110.1 238.7h0M110.4 239.6h0M110.6 240.5h0M110.8 241.4h0M111.0 242.3h0M111.2 243.2h0M111.4 244.1h0M111.6 245.0h0M111.8 245.9h0M112.0 246.8h0M112.2 247.7h0M112.5 248.6h0M112.7 249.5h0M112.9 250.4h0M113.1 251.3h0M113.3 252.2h0M113.5 253.1h0M113.7 254.0h0M113.9 254.9h0M114.1 255.8h0M114.3 256.7h0M114.6 257.6h0M114.8 258.5h0M115.0 259.4h0M115.2 260.3h0M115.4 261.2h0M115.6 262.0h0M115.8 262.9h0M116.0 263.8h0M116.2 264.7h0M116.4 265.6h0M116.7 266.5h0M116.9 267.4h0M117.1 268.2h0M117.3 269.1h0M117.5 270.0h0M117.7 270.9h0M117.9 271.7h0M118.1 272.6h0M118.3 273.5h0M118.5 274.4h0M118.8 275.2h0M119.0 276.1h0M119.2 277.0h0M119.4 277.8h0M119.6 278.7h0M119.8 279.5h0M120.0 280.4h0M120.2 281.3h0M120.4 282.1h0M120.6 283.0h0M120.9 283.8h0M121.1 284.7h0M121.3 285.5h0M121.5 286.4h0M121.7 287.2h0M121.9 288.1h0M122.1 288.9h0M122.3 289.7h0M122.5 290.6h0M122.7 291.4h0M123.0 292.2h0M123.2 293.1h0M123.4 293.9h0M123.6 294.7h0M123.8 295.6h0M124.0 296.4h0M124.2 297.2h0M124.4 298.0h0M124.6 298.8h0M124.8 299.6h0M125.1 300.4h0M125.3 301.2h0M125.5 302.0h0M125.7 302.8h0M125.9 303.6h0M126.1 304.4h0M126.3 305.2h0M126.5 306.0h0M126.7 306.8h0M126.9 307.6h0M127.2 308.4h0M127.4 309.1h0M127.6 309.9h0M127.8 310.7h0M128.0 311.5h0M128.2 312.2h0M128.4 313.0h0M128.6 313.7h0M128.8 314.5h0M129.0 315.2h0M129.3 316.0h0M129.5 316.7h0M129.7 317.5h0M129.9 318.2h0M130.1 318.9h0M130.3 319.6h0M130.5 320.4h0M130.7 321.1h0M130.9 321.8h0M131.1 322.5h0M131.4 323.2h0M131.6 323.9h0M131.8 324.6h0M132.0 325.3h0M132.2 326.0h0M132.4 326.7h0M132.6 327.3h0M132.8 328.0h0M133.0 328.7h0M133.2 329.3h0M133.5 330.0h0M133.7 330.7h0M133.9 331.3h0M134.1 331.9h0M134.3 332.6h0M134.5 333.2h0M134.7 333.8h0M134.9 334.4h0M135.1 335.0h0M135.3 335.6h0M135.6 336.2h0M135.8 336.8h0M136.0 337.4h0M136.2 338.0h0M136.4 338.5h0M136.6 339.1h0M136.8 339.6h0M137.0 340.2h0M137.2 340.7h0M137.4 341.2h0M137.7 341.7h0M137.9 342.2h0M138.1 342.7h0M138.3 343.2h0M138.5 343.7h0M138.7 344.2h0M138.9 344.6h0M139.1 345.1h0M139.3 345.5h0M139.5 345.9h0M139.8 346.4h0M140.0 346.8h0M140.2 347.2h0M140.4 347.6h0M140.6 347.9h0M140.8 348.3h0M141.0 348.6h0M141.2 349.0h0M141.4 349.3h0M141.6 349.6h0M141.9 349.9h0M142.1 350.1h0M142.3 350.4h0M142.5 350.6h0M142.7 350.8h0M142.9 351.0h0M143.1 351.1h0M143.3 351.3h0M143.5 351.4h0M143.7 351.4h0M144.0 351.5h0M144.2 351.5h0M144.4 351.5h0M144.6 351.4h0M144.8 351.3h0M145.0 351.2h0M145.2 351.0h0M145.4 350.8h0M145.6 350.6h0M145.8 350.3h0M146.1 349.9h0M146.3 349.5h0M146.5 349.1h0M146.7 348.6h0M146.9 348.0h0M147.1 347.4h0M147.3 346.7h0M147.5 345.9h0M147.7 345.1h0M147.9 344.1h0M148.2 343.1h0M148.4 342.0h0M148.6 340.8h0M148.8 339.5h0M149.0 338.1h0M149.2 336.5h0M149.4 334.8h0M149.6 333.0h0M149.8 331.0h0M150.0 328.8h0M150.3 326.4h0M150.5 323.8h0M150.7 321.0h0M150.9 317.9h0M151.1 314.5h0M151.3 310.8h0M151.5 306.8h0M151.7 302.3h0M151.9 297.4h0M152.1 292.0h0M152.4 286.1h0M152.6 279.5h0M152.8 272.2h0M153.0 264.0h0M153.2 255.0h0M153.4 245.0h0M153.6 233.8h0M153.8 221.3h0M154.0 207.3h0M154.2 191.8h0M154.5 174.6h0M154.7 155.6h0M154.9 135.0h0M155.1 113.1h0M155.3 90.4h0M155.5 68.1h0M155.7 47.9h0M155.9 32.1h0M156.1 23.7h0M156.3 25.4h0M156.6 39.2h0M156.8 65.0h0M157.0 100.9h0M157.2 143.2h0M157.4 187.5h0M157.6 230.4h0M157.8 269.6h0M158.0 303.8h0M158.2 332.8h0M158.4 356.9h0M158.7 376.7h0M158.9 392.8h0M159.1 405.9h0M159.3 416.5h0M159.5 425.1h0M159.7 432.1h0M159.9 437.8h0M160.1 442.4h0M160.3 446.2h0M160.5 449.3h0M160.8 451.8h0M161.0 453.9h0M161.2 455.6h0M161.4 457.0h0M161.6 458.2h0M161.8 459.2h0M162.0 460.0h0M162.2 460.6h0M162.4 461.2h0M162.6 461.6h0M162.9 462.0h0M163.1 462.3h0M163.3 462.5h0M163.5 462.8h0M163.7 462.9h0M163.9 463.1h0M164.1 463.2h0M164.3 463.3h0M164.5 463.3h0M164.7 463.4h0M165.0 463.4h0M165.2 463.5h0M165.4 463.5h0M165.6 463.5h0M165.8 463.5h0M166.0 463.6h0M166.2 463.6h0M166.4 463.6h0M166.6 463.6h0M166.8 463.6h0M167.1 463.6h0M167.3 463.6h0M167.5 463.6h0M167.7 463.6h0M167.9 463.6h0M168.1 463.6h0M168.3 463.6h0M168.5 463.6h0M168.7 463.6h0M168.9 463.6h0M169.2 463.6h0M169.4 463.5h0M169.6 463.5h0M169.8 463.5h0M170.0 463.5h0M170.2 463.5h0M170.4 463.5h0M170.6 463.4h0M170.8 463.4h0M171.0 463.4h0M171.3 463.3h0M171.5 463.3h0M171.7 463.3h0M171.9 463.2h0M172.1 463.1h0M172.3 463.1h0M172.5 463.0h0M172.7 462.9h0M172.9 462.9h0M173.1 462.8h0M173.4 462.7h0M173.6 462.6h0M173.8 462.5h0M174.0 462.4h0M174.2 462.3h0M174.4 462.2h0M174.6 462.1h0M174.8 462.0h0M175.0 461.8h0M175.2 461.7h0M175.5 461.6h0M175.7 461.5h0M175.9 461.3h0M176.1 461.2h0M176.3 461.1h0M176.5 460.9h0M176.7 460.8h0M176.9 460.6h0M177.1 460.5h0M177.3 460.3h0M177.6 460.2h0M177.8 460.0h0M178.0 459.9h0M178.2 459.7h0M178.4 459.5h0M178.6 459.4h0M178.8 459.2h0M179.0 459.0h0M179.2 458.8h0M179.4 458.6h0M179.7 458.4h0M179.9 458.2h0M180.1 458.0h0M180.3 457.8h0M180.5 457.6h0M180.7 457.4h0M180.9 457.2h0M181.1 457.0h0M181.3 456.8h0M181.5 456.5h0M181.8 456.3h0M182.0 456.1h0M182.2 455.9h0M182.4 455.6h0M182.6 455.4h0M182.8 455.1h0M183.0 454.9h0M183.2 454.6h0M183.4 454.4h0M183.6 454.1h0M183.9 453.9h0M184.1 453.6h0M184.3 453.3h0M184.5 453.1h0M184.7 452.8h0M184.9 452.5h0M185.1 452.3h0M185.3 452.0h0M185.5 451.7h0M185.7 451.4h0M186.0 451.1h0M186.2 450.8h0M186.4 450.5h0M186.6 450.3h0M186.8 450.0h0M187.0 449.7h0M187.2 449.3h0M187.4 449.0h0M187.6 448.7h0M187.8 448.4h0M188.1 448.1h0M188.3 447.8h0M188.5 447.5h0M188.7 447.1h0M188.9 446.8h0M189.1 446.5h0M189.3 446.2h0M189.5 445.8h0M189.7 445.5h0M189.9 445.1h0M190.2 444.8h0M190.4 444.5h0M190.6 444.1h0M190.8 443.8h0M191.0 443.4h0M191.2 443.1h0M191.4 442.7h0M191.6 442.3h0M191.8 442.0h0M192.0 441.6h0M192.3 441.2h0M192.5 440.9h0M192.7 440.5h0M192.9 440.1h0M193.1 439.8h0M193.3 439.4h0M193.5 439.0h0M193.7 438.6h0M193.9 438.2h0M194.1 437.9h0M194.4 437.5h0M194.6 437.1h0M194.8 436.7h0M195.0 436.3h0M195.2 435.9h0M195.4 435.5h0M195.6 435.1h0M195.8 434.7h0M196.0 434.3h0M196.2 433.9h0M196.5 433.5h0M196.7 433.1h0M196.9 432.6h0M197.1 432.2h0M197.3 431.8h0M197.5 431.4h0M197.7 431.0h0M197.9 430.6h0M198.1 430.1h0M198.3 429.7h0M198.6 429.3h0M198.8 428.8h0M199.0 428.4h0M199.2 428.0h0M199.4 427.6h0M199.6 427.1h0M199.8 426.7h0M200.0 426.2h0M200.2 425.8h0M200.4 425.4h0M200.7 424.9h0M200.9 424.5h0M201.1 424.0h0M201.3 423.6h0M201.5 423.1h0M201.7 422.7h0M201.9 422.2h0M202.1 421.8h0M202.3 421.3h0M202.5 420.9h0M202.8 420.4h0M203.0 419.9h0M203.2 419.5h0M203.4 419.0h0M203.6 418.5h0M203.8 418.1h0M204.0 417.6h0M204.2 417.1h0M204.4 416.7h0M204.6 416.2h0M204.9 415.7h0M205.1 415.3h0M205.3 414.8h0M205.5 414.3h0M205.7 413.8h0M205.9 413.4h0M206.1 412.9h0M206.3 412.4h0M206.5 411.9h0M206.7 411.4h0M207.0 411.0h0M207.2 410.5h0M207.4 410.0h0M207.6 409.5h0M207.8 409.0h0M208.0 408.5h0M208.2 408.0h0M208.4 407.5h0M208.6 407.1h0M208.8 406.6h0M209.1 406.1h0M209.3 405.6h0M209.5 405.1h0M209.7 404.6h0M209.9 404.1h0M210.1 403.6h0M210.3 403.1h0M210.5 402.6h0M210.7 402.1h0M210.9 401.6h0M211.2 401.1h0M211.4 400.6h0M211.6 400.1h0M211.8 399.6h0M212.0 399.1h0M212.2 398.6h0M212.4 398.1h0M212.6 397.6h0M212.8 397.1h0M213.0 396.6h0M213.3 396.0h0M213.5 395.5h0M213.7 395.0h0M213.9 394.5h0M214.1 394.0h0M214.3 393.5h0M214.5 393.0h0M214.7 392.5h0M214.9 392.0h0M215.1 391.4h0M215.4 390.9h0M215.6 390.4h0M215.8 389.9h0M216.0 389.4h0M216.2 388.9h0M216.4 388.4h0M216.6 387.8h0M216.8 387.3h0M217.0 386.8h0M217.2 386.3h0M217.5 385.8h0M217.7 385.3h0M217.9 384.7h0M218.1 384.2h0M218.3 383.7h0M218.5 383.2h0M218.7 382.7h0M218.9 382.1h0M219.1 381.6h0M219.3 381.1h0M219.6 380.6h0M219.8 380.1h0M220.0 379.5h0M220.2 379.0h0M220.4 378.5h0M220.6 378.0h0M220.8 377.5h0M221.0 376.9h0M221.2 376.4h0M221.4 375.9h0M221.7 375.4h0M221.9 374.9h0M222.1 374.3h0M222.3 373.8h0M222.5 373.3h0M222.7 372.8h0M222.9 372.2h0M223.1 371.7h0M223.3 371.2h0M223.5 370.7h0M223.8 370.2h0M224.0 369.6h0M224.2 369.1h0M224.4 368.6h0M224.6 368.1h0M224.8 367.5h0M225.0 367.0h0M225.2 366.5h0M225.4 366.0h0M225.6 365.4h0M225.9 364.9h0M226.1 364.4h0M226.3 363.9h0M226.5 363.4h0M226.7 362.8h0M226.9 362.3h0M227.1 361.8h0M227.3 361.3h0M227.5 360.8h0M227.7 360.2h0M228.0 359.7h0M228.2 359.2h0M228.4 358.7h0M228.6 358.1h0M228.8 357.6h0M229.0 357.1h0M229.2 356.6h0M229.4 356.1h0M229.6 355.5h0M229.8 355.0h0M230.1 354.5h0M230.3 354.0h0M230.5 353.5h0M230.7 353.0h0M230.9 352.4h0M231.1 351.9h0M231.3 351.4h0M231.5 350.9h0M231.7 350.4h0M231.9 349.8h0M232.2 349.3h0M232.4 348.8h0M232.6 348.3h0M232.8 347.8h0M233.0 347.3h0M233.2 346.8h0M233.4 346.2h0M233.6 345.7h0M233.8 345.2h0M234.0 344.7h0M234.3 344.2h0M234.5 343.7h0M234.7 343.2h0M234.9 342.6h0M235.1 342.1h0M235.3 341.6h0M235.5 341.1h0M235.7 340.6h0M235.9 340.1h0M236.1 339.6h0M236.4 339.1h0M236.6 338.6h0M236.8 338.1h0M237.0 337.5h0M237.2 337.0h0M237.4 336.5h0M237.6 336.0h0M237.8 335.5h0M238.0 335.0h0M238.2 334.5h0M238.5 334.0h0M238.7 333.5h0M238.9 333.0h0M239.1 332.5h0M239.3 332.0h0M239.5 331.5h0M239.7 331.0h0M239.9 330.5h0M240.1 330.0h0M240.3 329.5h0M240.6 329.0h0M240.8 328.5h0M241.0 328.0h0M241.2 327.5h0M241.4 327.0h0M241.6 326.5h0M241.8 326.0h0M242.0 325.5h0M242.2 325.0h0M242.4 324.5h0M242.7 324.0h0M242.9 323.5h0M243.1 323.0h0M243.3 322.5h0M243.5 322.0h0M243.7 321.6h0M243.9 321.1h0M244.1 320.6h0M244.3 320.1h0M244.5 319.6h0M244.8 319.1h0M245.0 318.6h0M245.2 318.1h0M245.4 317.7h0M245.6 317.2h0M245.8 316.7h0M246.0 316.2h0M246.2 315.7h0M246.4 315.2h0M246.6 314.7h0M246.9 314.3h0M247.1 313.8h0M247.3 313.3h0M247.5 312.8h0M247.7 312.3h0M247.9 311.9h0M248.1 311.4h0M248.3 310.9h0M248.5 310.4h0M248.7 310.0h0M249.0 309.5h0M249.2 309.0h0M249.4 308.5h0M249.6 308.1h0M249.8 307.6h0M250.0 307.1h0M250.2 306.6h0M250.4 306.2h0M250.6 305.7h0M250.8 305.2h0M251.1 304.8h0M251.3 304.3h0M251.5 303.8h0M251.7 303.4h0M251.9 302.9h0M252.1 302.4h0M252.3 302.0h0M252.5 301.5h0M252.7 301.0h0M252.9 300.6h0M253.2 300.1h0M253.4 299.6h0M253.6 299.2h0M253.8 298.7h0M254.0 298.3h0M254.2 297.8h0M254.4 297.3h0M254.6 296.9h0M254.8 296.4h0M255.0 296.0h0M255.3 295.5h0M255.5 295.1h0M255.7 294.6h0M255.9 294.2h0M256.1 293.7h0M256.3 293.3h0M256.5 292.8h0M256.7 292.4h0M256.9 291.9h0M257.1 291.5h0M257.4 291.0h0M257.6 290.6h0M257.8 290.1h0M258.0 289.7h0M258.2 289.2h0M258.4 288.8h0M258.6 288.3h0M258.8 287.9h0M259.0 287.5h0M259.2 287.0h0M259.5 286.6h0M259.7 286.1h0M259.9 285.7h0M260.1 285.3h0M260.3 284.8h0M260.5 284.4h0M260.7 283.9h0M260.9 283.5h0M261.1 283.1h0M261.3 282.6h0M261.6 282.2h0M261.8 281.8h0M262.0 281.3h0M262.2 280.9h0M262.4 280.5h0M262.6 280.1h0M262.8 279.6h0M263.0 279.2h0M263.2 278.8h0M263.4 278.3h0M263.7 277.9h0M263.9 277.5h0M264.1 277.1h0M264.3 276.7h0M264.5 276.2h0M264.7 275.8h0M264.9 275.4h0M265.1 275.0h0M265.3 274.5h0M265.5 274.1h0M265.8 273.7h0M266.0 273.3h0M266.2 272.9h0M266.4 272.5h0M266.6 272.0h0M266.8 271.6h0M267.0 271.2h0M267.2 270.8h0M267.4 270.4h0M267.6 270.0h0M267.9 269.6h0M268.1 269.2h0M268.3 268.8h0M268.5 268.3h0M268.7 267.9h0M268.9 267.5h0M269.1 267.1h0M269.3 266.7h0M269.5 266.3h0M269.7 265.9h0M270.0 265.5h0M270.2 265.1h0M270.4 264.7h0M270.6 264.3h0M270.8 263.9h0M271.0 263.5h0M271.2 263.1h0M271.4 262.7h0M271.6 262.3h0M271.8 261.9h0M272.1 261.5h0M272.3 261.1h0M272.5 260.7h0M272.7 260.3h0M272.9 259.9h0M273.1 259.5h0M273.3 259.2h0M273.5 258.8h0M273.7 258.4h0M273.9 258.0h0M274.2 257.6h0M274.4 257.2h0M274.6 256.8h0M274.8 256.4h0M275.0 256.1h0M275.2 255.7h0M275.4 255.3h0M275.6 254.9h0M275.8 254.5h0M276.0 254.1h0M276.3 253.8h0M276.5 253.4h0M276.7 253.0h0M276.9 252.6h0M277.1 252.2h0M277.3 251.9h0M277.5 251.5h0M277.7 251.1h0M277.9 250.7h0M278.1 250.4h0M278.4 250.0h0M278.6 249.6h0M278.8 249.2h0M279.0 248.9h0M279.2 248.5h0M279.4 248.1h0M279.6 247.8h0M279.8 247.4h0M280.0 247.0h0M280.2 246.7h0M280.5 246.3h0M280.7 245.9h0M280.9 245.6h0M281.1 245.2h0M281.3 244.8h0M281.5 244.5h0M281.7 244.1h0M281.9 243.8h0M282.1 243.4h0M282.3 243.0h0M282.6 242.7h0M282.8 242.3h0M283.0 242.0h0M283.2 241.6h0M283.4 241.2h0M283.6 240.9h0M283.8 240.5h0M284.0 240.2h0M284.2 239.8h0M284.4 239.5h0M284.7 239.1h0M284.9 238.8h0M285.1 238.4h0M285.3 238.1h0M285.5 237.7h0M285.7 237.4h0M285.9 237.0h0M286.1 236.7h0M286.3 236.3h0M286.5 236.0h0M286.8 235.6h0M287.0 235.3h0M287.2 235.0h0M287.4 234.6h0M287.6 234.3h0M287.8 233.9h0M288.0 233.6h0M288.2 233.3h0M288.4 232.9h0M288.6 232.6h0M288.9 232.2h0M289.1 231.9h0M289.3 231.6h0M289.5 231.2h0M289.7 230.9h0M289.9 230.6h0M290.1 230.2h0M290.3 229.9h0M290.5 229.6h0M290.7 229.2h0M291.0 228.9h0M291.2 228.6h0M291.4 228.2h0M291.6 227.9h0M291.8 227.6h0M292.0 227.2h0M292.2 226.9h0M292.4 226.6h0M292.6 226.3h0M292.8 225.9h0M293.1 225.6h0M293.3 225.3h0M293.5 225.0h0M293.7 224.6h0M293.9 224.3h0M294.1 224.0h0M294.3 223.7h0M294.5 223.4h0M294.7 223.0h0M294.9 222.7h0M295.2 222.4h0M295.4 222.1h0M295.6 221.8h0M295.8 221.5h0M296.0 221.1h0M296.2 220.8h0M296.4 220.5h0M296.6 220.2h0M296.8 219.9h0M297.0 219.6h0M297.3 219.3h0M297.5 219.0h0M297.7 218.6h0M297.9 218.3h0M298.1 218.0h0M298.3 217.7h0M298.5 217.4h0M298.7 217.1h0M298.9 216.8h0M299.1 216.5h0M299.4 216.2h0M299.6 215.9h0M299.8 215.6h0M300.0 215.3h0M300.2 215.0h0M300.4 214.7h0M300.6 214.4h0M300.8 214.1h0M301.0 213.8h0M301.2 213.5h0M301.5 213.2h0M301.7 212.9h0M301.9 212.6h0M302.1 212.3h0M302.3 212.0h0M302.5 211.7h0M302.7 211.4h0M302.9 211.1h0M303.1 210.8h0M303.3 210.5h0M303.6 210.2h0M303.8 209.9h0M304.0 209.6h0M304.2 209.3h0M304.4 209.0h0M304.6 208.8h0M304.8 208.5h0M305.0 208.2h0M305.2 207.9h0M305.4 207.6h0M305.7 207.3h0M305.9 207.0h0M306.1 206.7h0M306.3 206.5h0M306.5 206.2h0M306.7 205.9h0M306.9 205.6h0M307.1 205.3h0M307.3 205.0h0M307.5 204.8h0M307.8 204.5h0M308.0 204.2h0M308.2 203.9h0M308.4 203.6h0M308.6 203.4h0M308.8 203.1h0M309.0 202.8h0M309.2 202.5h0M309.4 202.3h0M309.6 202.0h0M309.9 201.7h0M310.1 201.4h0M310.3 201.2h0M310.5 200.9h0M310.7 200.6h0M310.9 200.3h0M311.1 200.1h0M311.3 199.8h0M311.5 199.5h0M311.7 199.3h0M312.0 199.0h0M312.2 198.7h0M312.4 198.5h0M312.6 198.2h0M312.8 197.9h0M313.0 197.6h0M313.2 197.4h0M313.4 197.1h0M313.6 196.9h0M313.8 196.6h0M314.1 196.3h0M314.3 196.1h0M314.5 195.8h0M314.7 195.5h0M314.9 195.3h0M315.1 195.0h0M315.3 194.8h0M315.5 194.5h0M315.7 194.2h0M315.9 194.0h0M316.2 193.7h0M316.4 193.5h0M316.6 193.2h0M316.8 192.9h0M317.0 192.7h0M317.2 192.4h0M317.4 192.2h0M317.6 191.9h0M317.8 191.7h0M318.0 191.4h0M318.3 191.2h0M318.5 190.9h0M318.7 190.7h0M318.9 190.4h0M319.1 190.1h0M319.3 189.9h0M319.5 189.6h0M319.7 189.4h0M319.9 189.1h0M320.1 188.9h0M320.4 188.7h0M320.6 188.4h0M320.8 188.2h0M321.0 187.9h0M321.2 187.7h0M321.4 187.4h0M321.6 187.2h0M321.8 186.9h0M322.0 186.7h0M322.2 186.4h0M322.5 186.2h0M322.7 186.0h0M322.9 185.7h0M323.1 185.5h0M323.3 185.2h0M323.5 185.0h0M323.7 184.8h0M323.9 184.5h0M324.1 184.3h0M324.3 184.0h0M324.6 183.8h0M324.8 183.6h0M325.0 183.3h0M325.2 183.1h0M325.4 182.8h0M325.6 182.6h0M325.8 182.4h0M326.0 182.1h0M326.2 181.9h0M326.4 181.7h0M326.7 181.4h0M326.9 181.2h0M327.1 181.0h0M327.3 180.7h0M327.5 180.5h0M327.7 180.3h0M327.9 180.1h0M328.1 179.8h0M328.3 179.6h0M328.5 179.4h0M328.8 179.1h0M329.0 178.9h0M329.2 178.7h0M329.4 178.5h0M329.6 178.2h0M329.8 178.0h0M330.0 177.8h0M330.2 177.5h0M330.4 177.3h0M330.6 177.1h0M330.9 176.9h0M331.1 176.7h0M331.3 176.4h0M331.5 176.2h0M331.7 176.0h0M331.9 175.8h0M332.1 175.5h0M332.3 175.3h0M332.5 175.1h0M332.7 174.9h0M333.0 174.7h0M333.2 174.4h0M333.4 174.2h0M333.6 174.0h0M333.8 173.8h0M334.0 173.6h0M334.2 173.4h0M334.4 173.1h0M334.6 172.9h0M334.8 172.7h0M335.1 172.5h0M335.3 172.3h0M335.5 172.1h0M335.7 171.8h0M335.9 171.6h0M336.1 171.4h0M336.3 171.2h0M336.5 171.0h0M336.7 170.8h0M336.9 170.6h0M337.2 170.4h0M337.4 170.2h0M337.6 169.9h0M337.8 169.7h0M338.0 169.5h0M338.2 169.3h0M338.4 169.1h0M338.6 168.9h0M338.8 168.7h0M339.0 168.5h0M339.3 168.3h0M339.5 168.1h0M339.7 167.9h0M339.9 167.7h0M340.1 167.5h0M340.3 167.3h0M340.5 167.0h0M340.7 166.8h0M340.9 166.6h0M341.1 166.4h0M341.4 166.2h0M341.6 166.0h0M341.8 165.8h0M342.0 165.6h0M342.2 165.4h0M342.4 165.2h0M342.6 165.0h0M342.8 164.8h0M343.0 164.6h0M343.2 164.4h0M343.5 164.2h0M343.7 164.0h0M343.9 163.8h0M344.1 163.6h0M344.3 163.4h0M344.5 163.2h0M344.7 163.0h0M344.9 162.9h0M345.1 162.7h0M345.3 162.5h0M345.6 162.3h0M345.8 162.1h0M346.0 161.9h0M346.2 161.7h0M346.4 161.5h0M346.6 161.3h0M346.8 161.1h0M347.0 160.9h0M347.2 160.7h0M347.4 160.5h0M347.7 160.3h0M347.9 160.2h0M348.1 160.0h0M348.3 159.8h0M348.5 159.6h0M348.7 159.4h0M348.9 159.2h0M349.1 159.0h0M349.3 158.8h0M349.5 158.6h0M349.8 158.5h0M350.0 158.3h0M350.2 158.1h0M350.4 157.9h0M350.6 157.7h0M350.8 157.5h0M351.0 157.3h0M351.2 157.2h0M351.4 157.0h0M351.6 156.8h0M351.9 156.6h0M352.1 156.4h0M352.3 156.2h0M352.5 156.1h0M352.7 155.9h0M352.9 155.7h0M353.1 155.5h0M353.3 155.3h0M353.5 155.2h0M353.7 155.0h0M354.0 154.8h0M354.2 154.6h0M354.4 154.4h0M354.6 154.3h0M354.8 154.1h0M355.0 153.9h0M355.2 153.7h0M355.4 153.5h0M355.6 153.4h0M355.8 153.2h0M356.1 153.0h0M356.3 152.8h0M356.5 152.7h0M356.7 152.5h0M356.9 152.3h0M357.1 152.1h0M357.3 152.0h0M357.5 151.8h0M357.7 151.6h0M357.9 151.4h0M358.2 151.3h0M358.4 151.1h0M358.6 150.9h0M358.8 150.8h0M359.0 150.6h0M359.2 150.4h0M359.4 150.2h0M359.6 150.1h0M359.8 149.9h0M360.0 149.7h0M360.3 149.6h0M360.5 149.4h0M360.7 149.2h0M360.9 149.1h0M361.1 148.9h0M361.3 148.7h0M361.5 148.6h0M361.7 148.4h0M361.9 148.2h0M362.1 148.1h0M362.4 147.9h0M362.6 147.7h0M362.8 147.6h0M363.0 147.4h0M363.2 147.2h0M363.4 147.1h0M363.6 146.9h0M363.8 146.7h0M364.0 146.6h0M364.2 146.4h0M364.5 146.2h0M364.7 146.1h0M364.9 145.9h0M365.1 145.8h0M365.3 145.6h0M365.5 145.4h0M365.7 145.3h0M365.9 145.1h0M366.1 144.9h0M366.3 144.8h0M366.6 144.6h0M366.8 144.5h0M367.0 144.3h0M367.2 144.1h0M367.4 144.0h0M367.6 143.8h0M367.8 143.7h0M368.0 143.5h0M368.2 143.4h0M368.4 143.2h0M368.7 143.0h0M368.9 142.9h0M369.1 142.7h0M369.3 142.6h0M369.5 142.4h0M369.7 142.3h0M369.9 142.1h0M370.1 141.9h0M370.3 141.8h0M370.5 141.6h0M370.8 141.5h0M371.0 141.3h0M371.2 141.2h0M371.4 141.0h0M371.6 140.9h0M371.8 140.7h0M372.0 140.6h0M372.2 140.4h0M372.4 140.3h0M372.6 140.1h0M372.9 140.0h0M373.1 139.8h0M373.3 139.7h0M373.5 139.5h0M373.7 139.4h0M373.9 139.2h0M374.1 139.1h0M374.3 138.9h0M374.5 138.8h0M374.7 138.6h0M375.0 138.5h0M375.2 138.3h0M375.4 138.2h0M375.6 138.0h0M375.8 137.9h0M376.0 137.7h0M376.2 137.6h0M376.4 137.4h0M376.6 137.3h0M376.8 137.1h0M377.1 137.0h0M377.3 136.8h0M377.5 136.7h0M377.7 136.6h0M377.9 136.4h0M378.1 136.3h0M378.3 136.1h0M378.5 136.0h0M378.7 135.8h0M378.9 135.7h0M379.2 135.6h0M379.4 135.4h0M379.6 135.3h0M379.8 135.1h0M380.0 135.0h0M380.2 134.8h0M380.4 134.7h0M380.6 134.6h0M380.8 134.4h0M381.0 134.3h0M381.3 134.1h0M381.5 134.0h0M381.7 133.9h0M381.9 133.7h0M382.1 133.6h0M382.3 133.4h0M382.5 133.3h0M382.7 133.2h0M382.9 133.0h0M383.1 132.9h0M383.4 132.7h0M383.6 132.6h0M383.8 132.5h0M384.0 132.3h0M384.2 132.2h0M384.4 132.1h0M384.6 131.9h0M384.8 131.8h0M385.0 131.7h0M385.2 131.5h0M385.5 131.4h0M385.7 131.3h0M385.9 131.1h0M386.1 131.0h0M386.3 130.8h0M386.5 130.7h0M386.7 130.6h0M386.9 130.4h0M387.1 130.3h0M387.3 130.2h0M387.6 130.0h0M387.8 129.9h0M388.0 129.8h0M388.2 129.6h0M388.4 129.5h0M388.6 129.4h0M388.8 129.3h0M389.0 129.1h0M389.2 129.0h0M389.4 128.9h0M389.7 128.7h0M389.9 128.6h0M390.1 128.5h0M390.3 128.3h0M390.5 128.2h0M390.7 128.1h0M390.9 128.0h0M391.1 127.8h0M391.3 127.7h0M391.5 127.6h0M391.8 127.4h0M392.0 127.3h0M392.2 127.2h0M392.4 127.1h0M392.6 126.9h0M392.8 126.8h0M393.0 126.7h0M393.2 126.5h0M393.4 126.4h0M393.6 126.3h0M393.9 126.2h0M394.1 126.0h0M394.3 125.9h0M394.5 125.8h0M394.7 125.7h0M394.9 125.5h0M395.1 125.4h0M395.3 125.3h0M395.5 125.2h0M395.7 125.1h0M396.0 124.9h0M396.2 124.8h0M396.4 124.7h0M396.6 124.6h0M396.8 124.4h0M397.0 124.3h0M397.2 124.2h0M397.4 124.1h0M397.6 123.9h0M397.8 123.8h0M398.1 123.7h0M398.3 123.6h0M398.5 123.5h0M398.7 123.3h0M398.9 123.2h0M399.1 123.1h0M399.3 123.0h0M399.5 122.9h0M399.7 122.7h0M399.9 122.6h0M400.2 122.5h0M400.4 122.4h0M400.6 122.3h0M400.8 122.1h0M401.0 122.0h0M401.2 121.9h0M401.4 121.8h0M401.6 121.7h0M401.8 121.6h0M402.0 121.4h0M402.3 121.3h0M402.5 121.2h0M402.7 121.1h0M402.9 121.0h0M403.1 120.9h0M403.3 120.7h0M403.5 120.6h0M403.7 120.5h0M403.9 120.4h0M404.1 120.3h0M404.4 120.2h0M404.6 120.0h0M404.8 119.9h0M405.0 119.8h0M405.2 119.7h0M405.4 119.6h0M405.6 119.5h0M405.8 119.4h0M406.0 119.2h0M406.2 119.1h0M406.5 119.0h0M406.7 118.9h0M406.9 118.8h0M407.1 118.7h0M407.3 118.6h0M407.5 118.5h0M407.7 118.3h0M407.9 118.2h0M408.1 118.1h0M408.3 118.0h0M408.6 117.9h0M408.8 117.8h0M409.0 117.7h0M409.2 117.6h0M409.4 117.5h0M409.6 117.4h0M409.8 117.2h0M410.0 117.1h0M410.2 117.0h0M410.4 116.9h0M410.7 116.8h0M410.9 116.7h0M411.1 116.6h0M411.3 116.5h0M411.5 116.4h0M411.7 116.3h0M411.9 116.2h0M412.1 116.0h0M412.3 115.9h0M412.5 115.8h0M412.8 115.7h0M413.0 115.6h0M413.2 115.5h0M413.4 115.4h0M413.6 115.3h0M413.8 115.2h0M414.0 115.1h0M414.2 115.0h0M414.4 114.9h0M414.6 114.8h0M414.9 114.7h0M415.1 114.6h0M415.3 114.4h0M415.5 114.3h0M415.7 114.2h0M415.9 114.1h0M416.1 114.0h0M416.3 113.9h0M416.5 113.8h0M416.7 113.7h0M417.0 113.6h0M417.2 113.5h0M417.4 113.4h0M417.6 113.3h0M417.8 113.2h0M418.0 113.1h0M418.2 113.0h0M418.4 112.9h0M418.6 112.8h0M418.8 112.7h0M419.1 112.6h0M419.3 112.5h0M419.5 112.4h0M419.7 112.3h0M419.9 112.2h0M420.1 112.1h0M420.3 112.0h0M420.5 111.9h0M420.7 111.8h0M420.9 111.7h0M421.2 111.6h0M421.4 111.5h0M421.6 111.4h0M421.8 111.3h0M422.0 111.2h0M422.2 111.1h0M422.4 111.0h0M422.6 110.9h0M422.8 110.8h0M423.0 110.7h0M423.3 110.6h0M423.5 110.5h0M423.7 110.4h0M423.9 110.3h0M424.1 110.2h0M424.3 110.1h0M424.5 110.0h0M424.7 109.9h0M424.9 109.8h0M425.1 109.7h0M425.4 109.6h0M425.6 109.5h0M425.8 109.4h0M426.0 109.3h0M426.2 109.2h0M426.4 109.1h0M426.6 109.0h0M426.8 108.9h0M427.0 108.8h0M427.2 108.7h0M427.5 108.7h0M427.7 108.6h0M427.9 108.5h0M428.1 108.4h0M428.3 108.3h0M428.5 108.2h0M428.7 108.1h0M428.9 108.0h0M429.1 107.9h0M429.3 107.8h0M429.6 107.7h0M429.8 107.6h0M430.0 107.5h0M430.2 107.4h0M430.4 107.3h0M430.6 107.2h0M430.8 107.1h0M431.0 107.1h0M431.2 107.0h0M431.4 106.9h0M431.7 106.8h0M431.9 106.7h0M432.1 106.6h0M432.3 106.5h0M432.5 106.4h0M432.7 106.3h0M432.9 106.2h0M433.1 106.1h0M433.3 106.0h0M433.5 106.0h0M433.8 105.9h0M434.0 105.8h0M434.2 105.7h0M434.4 105.6h0M434.6 105.5h0M434.8 105.4h0M435.0 105.3h0M435.2 105.2h0M435.4 105.1h0M435.6 105.1h0M435.9 105.0h0M436.1 104.9h0M436.3 104.8h0M436.5 104.7h0M436.7 104.6h0M436.9 104.5h0M437.1 104.4h0M437.3 104.4h0M437.5 104.3h0M437.7 104.2h0M438.0 104.1h0M438.2 104.0h0M438.4 103.9h0M438.6 103.8h0M438.8 103.7h0M439.0 103.7h0M439.2 103.6h0M439.4 103.5h0M439.6 103.4h0M439.8 103.3h0M440.1 103.2h0M440.3 103.1h0M440.5 103.0h0M440.7 103.0h0M440.9 102.9h0M441.1 102.8h0M441.3 102.7h0M441.5 102.6h0M441.7 102.5h0M441.9 102.5h0M442.2 102.4h0M442.4 102.3h0M442.6 102.2h0M442.8 102.1h0M443.0 102.0h0M443.2 101.9h0M443.4 101.9h0M443.6 101.8h0M443.8 101.7h0M444.0 101.6h0M444.3 101.5h0M444.5 101.4h0M444.7 101.4h0M444.9 101.3h0M445.1 101.2h0M445.3 101.1h0M445.5 101.0h0M445.7 100.9h0M445.9 100.9h0M446.1 100.8h0M446.4 100.7h0M446.6 100.6h0M446.8 100.5h0M447.0 100.5h0M447.2 100.4h0M447.4 100.3h0M447.6 100.2h0M447.8 100.1h0M448.0 100.0h0M448.2 100.0h0M448.5 99.9h0M448.7 99.8h0M448.9 99.7h0M449.1 99.6h0M449.3 99.6h0M449.5 99.5h0M449.7 99.4h0M449.9 99.3h0M450.1 99.2h0M450.3 99.2h0M450.6 99.1h0M450.8 99.0h0M451.0 98.9h0M451.2 98.9h0M451.4 98.8h0M451.6 98.7h0M451.8 98.6h0M452.0 98.5h0M452.2 98.5h0M452.4 98.4h0M452.7 98.3h0M452.9 98.2h0M453.1 98.1h0M453.3 98.1h0M453.5 98.0h0M453.7 97.9h0M453.9 97.8h0M454.1 97.8h0M454.3 97.7h0M454.5 97.6h0M454.8 97.5h0M455.0 97.5h0M455.2 97.4h0M455.4 97.3h0M455.6 97.2h0M455.8 97.1h0M456.0 97.1h0M456.2 97.0h0M456.4 96.9h0M456.6 96.8h0M456.9 96.8h0M457.1 96.7h0M457.3 96.6h0M457.5 96.5h0M457.7 96.5h0M457.9 96.4h0M458.1 96.3h0M458.3 96.2h0M458.5 96.2h0M458.7 96.1h0M459.0 96.0h0M459.2 95.9h0M459.4 95.9h0M459.6 95.8h0M459.8 95.7h0M460.0 95.6h0M460.2 95.6h0M460.4 95.5h0M460.6 95.4h0M460.8 95.4h0M461.1 95.3h0M461.3 95.2h0M461.5 95.1h0M461.7 95.1h0M461.9 95.0h0M462.1 94.9h0M462.3 94.8h0M462.5 94.8h0M462.7 94.7h0M462.9 94.6h0M463.2 94.6h0M463.4 94.5h0M463.6 94.4h0M463.8 94.3h0M464.0 94.3h0M464.2 94.2h0M464.4 94.1h0M464.6 94.0h0M464.8 94.0h0M465.0 93.9h0M465.3 93.8h0M465.5 93.8h0M465.7 93.7h0M465.9 93.6h0M466.1 93.6h0M466.3 93.5h0M466.5 93.4h0M466.7 93.3h0M466.9 93.3h0M467.1 93.2h0M467.4 93.1h0M467.6 93.1h0M467.8 93.0h0M468.0 92.9h0M468.2 92.9h0M468.4 92.8h0M468.6 92.7h0M468.8 92.6h0M469.0 92.6h0M469.2 92.5h0M469.5 92.4h0M469.7 92.4h0M469.9 92.3h0M470.1 92.2h0M470.3 92.2h0M470.5 92.1h0M470.7 92.0h0M470.9 92.0h0M471.1 91.9h0M471.3 91.8h0M471.6 91.8h0M471.8 91.7h0M472.0 91.6h0M472.2 91.6h0M472.4 91.5h0M472.6 91.4h0M472.8 91.4h0M473.0 91.3h0M473.2 91.2h0M473.4 91.2h0M473.7 91.1h0M473.9 91.0h0M474.1 91.0h0M474.3 90.9h0M474.5 90.8h0M474.7 90.8h0M474.9 90.7h0M475.1 90.6h0M475.3 90.6h0M475.5 90.5h0M475.8 90.4h0M476.0 90.4h0M476.2 90.3h0M476.4 90.2h0M476.6 90.2h0M476.8 90.1h0M477.0 90.0h0M477.2 90.0h0M477.4 89.9h0M477.6 89.8h0M477.9 89.8h0M478.1 89.7h0M478.3 89.6h0M478.5 89.6h0M478.7 89.5h0M478.9 89.5h0M479.1 89.4h0M479.3 89.3h0M479.5 89.3h0M479.7 89.2h0M480.0 89.1h0M480.2 89.1h0M480.4 89.0h0M480.6 88.9h0M480.8 88.9h0M481.0 88.8h0M481.2 88.8h0M481.4 88.7h0M481.6 88.6h0M481.8 88.6h0M482.1 88.5h0M482.3 88.4h0M482.5 88.4h0M482.7 88.3h0M482.9 88.3h0M483.1 88.2h0M483.3 88.1h0M483.5 88.1h0M483.7 88.0h0M483.9 87.9h0M484.2 87.9h0M484.4 87.8h0M484.6 87.8h0M484.8 87.7h0M485.0 87.6h0M485.2 87.6h0M485.4 87.5h0M485.6 87.5h0M485.8 87.4h0M486.0 87.3h0M486.3 87.3h0M486.5 87.2h0M486.7 87.2h0M486.9 87.1h0M487.1 87.0h0M487.3 87.0h0M487.5 86.9h0M487.7 86.9h0M487.9 86.8h0M488.1 86.7h0M488.4 86.7h0M488.6 86.6h0M488.8 86.6h0M489.0 86.5h0M489.2 86.4h0M489.4 86.4h0M489.6 86.3h0M489.8 86.3h0M490.0 86.2h0M490.2 86.1h0M490.5 86.1h0M490.7 86.0h0M490.9 86.0h0M491.1 85.9h0M491.3 85.8h0M491.5 85.8h0M491.7 85.7h0M491.9 85.7h0M492.1 85.6h0M492.3 85.6h0M492.6 85.5h0M492.8 85.4h0M493.0 85.4h0M493.2 85.3h0M493.4 85.3h0M493.6 85.2h0M493.8 85.1h0M494.0 85.1h0M494.2 85.0h0M494.4 85.0h0M494.7 84.9h0M494.9 84.9h0M495.1 84.8h0M495.3 84.7h0M495.5 84.7h0M495.7 84.6h0M495.9 84.6h0M496.1 84.5h0M496.3 84.5h0M496.5 84.4h0M496.8 84.4h0M497.0 84.3h0M497.2 84.2h0M497.4 84.2h0M497.6 84.1h0M497.8 84.1h0M498.0 84.0h0M498.2 84.0h0M498.4 83.9h0M498.6 83.9h0M498.9 83.8h0M499.1 83.7h0M499.3 83.7h0M499.5 83.6h0M499.7 83.6h0M499.9 83.5h0M500.1 83.5h0M500.3 83.4h0M500.5 83.4h0M500.7 83.3h0M501.0 83.2h0M501.2 83.2h0M501.4 83.1h0M501.6 83.1h0M501.8 83.0h0M502.0 83.0h0M502.2 82.9h0M502.4 82.9h0M502.6 82.8h0M502.8 82.8h0M503.1 82.7h0M503.3 82.7h0M503.5 82.6h0M503.7 82.5h0M503.9 82.5h0M504.1 82.4h0M504.3 82.4h0M504.5 82.3h0M504.7 82.3h0M504.9 82.2h0M505.2 82.2h0M505.4 82.1h0M505.6 82.1h0M505.8 82.0h0M506.0 82.0h0M506.2 81.9h0M506.4 81.9h0M506.6 81.8h0M506.8 81.8h0M507.0 81.7h0M507.3 81.6h0M507.5 81.6h0M507.7 81.5h0M507.9 81.5h0M508.1 81.4h0M508.3 81.4h0M508.5 81.3h0M508.7 81.3h0M508.9 81.2h0M509.1 81.2h0M509.4 81.1h0M509.6 81.1h0M509.8 81.0h0M510.0 81.0h0M510.2 80.9h0M510.4 80.9h0M510.6 80.8h0M510.8 80.8h0M511.0 80.7h0M511.2 80.7h0M511.5 80.6h0M511.7 80.6h0M511.9 80.5h0M512.1 80.5h0M512.3 80.4h0M512.5 80.4h0M512.7 80.3h0M512.9 80.3h0M513.1 80.2h0M513.3 80.2h0M513.6 80.1h0M513.8 80.1h0M514.0 80.0h0M514.2 80.0h0M514.4 79.9h0M514.6 79.9h0M514.8 79.8h0M515.0 79.8h0M515.2 79.7h0M515.4 79.7h0M515.7 79.6h0M515.9 79.6h0M516.1 79.5h0M516.3 79.5h0M516.5 79.4h0M516.7 79.4h0M516.9 79.3h0M517.1 79.3h0M517.3 79.2h0M517.5 79.2h0M517.8 79.1h0M518.0 79.1h0M518.2 79.0h0M518.4 79.0h0M518.6 78.9h0M518.8 78.9h0M519.0 78.9h0M519.2 78.8h0M519.4 78.8h0M519.6 78.7h0M519.9 78.7h0M520.1 78.6h0M520.3 78.6h0M520.5 78.5h0M520.7 78.5h0M520.9 78.4h0M521.1 78.4h0M521.3 78.3h0M521.5 78.3h0M521.7 78.2h0M522.0 78.2h0M522.2 78.1h0M522.4 78.1h0M522.6 78.1h0M522.8 78.0h0M523.0 78.0h0M523.2 77.9h0M523.4 77.9h0M523.6 77.8h0M523.8 77.8h0M524.1 77.7h0M524.3 77.7h0M524.5 77.6h0M524.7 77.6h0M524.9 77.5h0M525.1 77.5h0M525.3 77.5h0M525.5 77.4h0M525.7 77.4h0M525.9 77.3h0M526.2 77.3h0M526.4 77.2h0M526.6 77.2h0M526.8 77.1h0M527.0 77.1h0M527.2 77.0h0M527.4 77.0h0M527.6 77.0h0M527.8 76.9h0M528.0 76.9h0M528.3 76.8h0M528.5 76.8h0M528.7 76.7h0M528.9 76.7h0M529.1 76.6h0M529.3 76.6h0M529.5 76.6h0M529.7 76.5h0M529.9 76.5h0M530.1 76.4h0M530.4 76.4h0M530.6 76.3h0M530.8 76.3h0M531.0 76.2h0M531.2 76.2h0M531.4 76.2h0M531.6 76.1h0M531.8 76.1h0M532.0 76.0h0M532.2 76.0h0M532.5 75.9h0M532.7 75.9h0M532.9 75.8h0M533.1 75.8h0M533.3 75.8h0M533.5 75.7h0M533.7 75.7h0M533.9 75.6h0M534.1 75.6h0M534.3 75.5h0M534.6 75.5h0M534.8 75.5h0M535.0 75.4h0M535.2 75.4h0M535.4 75.3h0M535.6 75.3h0M535.8 75.2h0M536.0 75.2h0M536.2 75.2h0M536.4 75.1h0M536.7 75.1h0M536.9 75.0h0M537.1 75.0h0M537.3 75.0h0M537.5 74.9h0M537.7 74.9h0M537.9 74.8h0M538.1 74.8h0M538.3 74.7h0M538.5 74.7h0M538.8 74.7h0M539.0 74.6h0M539.2 74.6h0M539.4 74.5h0M539.6 74.5h0M539.8 74.5h0M540.0 74.4h0M540.2 74.4h0M540.4 74.3h0M540.6 74.3h0M540.9 74.2h0M541.1 74.2h0M541.3 74.2h0M541.5 74.1h0M541.7 74.1h0M541.9 74.0h0M542.1 74.0h0M542.3 74.0h0M542.5 73.9h0M542.7 73.9h0M543.0 73.8h0M543.2 73.8h0M543.4 73.8h0M543.6 73.7h0M543.8 73.7h0M544.0 73.6h0M544.2 73.6h0M544.4 73.6h0M544.6 73.5h0M544.8 73.5h0M545.1 73.4h0M545.3 73.4h0M545.5 73.4h0M545.7 73.3h0M545.9 73.3h0M546.1 73.2h0M546.3 73.2h0M546.5 73.2h0M546.7 73.1h0M546.9 73.1h0M547.2 73.1h0M547.4 73.0h0M547.6 73.0h0M547.8 72.9h0M548.0 72.9h0M548.2 72.9h0M548.4 72.8h0M548.6 72.8h0M548.8 72.7h0M549.0 72.7h0M549.3 72.7h0M549.5 72.6h0M549.7 72.6h0M549.9 72.5h0M550.1 72.5h0M550.3 72.5h0M550.5 72.4h0M550.7 72.4h0M550.9 72.4h0M551.1 72.3h0M551.4 72.3h0M551.6 72.2h0M551.8 72.2h0M552.0 72.2h0M552.2 72.1h0M552.4 72.1h0M552.6 72.1h0M552.8 72.0h0M553.0 72.0h0M553.2 71.9h0M553.5 71.9h0M553.7 71.9h0M553.9 71.8h0M554.1 71.8h0M554.3 71.8h0M554.5 71.7h0M554.7 71.7h0M554.9 71.6h0M555.1 71.6h0M555.3 71.6h0M555.6 71.5h0M555.8 71.5h0M556.0 71.5h0M556.2 71.4h0M556.4 71.4h0M556.6 71.3h0M556.8 71.3h0M557.0 71.3h0M557.2 71.2h0M557.4 71.2h0M557.7 71.2h0M557.9 71.1h0M558.1 71.1h0M558.3 71.1h0M558.5 71.0h0M558.7 71.0h0M558.9 71.0h0M559.1 70.9h0M559.3 70.9h0M559.5 70.8h0M559.8 70.8h0M560.0 70.8h0M560.2 70.7h0M560.4 70.7h0M560.6 70.7h0M560.8 70.6h0M561.0 70.6h0M561.2 70.6h0M561.4 70.5h0M561.6 70.5h0M561.9 70.5h0M562.1 70.4h0M562.3 70.4h0M562.5 70.3h0M562.7 70.3h0M562.9 70.3h0M563.1 70.2h0M563.3 70.2h0M563.5 70.2h0M563.7 70.1h0M564.0 70.1h0M564.2 70.1h0M564.4 70.0h0M564.6 70.0h0M564.8 70.0h0M565.0 69.9h0M565.2 69.9h0M565.4 69.9h0M565.6 69.8h0M565.8 69.8h0M566.1 69.8h0M566.3 69.7h0M566.5 69.7h0M566.7 69.7h0M566.9 69.6h0M567.1 69.6h0M567.3 69.6h0M567.5 69.5h0M567.7 69.5h0M567.9 69.5h0M568.2 69.4h0M568.4 69.4h0M568.6 69.4h0M568.8 69.3h0M569.0 69.3h0M569.2 69.3h0M569.4 69.2h0M569.6 69.2h0M569.8 69.2h0M570.0 69.1h0M570.3 69.1h0M570.5 69.1h0M570.7 69.0h0M570.9 69.0h0M571.1 69.0h0M571.3 68.9h0M571.5 68.9h0M571.7 68.9h0M571.9 68.8h0M572.1 68.8h0M572.4 68.8h0M572.6 68.7h0M572.8 68.7h0M573.0 68.7h0M573.2 68.6h0M573.4 68.6h0M573.6 68.6h0M573.8 68.5h0M574.0 68.5h0M574.2 68.5h0M574.5 68.4h0M574.7 68.4h0M574.9 68.4h0M575.1 68.3h0M575.3 68.3h0M575.5 68.3h0M575.7 68.2h0M575.9 68.2h0M576.1 68.2h0M576.3 68.2h0M576.6 68.1h0M576.8 68.1h0M577.0 68.1h0M577.2 68.0h0M577.4 68.0h0M577.6 68.0h0M577.8 67.9h0M578.0 67.9h0M578.2 67.9h0M578.4 67.8h0M578.7 67.8h0M578.9 67.8h0M579.1 67.7h0M579.3 67.7h0M579.5 67.7h0M579.7 67.7h0M579.9 67.6h0M580.1 67.6h0M580.3 67.6h0M580.5 67.5h0M580.8 67.5h0M581.0 67.5h0M581.2 67.4h0M581.4 67.4h0M581.6 67.4h0M581.8 67.3h0M582.0 67.3h0M582.2 67.3h0M582.4 67.3h0M582.6 67.2h0M582.9 67.2h0M583.1 67.2h0M583.3 67.1h0M583.5 67.1h0M583.7 67.1h0M583.9 67.0h0M584.1 67.0h0M584.3 67.0h0M584.5 67.0h0M584.7 66.9h0M585.0 66.9h0M585.2 66.9h0M585.4 66.8h0M585.6 66.8h0M585.8 66.8h0M586.0 66.7h0M586.2 66.7h0M586.4 66.7h0M586.6 66.7h0M586.8 66.6h0M587.1 66.6h0M587.3 66.6h0M587.5 66.5h0M587.7 66.5h0M587.9 66.5h0M588.1 66.5h0M588.3 66.4h0M588.5 66.4h0M588.7 66.4h0M588.9 66.3h0M589.2 66.3h0M589.4 66.3h0M589.6 66.3h0M589.8 66.2h0M590.0 66.2h0M590.2 66.2h0M590.4 66.1h0M590.6 66.1h0M590.8 66.1h0M591.0 66.1h0M591.3 66.0h0M591.5 66.0h0M591.7 66.0h0M591.9 65.9h0M592.1 65.9h0M592.3 65.9h0M592.5 65.9h0M592.7 65.8h0M592.9 65.8h0M593.1 65.8h0M593.4 65.7h0M593.6 65.7h0M593.8 65.7h0M594.0 65.7h0M594.2 65.6h0M594.4 65.6h0M594.6 65.6h0M594.8 65.6h0M595.0 65.5h0M595.2 65.5h0M595.5 65.5h0M595.7 65.4h0M595.9 65.4h0M596.1 65.4h0M596.3 65.4h0M596.5 65.3h0M596.7 65.3h0M596.9 65.3h0M597.1 65.3h0M597.3 65.2h0M597.6 65.2h0M597.8 65.2h0M598.0 65.1h0M598.2 65.1h0M598.4 65.1h0M598.6 65.1h0M598.8 65.0h0M599.0 65.0h0M599.2 65.0h0M599.4 65.0h0M599.7 64.9h0M599.9 64.9h0M600.1 64.9h0M600.3 64.9h0M600.5 64.8h0M600.7 64.8h0M600.9 64.8h0M601.1 64.7h0M601.3 64.7h0M601.5 64.7h0M601.8 64.7h0M602.0 64.6h0M602.2 64.6h0M602.4 64.6h0M602.6 64.6h0M602.8 64.5h0M603.0 64.5h0M603.2 64.5h0M603.4 64.5h0M603.6 64.4h0M603.9 64.4h0M604.1 64.4h0M604.3 64.4h0M604.5 64.3h0M604.7 64.3h0M604.9 64.3h0M605.1 64.3h0M605.3 64.2h0M605.5 64.2h0M605.7 64.2h0M606.0 64.2h0M606.2 64.1h0M606.4 64.1h0M606.6 64.1h0M606.8 64.1h0M607.0 64.0h0M607.2 64.0h0M607.4 64.0h0M607.6 64.0h0M607.8 63.9h0M608.1 63.9h0M608.3 63.9h0M608.5 63.9h0M608.7 63.8h0M608.9 63.8h0M609.1 63.8h0M609.3 63.8h0M609.5 63.7h0M609.7 63.7h0M609.9 63.7h0M610.2 63.7h0M610.4 63.6h0M610.6 63.6h0M610.8 63.6h0M611.0 63.6h0M611.2 63.5h0M611.4 63.5h0M611.6 63.5h0M611.8 63.5h0M612.0 63.4h0M612.3 63.4h0M612.5 63.4h0M612.7 63.4h0M612.9 63.3h0M613.1 63.3h0M613.3 63.3h0M613.5 63.3h0M613.7 63.2h0M613.9 63.2h0M614.1 63.2h0M614.4 63.2h0M614.6 63.2h0M614.8 63.1h0M615.0 63.1h0M615.2 63.1h0M615.4 63.1h0M615.6 63.0h0M615.8 63.0h0M616.0 63.0h0M616.2 63.0h0M616.5 62.9h0M616.7 62.9h0M616.9 62.9h0M617.1 62.9h0M617.3 62.8h0M617.5 62.8h0M617.7 62.8h0M617.9 62.8h0M618.1 62.8h0M618.3 62.7h0M618.6 62.7h0M618.8 62.7h0M619.0 62.7h0M619.2 62.6h0M619.4 62.6h0M619.6 62.6h0M619.8 62.6h0M620.0 62.6h0M620.2 62.5h0M620.4 62.5h0M620.7 62.5h0M620.9 62.5h0M621.1 62.4h0M621.3 62.4h0M621.5 62.4h0M621.7 62.4h0M621.9 62.3h0M622.1 62.3h0M622.3 62.3h0" fill="none" stroke="#ff565c" stroke-width="3.4" stroke-linecap="round"/>
<path d="M115.52 463.6v-7M157.77 463.6v-7M242.27 463.6v-7M284.52 463.6v-7M326.76 463.6v-7M369.01 463.6v-7M453.51 463.6v-7M495.76 463.6v-7M538 463.6v-7M580.25 463.6v-7M94.4 445.98h7.2M94.4 428.35h7.2M94.4 410.73h7.2M94.4 393.1h7.2M94.4 357.86h7.2M94.4 340.23h7.2M94.4 322.61h7.2M94.4 304.98h7.2M94.4 269.74h7.2M94.4 252.11h7.2M94.4 234.49h7.2M94.4 216.86h7.2M94.4 181.62h7.2M94.4 163.99h7.2M94.4 146.37h7.2M94.4 128.74h7.2M94.4 93.5h7.2M94.4 75.87h7.2M94.4 58.25h7.2M94.4 40.62h7.2" fill="none" stroke="#444" stroke-width="1"/>
<path d="M200.02 463.6v-11M411.26 463.6v-11M94.4 375.48h11.5M94.4 287.36h11.5M94.4 199.24h11.5M94.4 111.12h11.5" fill="none" stroke="#000" stroke-width="2.4"/>
<rect x="94.4" y="23" width="528.1" height="440.6" fill="none" stroke="#000" stroke-width="3.1"/>
<text transform="translate(200.02 493.7) scale(0.925 1)" text-anchor="middle" class="tk">1.8</text>
<text transform="translate(411.26 493.7) scale(0.925 1)" text-anchor="middle" class="tk">1.9</text>
<text transform="translate(622.5 493.7) scale(0.925 1)" text-anchor="middle" class="tk">2</text>
<text transform="translate(81 474) scale(0.925 1)" text-anchor="end" class="tk">0</text>
<text transform="translate(81 385.88) scale(0.925 1)" text-anchor="end" class="tk">0.2</text>
<text transform="translate(81 297.76) scale(0.925 1)" text-anchor="end" class="tk">0.4</text>
<text transform="translate(81 209.64) scale(0.925 1)" text-anchor="end" class="tk">0.6</text>
<text transform="translate(81 121.52) scale(0.925 1)" text-anchor="end" class="tk">0.8</text>
<text transform="translate(81 32.1) scale(0.925 1)" text-anchor="end" class="tk">1</text>
<text x="1.4" y="28.6" class="pl">(a)</text>
<text x="358.5" y="531.3" text-anchor="middle" class="ax">f (MHz)</text>
<circle cx="472.5" cy="219.1" r="2.85" fill="#0a3fa8"/><circle cx="472.5" cy="252.3" r="2.85" fill="#fb3a40"/><circle cx="472.5" cy="219.1" r="1.7" fill="#0d62b2"/><circle cx="472.5" cy="252.3" r="1.7" fill="#ff565c"/>
<text x="553.4" y="227.7" class="lg">R</text><text x="553.4" y="261.2" class="lg">T</text>
<path d="M930.83 468.9V25.7M1107.27 468.9V25.7" fill="none" stroke="#c3c3c3" stroke-width="1.9" stroke-dasharray="11.1 4.77 1.6 4.77"/>
<path d="M755.6 378.98H1283.7M755.6 290.66H1283.7M755.6 202.34H1283.7M755.6 114.02H1283.7" fill="none" stroke="#c3c3c3" stroke-width="1.9" stroke-dasharray="11 4.7 1.6 4.7"/>
<text x="968.6" y="413.5" class="an">Rp=50 k<tspan class="om" textLength="28.31" lengthAdjust="spacingAndGlyphs">Ω</tspan></text>
<text x="968.6" y="449.3" class="an">Cp=3000 pF</text>
<path d="M754.4 464.1L754.9 464.2L755.4 464.3L755.9 464.4L756.4 464.6L756.9 464.7L757.4 464.8L757.9 464.9L758.4 465.1L758.9 465.2L759.4 465.3L759.9 465.4L760.4 465.6L760.9 465.7L761.4 465.8L761.9 465.9L762.4 466.0L762.9 466.1L763.4 466.2L763.9 466.3L764.4 466.4L764.9 466.5L765.4 466.6L765.9 466.7L766.4 466.8L766.9 466.9L767.4 466.9L767.9 467.0L768.4 467.0L768.9 467.1L769.4 467.2L769.9 467.2L770.4 467.2L770.9 467.3L771.4 467.3L771.9 467.3L772.4 467.3L772.9 467.3L773.4 467.3L773.9 467.3L774.4 467.3L774.9 467.2L775.4 467.2L775.9 467.1L776.4 467.1L776.9 467.0L777.4 466.9L777.9 466.9L778.4 466.8L778.9 466.7L779.4 466.6L779.9 466.5L780.4 466.3L780.9 466.2L781.4 466.1L781.9 465.9L782.4 465.7L782.9 465.6L783.4 465.4L783.9 465.2L784.4 465.0L784.9 464.8L785.4 464.6L785.9 464.3L786.4 464.1L786.9 463.9L787.4 463.6L787.9 463.3L788.4 463.1L788.9 462.8L789.4 462.5L789.9 462.2L790.4 461.9L790.9 461.5L791.4 461.2L791.9 460.9L792.4 460.5L792.9 460.2L793.4 459.8L793.9 459.4L794.4 459.0L794.9 458.6L795.4 458.2L795.9 457.8L796.4 457.4L796.9 457.0L797.4 456.5L797.9 456.1L798.4 455.6L798.9 455.2L799.4 454.7L799.9 454.2L800.4 453.7L800.9 453.2L801.4 452.7L801.9 452.2L802.4 451.7L802.9 451.1L803.4 450.6L803.9 450.0L804.4 449.5L804.9 448.9L805.4 448.4L805.9 447.8L806.4 447.2L806.9 446.6L807.4 446.0L807.9 445.4L808.4 444.8L808.9 444.2L809.4 443.5L809.9 442.9L810.4 442.2L810.9 441.6L811.4 440.9L811.9 440.3L812.4 439.6L812.9 438.9L813.4 438.2L813.9 437.6L814.4 436.9L814.9 436.2L815.4 435.4L815.9 434.7L816.4 434.0L816.9 433.3L817.4 432.5L817.9 431.8L818.4 431.1L818.9 430.3L819.4 429.5L819.9 428.8L820.4 428.0L820.9 427.2L821.4 426.4L821.9 425.7L822.4 424.9L822.9 424.0L823.4 423.2L823.9 422.4L824.4 421.6L824.9 420.8L825.4 419.9L825.9 419.1L826.4 418.2L826.9 417.4L827.4 416.5L827.9 415.7L828.4 414.8L828.9 413.9L829.4 413.0L829.9 412.1L830.4 411.2L830.9 410.3L831.4 409.4L831.9 408.5L832.4 407.5L832.9 406.6L833.4 405.6L833.9 404.7L834.4 403.7L834.9 402.7L835.4 401.8L835.9 400.8L836.4 399.8L836.9 398.8L837.4 397.8L837.9 396.8L838.4 395.7L838.9 394.7L839.4 393.6L839.9 392.6L840.4 391.5L840.9 390.4L841.4 389.4L841.9 388.3L842.4 387.2L842.9 386.0L843.4 384.9L843.9 383.8L844.4 382.6L844.9 381.5L845.4 380.3L845.9 379.1L846.4 378.0L846.9 376.7L847.4 375.5L847.9 374.3L848.4 373.1L848.9 371.8L849.4 370.6L849.9 369.3L850.4 368.0L850.9 366.7L851.4 365.4L851.9 364.1L852.4 362.8L852.9 361.4L853.4 360.0L853.9 358.7L854.4 357.3L854.9 355.9L855.4 354.5L855.9 353.0L856.4 351.6L856.9 350.1L857.4 348.7L857.9 347.2L858.4 345.7L858.9 344.2L859.4 342.7L859.9 341.1L860.4 339.6L860.9 338.1L861.4 336.5L861.9 334.9L862.4 333.3L862.9 331.7L863.4 330.1L863.9 328.5L864.4 326.9L864.9 325.3L865.4 323.6L865.9 322.0L866.4 320.3L866.9 318.7L867.4 317.1L867.9 315.4L868.4 313.8L868.9 312.2L869.4 310.6L869.9 309.0L870.4 307.4L870.9 305.9L871.4 304.3L871.9 302.8L872.4 301.3L872.9 299.8L873.4 298.4L873.9 297.1L874.4 295.8L874.9 294.6L875.4 293.5L875.9 292.6L876.4 291.9L876.9 291.3L877.4 290.9L877.9 290.8L878.4 291.0L878.9 291.5L879.4 292.4L879.9 293.6L880.0 293.9L880.0 294.1L880.1 294.3L880.1 294.4L880.2 294.6L880.2 294.8L880.3 295.0L880.3 295.2L880.4 295.4L880.4 295.6L880.5 295.8L880.5 296.0L880.6 296.3L880.6 296.5L880.7 296.7L880.7 297.0L880.8 297.2L880.8 297.5L880.9 297.7L880.9 298.0L881.0 298.3L881.0 298.5L881.1 298.8L881.1 299.1L881.2 299.4L881.2 299.7L881.3 300.1L881.3 300.4L881.4 300.7L881.4 301.1L881.5 301.4L881.5 301.8L881.6 302.1L881.6 302.5L881.7 302.9L881.7 303.3L881.8 303.7L881.8 304.1L881.9 304.5L881.9 305.0L882.0 305.4L882.0 305.9L882.1 306.3L882.1 306.8L882.2 307.3L882.2 307.8L882.3 308.3L882.3 308.8L882.4 309.3L882.4 309.9L882.5 310.4L882.5 311.0L882.6 311.5L882.6 312.1L882.7 312.7L882.7 313.4L882.8 314.0L882.8 314.6L882.9 315.3L882.9 315.9L883.0 316.6L883.0 317.3L883.1 318.0L883.1 318.8L883.2 319.5L883.2 320.3L883.3 321.1L883.3 321.9L883.4 322.7L883.4 323.5L883.5 324.4L883.5 325.2L883.6 326.1L883.6 327.0L883.7 327.9L883.7 328.9L883.8 329.8L883.8 330.8L883.9 331.8L883.9 332.9L884.0 333.9L884.0 335.0L884.1 336.1L884.1 337.2L884.2 338.4L884.2 339.5L884.3 340.7L884.3 342.0L884.4 343.2L884.4 344.5L884.5 345.8L884.5 347.1L884.6 348.5L884.6 349.9L884.7 351.3L884.7 352.8L884.8 354.2L884.8 355.8L884.9 357.3L884.9 358.9L885.0 360.5L885.0 362.2L885.1 363.8L885.1 365.6L885.2 367.3L885.2 369.1L885.3 370.9L885.3 372.8L885.4 374.7L885.4 376.6L885.5 378.6L885.5 380.6L885.6 382.7L885.6 384.8L885.7 386.9L885.7 389.1L885.8 391.3L885.8 393.5L885.9 395.8L885.9 398.2L886.0 400.5L886.0 402.9L886.1 405.3L886.1 407.8L886.2 410.3L886.2 412.8L886.3 415.4L886.3 418.0L886.4 420.6L886.4 423.2L886.5 425.8L886.5 428.4L886.6 431.1L886.6 433.7L886.7 436.3L886.7 438.9L886.8 441.5L886.8 444.0L886.9 446.5L886.9 448.9L887.0 451.3L887.0 453.6L887.1 455.7L887.1 457.8L887.2 459.7L887.2 461.4L887.3 463.0L887.3 464.4L887.4 465.5L887.4 466.4L887.5 467.0L887.5 467.3L887.6 467.2L887.6 466.8L887.7 465.9L887.7 464.6L887.8 462.9L887.8 460.6L887.9 457.8L887.9 454.4L888.0 450.4L888.0 445.8L888.1 440.5L888.1 434.6L888.2 428.0L888.2 420.7L888.3 412.8L888.3 404.2L888.4 395.0L888.4 385.1L888.5 374.7L888.5 363.8L888.6 352.3L888.6 340.5L888.7 328.2L888.7 315.7L888.8 302.9L888.8 290.0L888.9 277.0L888.9 264.0L889.0 251.1L889.0 238.3L889.1 225.7L889.1 213.3L889.2 201.2L889.2 189.5L889.3 178.2L889.3 167.3L889.4 156.8L889.4 146.8L889.5 137.3L889.5 128.3L889.6 119.7L889.6 111.7L889.7 104.1L889.7 97.0L889.8 90.4L889.8 84.3L889.9 78.5L889.9 73.2L890.0 68.3L890.0 63.7L890.1 59.6L890.1 55.7L890.2 52.2L890.2 49.0L890.3 46.1L890.3 43.5L890.4 41.1L890.4 38.9L890.5 37.0L890.5 35.3L890.6 33.7L890.6 32.3L890.7 31.1L890.7 30.1L890.8 29.2L890.8 28.4L890.9 27.7L890.9 27.2L891.0 26.7L891.0 26.4L891.1 26.1L891.1 25.9L891.2 25.8L891.2 25.7L891.3 25.7L891.3 25.8L891.4 25.9L891.4 26.0L891.5 26.2L891.5 26.5L891.6 26.7L891.6 27.0L891.7 27.4L891.7 27.7L891.8 28.1L891.8 28.5L891.9 28.9L891.9 29.3L892.0 29.8L892.0 30.2L892.1 30.7L892.1 31.2L892.2 31.7L892.2 32.1L892.3 32.6L892.3 33.1L892.4 33.6L892.4 34.2L892.5 34.7L892.5 35.2L892.6 35.7L892.6 36.2L892.7 36.7L892.7 37.2L892.8 37.7L892.8 38.2L892.9 38.7L892.9 39.2L893.0 39.7L893.0 40.2L893.1 40.7L893.1 41.2L893.2 41.6L893.2 42.1L893.3 42.6L893.3 43.0L893.4 43.5L893.4 43.9L893.5 44.4L893.5 44.8L893.6 45.3L893.6 45.7L893.7 46.1L893.7 46.5L893.8 46.9L893.8 47.3L893.9 47.7L893.9 48.1L894.0 48.5L894.0 48.9L894.1 49.3L894.1 49.7L894.2 50.0L894.2 50.4L894.3 50.7L894.3 51.1L894.4 51.4L894.4 51.8L894.5 52.1L894.5 52.4L894.6 52.7L894.6 53.0L894.7 53.3L894.7 53.6L894.8 53.9L894.8 54.2L894.9 54.5L894.9 54.8L895.0 55.1L895.0 55.4L895.1 55.6L895.1 55.9L895.2 56.1L895.2 56.4L895.3 56.6L895.3 56.9L895.4 57.1L895.4 57.3L895.5 57.6L895.5 57.8L895.6 58.0L895.6 58.2L895.7 58.4L895.7 58.6L895.8 58.8L895.8 59.0L895.9 59.2L895.9 59.4L896.0 59.6L896.0 59.8L896.1 59.9L896.1 60.1L896.2 60.3L896.2 60.4L896.3 60.6L896.3 60.8L896.4 60.9L896.4 61.1L896.5 61.2L896.5 61.3L896.6 61.5L896.6 61.6L896.7 61.7L896.7 61.9L896.8 62.0L896.8 62.1L896.9 62.2L896.9 62.4L897.0 62.5L897.0 62.6L897.1 62.7L897.1 62.8L897.2 62.9L897.2 63.0L897.3 63.1L897.3 63.2L897.4 63.2L897.4 63.3L897.5 63.4L897.5 63.5L897.6 63.6L897.6 63.6L897.7 63.7L897.7 63.8L897.8 63.8L897.8 63.9L897.9 64.0L897.9 64.0L898.0 64.1L898.0 64.1L898.1 64.2L898.1 64.2L898.2 64.3L898.2 64.3L898.3 64.4L898.3 64.4L898.4 64.4L898.4 64.5L898.5 64.5L898.5 64.5L898.6 64.6L898.6 64.6L898.7 64.6L898.7 64.6L898.8 64.7L898.8 64.7L898.9 64.7L898.9 64.7L899.0 64.7L899.0 64.7L899.1 64.7L899.1 64.7L899.2 64.8L899.2 64.8L899.3 64.8L899.3 64.8L899.4 64.8L899.4 64.8L899.5 64.8L899.5 64.7L899.6 64.7L899.6 64.7L899.7 64.7L899.7 64.7L899.8 64.7L899.8 64.7L899.9 64.7L899.9 64.6L900.0 64.6L900.5 64.3L901.0 63.9L901.5 63.4L902.0 62.8L902.5 62.1L903.0 61.3L903.5 60.5L904.0 59.6L904.5 58.7L905.0 57.7L905.5 56.7L906.0 55.7L906.5 54.6L907.0 53.6L907.5 52.5L908.0 51.4L908.5 50.3L909.0 49.2L909.5 48.2L910.0 47.1L910.5 46.0L911.0 45.0L911.5 43.9L912.0 42.9L912.5 41.9L913.0 40.9L913.5 40.0L914.0 39.0L914.5 38.1L915.0 37.2L915.5 36.4L916.0 35.5L916.5 34.8L917.0 34.0L917.5 33.3L918.0 32.6L918.5 31.9L919.0 31.3L919.5 30.7L920.0 30.1L920.5 29.6L921.0 29.1L921.5 28.6L922.0 28.2L922.5 27.8L923.0 27.4L923.5 27.1L924.0 26.8L924.5 26.5L925.0 26.3L925.5 26.1L926.0 26.0L926.5 25.9L927.0 25.8L927.5 25.7L928.0 25.7L928.5 25.7L929.0 25.8L929.5 25.9L930.0 26.0L930.5 26.1L931.0 26.3L931.5 26.5L932.0 26.8L932.5 27.1L933.0 27.4L933.5 27.7L934.0 28.1L934.5 28.5L935.0 28.9L935.5 29.4L936.0 29.9L936.5 30.5L937.0 31.0L937.5 31.6L938.0 32.2L938.5 32.9L939.0 33.6L939.5 34.3L940.0 35.0L940.5 35.8L941.0 36.5L941.5 37.4L942.0 38.2L942.5 39.1L943.0 39.9L943.5 40.9L944.0 41.8L944.5 42.8L945.0 43.7L945.5 44.7L946.0 45.8L946.5 46.8L947.0 47.9L947.5 49.0L948.0 50.1L948.5 51.2L949.0 52.4L949.5 53.6L950.0 54.7L950.5 56.0L951.0 57.2L951.5 58.4L952.0 59.7L952.5 61.0L953.0 62.2L953.5 63.5L954.0 64.9L954.5 66.2L955.0 67.5L955.5 68.9L956.0 70.3L956.5 71.7L957.0 73.1L957.5 74.5L958.0 75.9L958.5 77.3L959.0 78.8L959.5 80.2L960.0 81.7L960.5 83.1L961.0 84.6L961.5 86.1L962.0 87.6L962.5 89.1L963.0 90.6L963.5 92.1L964.0 93.6L964.5 95.1L965.0 96.7L965.5 98.2L966.0 99.7L966.5 101.3L967.0 102.8L967.5 104.4L968.0 105.9L968.5 107.5L969.0 109.0L969.5 110.6L970.0 112.1L970.5 113.7L971.0 115.3L971.5 116.8L972.0 118.4L972.5 120.0L973.0 121.5L973.5 123.1L974.0 124.7L974.5 126.2L975.0 127.8L975.5 129.4L976.0 130.9L976.5 132.5L977.0 134.0L977.5 135.6L978.0 137.2L978.5 138.7L979.0 140.3L979.5 141.8L980.0 143.3L980.5 144.9L981.0 146.4L981.5 148.0L982.0 149.5L982.5 151.0L983.0 152.5L983.5 154.0L984.0 155.6L984.5 157.1L985.0 158.6L985.5 160.1L986.0 161.6L986.5 163.1L987.0 164.5L987.5 166.0L988.0 167.5L988.5 169.0L989.0 170.4L989.5 171.9L990.0 173.3L990.5 174.8L991.0 176.2L991.5 177.7L992.0 179.1L992.5 180.5L993.0 181.9L993.5 183.3L994.0 184.7L994.5 186.1L995.0 187.5L995.5 188.9L996.0 190.3L996.5 191.7L997.0 193.0L997.5 194.4L998.0 195.7L998.5 197.1L999.0 198.4L999.5 199.8L1000.0 201.1L1000.5 202.4L1001.0 203.7L1001.5 205.0L1002.0 206.3L1002.5 207.6L1003.0 208.9L1003.5 210.2L1004.0 211.4L1004.5 212.7L1005.0 213.9L1005.5 215.2L1006.0 216.4L1006.5 217.7L1007.0 218.9L1007.5 220.1L1008.0 221.3L1008.5 222.5L1009.0 223.7L1009.5 224.9L1010.0 226.1L1010.5 227.3L1011.0 228.5L1011.5 229.6L1012.0 230.8L1012.5 231.9L1013.0 233.1L1013.5 234.2L1014.0 235.3L1014.5 236.4L1015.0 237.6L1015.5 238.7L1016.0 239.8L1016.5 240.9L1017.0 242.0L1017.5 243.0L1018.0 244.1L1018.5 245.2L1019.0 246.2L1019.5 247.3L1020.0 248.3L1020.5 249.4L1021.0 250.4L1021.5 251.4L1022.0 252.5L1022.5 253.5L1023.0 254.5L1023.5 255.5L1024.0 256.5L1024.5 257.5L1025.0 258.4L1025.5 259.4L1026.0 260.4L1026.5 261.4L1027.0 262.3L1027.5 263.3L1028.0 264.2L1028.5 265.1L1029.0 266.1L1029.5 267.0L1030.0 267.9L1030.5 268.8L1031.0 269.7L1031.5 270.6L1032.0 271.5L1032.5 272.4L1033.0 273.3L1033.5 274.2L1034.0 275.1L1034.5 275.9L1035.0 276.8L1035.5 277.7L1036.0 278.5L1036.5 279.3L1037.0 280.2L1037.5 281.0L1038.0 281.8L1038.5 282.7L1039.0 283.5L1039.5 284.3L1040.0 285.1L1040.5 285.9L1041.0 286.7L1041.5 287.5L1042.0 288.3L1042.5 289.1L1043.0 289.8L1043.5 290.6L1044.0 291.4L1044.5 292.1L1045.0 292.9L1045.5 293.6L1046.0 294.4L1046.5 295.1L1047.0 295.8L1047.5 296.6L1048.0 297.3L1048.5 298.0L1049.0 298.7L1049.5 299.5L1050.0 300.2L1050.5 300.9L1051.0 301.6L1051.5 302.2L1052.0 302.9L1052.5 303.6L1053.0 304.3L1053.5 305.0L1054.0 305.6L1054.5 306.3L1055.0 307.0L1055.5 307.6L1056.0 308.3L1056.5 308.9L1057.0 309.6L1057.5 310.2L1058.0 310.9L1058.5 311.5L1059.0 312.1L1059.5 312.7L1060.0 313.4L1060.5 314.0L1061.0 314.6L1061.5 315.2L1062.0 315.8L1062.5 316.4L1063.0 317.0L1063.5 317.6L1064.0 318.2L1064.5 318.8L1065.0 319.3L1065.5 319.9L1066.0 320.5L1066.5 321.1L1067.0 321.6L1067.5 322.2L1068.0 322.8L1068.5 323.3L1069.0 323.9L1069.5 324.4L1070.0 325.0L1070.5 325.5L1071.0 326.0L1071.5 326.6L1072.0 327.1L1072.5 327.6L1073.0 328.2L1073.5 328.7L1074.0 329.2L1074.5 329.7L1075.0 330.2L1075.5 330.8L1076.0 331.3L1076.5 331.8L1077.0 332.3L1077.5 332.8L1078.0 333.3L1078.5 333.7L1079.0 334.2L1079.5 334.7L1080.0 335.2L1080.5 335.7L1081.0 336.2L1081.5 336.6L1082.0 337.1L1082.5 337.6L1083.0 338.0L1083.5 338.5L1084.0 339.0L1084.5 339.4L1085.0 339.9L1085.5 340.3L1086.0 340.8L1086.5 341.2L1087.0 341.7L1087.5 342.1L1088.0 342.5L1088.5 343.0L1089.0 343.4L1089.5 343.8L1090.0 344.3L1090.5 344.7L1091.0 345.1L1091.5 345.5L1092.0 346.0L1092.5 346.4L1093.0 346.8L1093.5 347.2L1094.0 347.6L1094.5 348.0L1095.0 348.4L1095.5 348.8L1096.0 349.2L1096.5 349.6L1097.0 350.0L1097.5 350.4L1098.0 350.8L1098.5 351.2L1099.0 351.6L1099.5 351.9L1100.0 352.3L1100.5 352.7L1101.0 353.1L1101.5 353.5L1102.0 353.8L1102.5 354.2L1103.0 354.6L1103.5 354.9L1104.0 355.3L1104.5 355.7L1105.0 356.0L1105.5 356.4L1106.0 356.7L1106.5 357.1L1107.0 357.5L1107.5 357.8L1108.0 358.2L1108.5 358.5L1109.0 358.8L1109.5 359.2L1110.0 359.5L1110.5 359.9L1111.0 360.2L1111.5 360.5L1112.0 360.9L1112.5 361.2L1113.0 361.5L1113.5 361.9L1114.0 362.2L1114.5 362.5L1115.0 362.9L1115.5 363.2L1116.0 363.5L1116.5 363.8L1117.0 364.1L1117.5 364.4L1118.0 364.8L1118.5 365.1L1119.0 365.4L1119.5 365.7L1120.0 366.0L1120.5 366.3L1121.0 366.6L1121.5 366.9L1122.0 367.2L1122.5 367.5L1123.0 367.8L1123.5 368.1L1124.0 368.4L1124.5 368.7L1125.0 369.0L1125.5 369.3L1126.0 369.6L1126.5 369.9L1127.0 370.2L1127.5 370.4L1128.0 370.7L1128.5 371.0L1129.0 371.3L1129.5 371.6L1130.0 371.9L1130.5 372.1L1131.0 372.4L1131.5 372.7L1132.0 373.0L1132.5 373.2L1133.0 373.5L1133.5 373.8L1134.0 374.0L1134.5 374.3L1135.0 374.6L1135.5 374.8L1136.0 375.1L1136.5 375.4L1137.0 375.6L1137.5 375.9L1138.0 376.1L1138.5 376.4L1139.0 376.7L1139.5 376.9L1140.0 377.2L1140.5 377.4L1141.0 377.7L1141.5 377.9L1142.0 378.2L1142.5 378.4L1143.0 378.7L1143.5 378.9L1144.0 379.2L1144.5 379.4L1145.0 379.6L1145.5 379.9L1146.0 380.1L1146.5 380.4L1147.0 380.6L1147.5 380.8L1148.0 381.1L1148.5 381.3L1149.0 381.5L1149.5 381.8L1150.0 382.0L1150.5 382.2L1151.0 382.5L1151.5 382.7L1152.0 382.9L1152.5 383.2L1153.0 383.4L1153.5 383.6L1154.0 383.8L1154.5 384.1L1155.0 384.3L1155.5 384.5L1156.0 384.7L1156.5 384.9L1157.0 385.2L1157.5 385.4L1158.0 385.6L1158.5 385.8L1159.0 386.0L1159.5 386.3L1160.0 386.5L1160.5 386.7L1161.0 386.9L1161.5 387.1L1162.0 387.3L1162.5 387.5L1163.0 387.7L1163.5 387.9L1164.0 388.1L1164.5 388.4L1165.0 388.6L1165.5 388.8L1166.0 389.0L1166.5 389.2L1167.0 389.4L1167.5 389.6L1168.0 389.8L1168.5 390.0L1169.0 390.2L1169.5 390.4L1170.0 390.6L1170.5 390.8L1171.0 391.0L1171.5 391.2L1172.0 391.4L1172.5 391.6L1173.0 391.8L1173.5 391.9L1174.0 392.1L1174.5 392.3L1175.0 392.5L1175.5 392.7L1176.0 392.9L1176.5 393.1L1177.0 393.3L1177.5 393.5L1178.0 393.7L1178.5 393.8L1179.0 394.0L1179.5 394.2L1180.0 394.4L1180.5 394.6L1181.0 394.8L1181.5 395.0L1182.0 395.1L1182.5 395.3L1183.0 395.5L1183.5 395.7L1184.0 395.9L1184.5 396.0L1185.0 396.2L1185.5 396.4L1186.0 396.6L1186.5 396.7L1187.0 396.9L1187.5 397.1L1188.0 397.3L1188.5 397.5L1189.0 397.6L1189.5 397.8L1190.0 398.0L1190.5 398.1L1191.0 398.3L1191.5 398.5L1192.0 398.7L1192.5 398.8L1193.0 399.0L1193.5 399.2L1194.0 399.3L1194.5 399.5L1195.0 399.7L1195.5 399.8L1196.0 400.0L1196.5 400.2L1197.0 400.3L1197.5 400.5L1198.0 400.7L1198.5 400.8L1199.0 401.0L1199.5 401.2L1200.0 401.3L1200.5 401.5L1201.0 401.7L1201.5 401.8L1202.0 402.0L1202.5 402.1L1203.0 402.3L1203.5 402.5L1204.0 402.6L1204.5 402.8L1205.0 402.9L1205.5 403.1L1206.0 403.2L1206.5 403.4L1207.0 403.6L1207.5 403.7L1208.0 403.9L1208.5 404.0L1209.0 404.2L1209.5 404.3L1210.0 404.5L1210.5 404.6L1211.0 404.8L1211.5 405.0L1212.0 405.1L1212.5 405.3L1213.0 405.4L1213.5 405.6L1214.0 405.7L1214.5 405.9L1215.0 406.0L1215.5 406.2L1216.0 406.3L1216.5 406.5L1217.0 406.6L1217.5 406.8L1218.0 406.9L1218.5 407.1L1219.0 407.2L1219.5 407.4L1220.0 407.5L1220.5 407.6L1221.0 407.8L1221.5 407.9L1222.0 408.1L1222.5 408.2L1223.0 408.4L1223.5 408.5L1224.0 408.7L1224.5 408.8L1225.0 409.0L1225.5 409.1L1226.0 409.2L1226.5 409.4L1227.0 409.5L1227.5 409.7L1228.0 409.8L1228.5 409.9L1229.0 410.1L1229.5 410.2L1230.0 410.4L1230.5 410.5L1231.0 410.6L1231.5 410.8L1232.0 410.9L1232.5 411.1L1233.0 411.2L1233.5 411.3L1234.0 411.5L1234.5 411.6L1235.0 411.8L1235.5 411.9L1236.0 412.0L1236.5 412.2L1237.0 412.3L1237.5 412.4L1238.0 412.6L1238.5 412.7L1239.0 412.8L1239.5 413.0L1240.0 413.1L1240.5 413.2L1241.0 413.4L1241.5 413.5L1242.0 413.6L1242.5 413.8L1243.0 413.9L1243.5 414.0L1244.0 414.2L1244.5 414.3L1245.0 414.4L1245.5 414.6L1246.0 414.7L1246.5 414.8L1247.0 415.0L1247.5 415.1L1248.0 415.2L1248.5 415.4L1249.0 415.5L1249.5 415.6L1250.0 415.8L1250.5 415.9L1251.0 416.0L1251.5 416.1L1252.0 416.3L1252.5 416.4L1253.0 416.5L1253.5 416.7L1254.0 416.8L1254.5 416.9L1255.0 417.0L1255.5 417.2L1256.0 417.3L1256.5 417.4L1257.0 417.5L1257.5 417.7L1258.0 417.8L1258.5 417.9L1259.0 418.0L1259.5 418.2L1260.0 418.3L1260.5 418.4L1261.0 418.5L1261.5 418.7L1262.0 418.8L1262.5 418.9L1263.0 419.0L1263.5 419.2L1264.0 419.3L1264.5 419.4L1265.0 419.5L1265.5 419.7L1266.0 419.8L1266.5 419.9L1267.0 420.0L1267.5 420.1L1268.0 420.3L1268.5 420.4L1269.0 420.5L1269.5 420.6L1270.0 420.8L1270.5 420.9L1271.0 421.0L1271.5 421.1L1272.0 421.2L1272.5 421.4L1273.0 421.5L1273.5 421.6L1274.0 421.7L1274.5 421.8L1275.0 422.0L1275.5 422.1L1276.0 422.2L1276.5 422.3L1277.0 422.4L1277.5 422.5L1278.0 422.7L1278.5 422.8L1279.0 422.9L1279.5 423.0L1280.0 423.1L1280.5 423.3L1281.0 423.4L1281.5 423.5L1282.0 423.6L1282.5 423.7L1283.0 423.8L1283.5 424.0" fill="none" stroke="#ff2424" stroke-width="2.1" stroke-linejoin="round"/>
<path d="M754.4 28.9L754.9 28.8L755.4 28.7L755.9 28.6L756.4 28.4L756.9 28.3L757.4 28.2L757.9 28.1L758.4 27.9L758.9 27.8L759.4 27.7L759.9 27.6L760.4 27.4L760.9 27.3L761.4 27.2L761.9 27.1L762.4 27.0L762.9 26.9L763.4 26.8L763.9 26.7L764.4 26.6L764.9 26.5L765.4 26.4L765.9 26.3L766.4 26.2L766.9 26.1L767.4 26.1L767.9 26.0L768.4 26.0L768.9 25.9L769.4 25.8L769.9 25.8L770.4 25.8L770.9 25.7L771.4 25.7L771.9 25.7L772.4 25.7L772.9 25.7L773.4 25.7L773.9 25.7L774.4 25.7L774.9 25.8L775.4 25.8L775.9 25.9L776.4 25.9L776.9 26.0L777.4 26.1L777.9 26.1L778.4 26.2L778.9 26.3L779.4 26.4L779.9 26.5L780.4 26.7L780.9 26.8L781.4 26.9L781.9 27.1L782.4 27.3L782.9 27.4L783.4 27.6L783.9 27.8L784.4 28.0L784.9 28.2L785.4 28.4L785.9 28.7L786.4 28.9L786.9 29.1L787.4 29.4L787.9 29.7L788.4 29.9L788.9 30.2L789.4 30.5L789.9 30.8L790.4 31.1L790.9 31.5L791.4 31.8L791.9 32.1L792.4 32.5L792.9 32.8L793.4 33.2L793.9 33.6L794.4 34.0L794.9 34.4L795.4 34.8L795.9 35.2L796.4 35.6L796.9 36.0L797.4 36.5L797.9 36.9L798.4 37.4L798.9 37.8L799.4 38.3L799.9 38.8L800.4 39.3L800.9 39.8L801.4 40.3L801.9 40.8L802.4 41.3L802.9 41.9L803.4 42.4L803.9 43.0L804.4 43.5L804.9 44.1L805.4 44.6L805.9 45.2L806.4 45.8L806.9 46.4L807.4 47.0L807.9 47.6L808.4 48.2L808.9 48.8L809.4 49.5L809.9 50.1L810.4 50.8L810.9 51.4L811.4 52.1L811.9 52.7L812.4 53.4L812.9 54.1L813.4 54.8L813.9 55.4L814.4 56.1L814.9 56.8L815.4 57.6L815.9 58.3L816.4 59.0L816.9 59.7L817.4 60.5L817.9 61.2L818.4 61.9L818.9 62.7L819.4 63.5L819.9 64.2L820.4 65.0L820.9 65.8L821.4 66.6L821.9 67.3L822.4 68.1L822.9 69.0L823.4 69.8L823.9 70.6L824.4 71.4L824.9 72.2L825.4 73.1L825.9 73.9L826.4 74.8L826.9 75.6L827.4 76.5L827.9 77.3L828.4 78.2L828.9 79.1L829.4 80.0L829.9 80.9L830.4 81.8L830.9 82.7L831.4 83.6L831.9 84.5L832.4 85.5L832.9 86.4L833.4 87.4L833.9 88.3L834.4 89.3L834.9 90.3L835.4 91.2L835.9 92.2L836.4 93.2L836.9 94.2L837.4 95.2L837.9 96.2L838.4 97.3L838.9 98.3L839.4 99.4L839.9 100.4L840.4 101.5L840.9 102.6L841.4 103.6L841.9 104.7L842.4 105.8L842.9 107.0L843.4 108.1L843.9 109.2L844.4 110.4L844.9 111.5L845.4 112.7L845.9 113.9L846.4 115.0L846.9 116.3L847.4 117.5L847.9 118.7L848.4 119.9L848.9 121.2L849.4 122.4L849.9 123.7L850.4 125.0L850.9 126.3L851.4 127.6L851.9 128.9L852.4 130.2L852.9 131.6L853.4 133.0L853.9 134.3L854.4 135.7L854.9 137.1L855.4 138.5L855.9 140.0L856.4 141.4L856.9 142.9L857.4 144.3L857.9 145.8L858.4 147.3L858.9 148.8L859.4 150.3L859.9 151.9L860.4 153.4L860.9 154.9L861.4 156.5L861.9 158.1L862.4 159.7L862.9 161.3L863.4 162.9L863.9 164.5L864.4 166.1L864.9 167.7L865.4 169.4L865.9 171.0L866.4 172.7L866.9 174.3L867.4 175.9L867.9 177.6L868.4 179.2L868.9 180.8L869.4 182.4L869.9 184.0L870.4 185.6L870.9 187.1L871.4 188.7L871.9 190.2L872.4 191.7L872.9 193.2L873.4 194.6L873.9 195.9L874.4 197.2L874.9 198.4L875.4 199.5L875.9 200.4L876.4 201.1L876.9 201.7L877.4 202.1L877.9 202.2L878.4 202.0L878.9 201.5L879.4 200.6L879.9 199.4L880.0 199.1L880.0 198.9L880.1 198.7L880.1 198.6L880.2 198.4L880.2 198.2L880.3 198.0L880.3 197.8L880.4 197.6L880.4 197.4L880.5 197.2L880.5 197.0L880.6 196.7L880.6 196.5L880.7 196.3L880.7 196.0L880.8 195.8L880.8 195.5L880.9 195.3L880.9 195.0L881.0 194.7L881.0 194.5L881.1 194.2L881.1 193.9L881.2 193.6L881.2 193.3L881.3 192.9L881.3 192.6L881.4 192.3L881.4 191.9L881.5 191.6L881.5 191.2L881.6 190.9L881.6 190.5L881.7 190.1L881.7 189.7L881.8 189.3L881.8 188.9L881.9 188.5L881.9 188.0L882.0 187.6L882.0 187.1L882.1 186.7L882.1 186.2L882.2 185.7L882.2 185.2L882.3 184.7L882.3 184.2L882.4 183.7L882.4 183.1L882.5 182.6L882.5 182.0L882.6 181.5L882.6 180.9L882.7 180.3L882.7 179.6L882.8 179.0L882.8 178.4L882.9 177.7L882.9 177.1L883.0 176.4L883.0 175.7L883.1 175.0L883.1 174.2L883.2 173.5L883.2 172.7L883.3 171.9L883.3 171.1L883.4 170.3L883.4 169.5L883.5 168.6L883.5 167.8L883.6 166.9L883.6 166.0L883.7 165.1L883.7 164.1L883.8 163.2L883.8 162.2L883.9 161.2L883.9 160.1L884.0 159.1L884.0 158.0L884.1 156.9L884.1 155.8L884.2 154.6L884.2 153.5L884.3 152.3L884.3 151.0L884.4 149.8L884.4 148.5L884.5 147.2L884.5 145.9L884.6 144.5L884.6 143.1L884.7 141.7L884.7 140.2L884.8 138.8L884.8 137.2L884.9 135.7L884.9 134.1L885.0 132.5L885.0 130.8L885.1 129.2L885.1 127.4L885.2 125.7L885.2 123.9L885.3 122.1L885.3 120.2L885.4 118.3L885.4 116.4L885.5 114.4L885.5 112.4L885.6 110.3L885.6 108.2L885.7 106.1L885.7 103.9L885.8 101.7L885.8 99.5L885.9 97.2L885.9 94.8L886.0 92.5L886.0 90.1L886.1 87.7L886.1 85.2L886.2 82.7L886.2 80.2L886.3 77.6L886.3 75.0L886.4 72.4L886.4 69.8L886.5 67.2L886.5 64.6L886.6 61.9L886.6 59.3L886.7 56.7L886.7 54.1L886.8 51.5L886.8 49.0L886.9 46.5L886.9 44.1L887.0 41.7L887.0 39.4L887.1 37.3L887.1 35.2L887.2 33.3L887.2 31.6L887.3 30.0L887.3 28.6L887.4 27.5L887.4 26.6L887.5 26.0L887.5 25.7L887.6 25.8L887.6 26.2L887.7 27.1L887.7 28.4L887.8 30.1L887.8 32.4L887.9 35.2L887.9 38.6L888.0 42.6L888.0 47.2L888.1 52.5L888.1 58.4L888.2 65.0L888.2 72.3L888.3 80.2L888.3 88.8L888.4 98.0L888.4 107.9L888.5 118.3L888.5 129.2L888.6 140.7L888.6 152.5L888.7 164.8L888.7 177.3L888.8 190.1L888.8 203.0L888.9 216.0L888.9 229.0L889.0 241.9L889.0 254.7L889.1 267.3L889.1 279.7L889.2 291.8L889.2 303.5L889.3 314.8L889.3 325.7L889.4 336.2L889.4 346.2L889.5 355.7L889.5 364.7L889.6 373.3L889.6 381.3L889.7 388.9L889.7 396.0L889.8 402.6L889.8 408.7L889.9 414.5L889.9 419.8L890.0 424.7L890.0 429.3L890.1 433.4L890.1 437.3L890.2 440.8L890.2 444.0L890.3 446.9L890.3 449.5L890.4 451.9L890.4 454.1L890.5 456.0L890.5 457.7L890.6 459.3L890.6 460.7L890.7 461.9L890.7 462.9L890.8 463.8L890.8 464.6L890.9 465.3L890.9 465.8L891.0 466.3L891.0 466.6L891.1 466.9L891.1 467.1L891.2 467.2L891.2 467.3L891.3 467.3L891.3 467.2L891.4 467.1L891.4 467.0L891.5 466.8L891.5 466.5L891.6 466.3L891.6 466.0L891.7 465.6L891.7 465.3L891.8 464.9L891.8 464.5L891.9 464.1L891.9 463.7L892.0 463.2L892.0 462.8L892.1 462.3L892.1 461.8L892.2 461.3L892.2 460.9L892.3 460.4L892.3 459.9L892.4 459.4L892.4 458.8L892.5 458.3L892.5 457.8L892.6 457.3L892.6 456.8L892.7 456.3L892.7 455.8L892.8 455.3L892.8 454.8L892.9 454.3L892.9 453.8L893.0 453.3L893.0 452.8L893.1 452.3L893.1 451.8L893.2 451.4L893.2 450.9L893.3 450.4L893.3 450.0L893.4 449.5L893.4 449.1L893.5 448.6L893.5 448.2L893.6 447.7L893.6 447.3L893.7 446.9L893.7 446.5L893.8 446.1L893.8 445.7L893.9 445.3L893.9 444.9L894.0 444.5L894.0 444.1L894.1 443.7L894.1 443.3L894.2 443.0L894.2 442.6L894.3 442.3L894.3 441.9L894.4 441.6L894.4 441.2L894.5 440.9L894.5 440.6L894.6 440.3L894.6 440.0L894.7 439.7L894.7 439.4L894.8 439.1L894.8 438.8L894.9 438.5L894.9 438.2L895.0 437.9L895.0 437.6L895.1 437.4L895.1 437.1L895.2 436.9L895.2 436.6L895.3 436.4L895.3 436.1L895.4 435.9L895.4 435.7L895.5 435.4L895.5 435.2L895.6 435.0L895.6 434.8L895.7 434.6L895.7 434.4L895.8 434.2L895.8 434.0L895.9 433.8L895.9 433.6L896.0 433.4L896.0 433.2L896.1 433.1L896.1 432.9L896.2 432.7L896.2 432.6L896.3 432.4L896.3 432.2L896.4 432.1L896.4 431.9L896.5 431.8L896.5 431.7L896.6 431.5L896.6 431.4L896.7 431.3L896.7 431.1L896.8 431.0L896.8 430.9L896.9 430.8L896.9 430.6L897.0 430.5L897.0 430.4L897.1 430.3L897.1 430.2L897.2 430.1L897.2 430.0L897.3 429.9L897.3 429.8L897.4 429.8L897.4 429.7L897.5 429.6L897.5 429.5L897.6 429.4L897.6 429.4L897.7 429.3L897.7 429.2L897.8 429.2L897.8 429.1L897.9 429.0L897.9 429.0L898.0 428.9L898.0 428.9L898.1 428.8L898.1 428.8L898.2 428.7L898.2 428.7L898.3 428.6L898.3 428.6L898.4 428.6L898.4 428.5L898.5 428.5L898.5 428.5L898.6 428.4L898.6 428.4L898.7 428.4L898.7 428.4L898.8 428.3L898.8 428.3L898.9 428.3L898.9 428.3L899.0 428.3L899.0 428.3L899.1 428.3L899.1 428.3L899.2 428.2L899.2 428.2L899.3 428.2L899.3 428.2L899.4 428.2L899.4 428.2L899.5 428.2L899.5 428.3L899.6 428.3L899.6 428.3L899.7 428.3L899.7 428.3L899.8 428.3L899.8 428.3L899.9 428.3L899.9 428.4L900.0 428.4L900.5 428.7L901.0 429.1L901.5 429.6L902.0 430.2L902.5 430.9L903.0 431.7L903.5 432.5L904.0 433.4L904.5 434.3L905.0 435.3L905.5 436.3L906.0 437.3L906.5 438.4L907.0 439.4L907.5 440.5L908.0 441.6L908.5 442.7L909.0 443.8L909.5 444.8L910.0 445.9L910.5 447.0L911.0 448.0L911.5 449.1L912.0 450.1L912.5 451.1L913.0 452.1L913.5 453.0L914.0 454.0L914.5 454.9L915.0 455.8L915.5 456.6L916.0 457.5L916.5 458.2L917.0 459.0L917.5 459.7L918.0 460.4L918.5 461.1L919.0 461.7L919.5 462.3L920.0 462.9L920.5 463.4L921.0 463.9L921.5 464.4L922.0 464.8L922.5 465.2L923.0 465.6L923.5 465.9L924.0 466.2L924.5 466.5L925.0 466.7L925.5 466.9L926.0 467.0L926.5 467.1L927.0 467.2L927.5 467.3L928.0 467.3L928.5 467.3L929.0 467.2L929.5 467.1L930.0 467.0L930.5 466.9L931.0 466.7L931.5 466.5L932.0 466.2L932.5 465.9L933.0 465.6L933.5 465.3L934.0 464.9L934.5 464.5L935.0 464.1L935.5 463.6L936.0 463.1L936.5 462.5L937.0 462.0L937.5 461.4L938.0 460.8L938.5 460.1L939.0 459.4L939.5 458.7L940.0 458.0L940.5 457.2L941.0 456.5L941.5 455.6L942.0 454.8L942.5 453.9L943.0 453.1L943.5 452.1L944.0 451.2L944.5 450.2L945.0 449.3L945.5 448.3L946.0 447.2L946.5 446.2L947.0 445.1L947.5 444.0L948.0 442.9L948.5 441.8L949.0 440.6L949.5 439.4L950.0 438.3L950.5 437.0L951.0 435.8L951.5 434.6L952.0 433.3L952.5 432.0L953.0 430.8L953.5 429.5L954.0 428.1L954.5 426.8L955.0 425.5L955.5 424.1L956.0 422.7L956.5 421.3L957.0 419.9L957.5 418.5L958.0 417.1L958.5 415.7L959.0 414.2L959.5 412.8L960.0 411.3L960.5 409.9L961.0 408.4L961.5 406.9L962.0 405.4L962.5 403.9L963.0 402.4L963.5 400.9L964.0 399.4L964.5 397.9L965.0 396.3L965.5 394.8L966.0 393.3L966.5 391.7L967.0 390.2L967.5 388.6L968.0 387.1L968.5 385.5L969.0 384.0L969.5 382.4L970.0 380.9L970.5 379.3L971.0 377.7L971.5 376.2L972.0 374.6L972.5 373.0L973.0 371.5L973.5 369.9L974.0 368.3L974.5 366.8L975.0 365.2L975.5 363.6L976.0 362.1L976.5 360.5L977.0 359.0L977.5 357.4L978.0 355.8L978.5 354.3L979.0 352.7L979.5 351.2L980.0 349.7L980.5 348.1L981.0 346.6L981.5 345.0L982.0 343.5L982.5 342.0L983.0 340.5L983.5 339.0L984.0 337.4L984.5 335.9L985.0 334.4L985.5 332.9L986.0 331.4L986.5 329.9L987.0 328.5L987.5 327.0L988.0 325.5L988.5 324.0L989.0 322.6L989.5 321.1L990.0 319.7L990.5 318.2L991.0 316.8L991.5 315.3L992.0 313.9L992.5 312.5L993.0 311.1L993.5 309.7L994.0 308.3L994.5 306.9L995.0 305.5L995.5 304.1L996.0 302.7L996.5 301.3L997.0 300.0L997.5 298.6L998.0 297.3L998.5 295.9L999.0 294.6L999.5 293.2L1000.0 291.9L1000.5 290.6L1001.0 289.3L1001.5 288.0L1002.0 286.7L1002.5 285.4L1003.0 284.1L1003.5 282.8L1004.0 281.6L1004.5 280.3L1005.0 279.1L1005.5 277.8L1006.0 276.6L1006.5 275.3L1007.0 274.1L1007.5 272.9L1008.0 271.7L1008.5 270.5L1009.0 269.3L1009.5 268.1L1010.0 266.9L1010.5 265.7L1011.0 264.5L1011.5 263.4L1012.0 262.2L1012.5 261.1L1013.0 259.9L1013.5 258.8L1014.0 257.7L1014.5 256.6L1015.0 255.4L1015.5 254.3L1016.0 253.2L1016.5 252.1L1017.0 251.0L1017.5 250.0L1018.0 248.9L1018.5 247.8L1019.0 246.8L1019.5 245.7L1020.0 244.7L1020.5 243.6L1021.0 242.6L1021.5 241.6L1022.0 240.5L1022.5 239.5L1023.0 238.5L1023.5 237.5L1024.0 236.5L1024.5 235.5L1025.0 234.6L1025.5 233.6L1026.0 232.6L1026.5 231.6L1027.0 230.7L1027.5 229.7L1028.0 228.8L1028.5 227.9L1029.0 226.9L1029.5 226.0L1030.0 225.1L1030.5 224.2L1031.0 223.3L1031.5 222.4L1032.0 221.5L1032.5 220.6L1033.0 219.7L1033.5 218.8L1034.0 217.9L1034.5 217.1L1035.0 216.2L1035.5 215.3L1036.0 214.5L1036.5 213.7L1037.0 212.8L1037.5 212.0L1038.0 211.2L1038.5 210.3L1039.0 209.5L1039.5 208.7L1040.0 207.9L1040.5 207.1L1041.0 206.3L1041.5 205.5L1042.0 204.7L1042.5 203.9L1043.0 203.2L1043.5 202.4L1044.0 201.6L1044.5 200.9L1045.0 200.1L1045.5 199.4L1046.0 198.6L1046.5 197.9L1047.0 197.2L1047.5 196.4L1048.0 195.7L1048.5 195.0L1049.0 194.3L1049.5 193.5L1050.0 192.8L1050.5 192.1L1051.0 191.4L1051.5 190.8L1052.0 190.1L1052.5 189.4L1053.0 188.7L1053.5 188.0L1054.0 187.4L1054.5 186.7L1055.0 186.0L1055.5 185.4L1056.0 184.7L1056.5 184.1L1057.0 183.4L1057.5 182.8L1058.0 182.1L1058.5 181.5L1059.0 180.9L1059.5 180.3L1060.0 179.6L1060.5 179.0L1061.0 178.4L1061.5 177.8L1062.0 177.2L1062.5 176.6L1063.0 176.0L1063.5 175.4L1064.0 174.8L1064.5 174.2L1065.0 173.7L1065.5 173.1L1066.0 172.5L1066.5 171.9L1067.0 171.4L1067.5 170.8L1068.0 170.2L1068.5 169.7L1069.0 169.1L1069.5 168.6L1070.0 168.0L1070.5 167.5L1071.0 167.0L1071.5 166.4L1072.0 165.9L1072.5 165.4L1073.0 164.8L1073.5 164.3L1074.0 163.8L1074.5 163.3L1075.0 162.8L1075.5 162.2L1076.0 161.7L1076.5 161.2L1077.0 160.7L1077.5 160.2L1078.0 159.7L1078.5 159.3L1079.0 158.8L1079.5 158.3L1080.0 157.8L1080.5 157.3L1081.0 156.8L1081.5 156.4L1082.0 155.9L1082.5 155.4L1083.0 155.0L1083.5 154.5L1084.0 154.0L1084.5 153.6L1085.0 153.1L1085.5 152.7L1086.0 152.2L1086.5 151.8L1087.0 151.3L1087.5 150.9L1088.0 150.5L1088.5 150.0L1089.0 149.6L1089.5 149.2L1090.0 148.7L1090.5 148.3L1091.0 147.9L1091.5 147.5L1092.0 147.0L1092.5 146.6L1093.0 146.2L1093.5 145.8L1094.0 145.4L1094.5 145.0L1095.0 144.6L1095.5 144.2L1096.0 143.8L1096.5 143.4L1097.0 143.0L1097.5 142.6L1098.0 142.2L1098.5 141.8L1099.0 141.4L1099.5 141.1L1100.0 140.7L1100.5 140.3L1101.0 139.9L1101.5 139.5L1102.0 139.2L1102.5 138.8L1103.0 138.4L1103.5 138.1L1104.0 137.7L1104.5 137.3L1105.0 137.0L1105.5 136.6L1106.0 136.3L1106.5 135.9L1107.0 135.5L1107.5 135.2L1108.0 134.8L1108.5 134.5L1109.0 134.2L1109.5 133.8L1110.0 133.5L1110.5 133.1L1111.0 132.8L1111.5 132.5L1112.0 132.1L1112.5 131.8L1113.0 131.5L1113.5 131.1L1114.0 130.8L1114.5 130.5L1115.0 130.1L1115.5 129.8L1116.0 129.5L1116.5 129.2L1117.0 128.9L1117.5 128.6L1118.0 128.2L1118.5 127.9L1119.0 127.6L1119.5 127.3L1120.0 127.0L1120.5 126.7L1121.0 126.4L1121.5 126.1L1122.0 125.8L1122.5 125.5L1123.0 125.2L1123.5 124.9L1124.0 124.6L1124.5 124.3L1125.0 124.0L1125.5 123.7L1126.0 123.4L1126.5 123.1L1127.0 122.8L1127.5 122.6L1128.0 122.3L1128.5 122.0L1129.0 121.7L1129.5 121.4L1130.0 121.1L1130.5 120.9L1131.0 120.6L1131.5 120.3L1132.0 120.0L1132.5 119.8L1133.0 119.5L1133.5 119.2L1134.0 119.0L1134.5 118.7L1135.0 118.4L1135.5 118.2L1136.0 117.9L1136.5 117.6L1137.0 117.4L1137.5 117.1L1138.0 116.9L1138.5 116.6L1139.0 116.3L1139.5 116.1L1140.0 115.8L1140.5 115.6L1141.0 115.3L1141.5 115.1L1142.0 114.8L1142.5 114.6L1143.0 114.3L1143.5 114.1L1144.0 113.8L1144.5 113.6L1145.0 113.4L1145.5 113.1L1146.0 112.9L1146.5 112.6L1147.0 112.4L1147.5 112.2L1148.0 111.9L1148.5 111.7L1149.0 111.5L1149.5 111.2L1150.0 111.0L1150.5 110.8L1151.0 110.5L1151.5 110.3L1152.0 110.1L1152.5 109.8L1153.0 109.6L1153.5 109.4L1154.0 109.2L1154.5 108.9L1155.0 108.7L1155.5 108.5L1156.0 108.3L1156.5 108.1L1157.0 107.8L1157.5 107.6L1158.0 107.4L1158.5 107.2L1159.0 107.0L1159.5 106.7L1160.0 106.5L1160.5 106.3L1161.0 106.1L1161.5 105.9L1162.0 105.7L1162.5 105.5L1163.0 105.3L1163.5 105.1L1164.0 104.9L1164.5 104.6L1165.0 104.4L1165.5 104.2L1166.0 104.0L1166.5 103.8L1167.0 103.6L1167.5 103.4L1168.0 103.2L1168.5 103.0L1169.0 102.8L1169.5 102.6L1170.0 102.4L1170.5 102.2L1171.0 102.0L1171.5 101.8L1172.0 101.6L1172.5 101.4L1173.0 101.2L1173.5 101.1L1174.0 100.9L1174.5 100.7L1175.0 100.5L1175.5 100.3L1176.0 100.1L1176.5 99.9L1177.0 99.7L1177.5 99.5L1178.0 99.3L1178.5 99.2L1179.0 99.0L1179.5 98.8L1180.0 98.6L1180.5 98.4L1181.0 98.2L1181.5 98.0L1182.0 97.9L1182.5 97.7L1183.0 97.5L1183.5 97.3L1184.0 97.1L1184.5 97.0L1185.0 96.8L1185.5 96.6L1186.0 96.4L1186.5 96.3L1187.0 96.1L1187.5 95.9L1188.0 95.7L1188.5 95.5L1189.0 95.4L1189.5 95.2L1190.0 95.0L1190.5 94.9L1191.0 94.7L1191.5 94.5L1192.0 94.3L1192.5 94.2L1193.0 94.0L1193.5 93.8L1194.0 93.7L1194.5 93.5L1195.0 93.3L1195.5 93.2L1196.0 93.0L1196.5 92.8L1197.0 92.7L1197.5 92.5L1198.0 92.3L1198.5 92.2L1199.0 92.0L1199.5 91.8L1200.0 91.7L1200.5 91.5L1201.0 91.3L1201.5 91.2L1202.0 91.0L1202.5 90.9L1203.0 90.7L1203.5 90.5L1204.0 90.4L1204.5 90.2L1205.0 90.1L1205.5 89.9L1206.0 89.8L1206.5 89.6L1207.0 89.4L1207.5 89.3L1208.0 89.1L1208.5 89.0L1209.0 88.8L1209.5 88.7L1210.0 88.5L1210.5 88.4L1211.0 88.2L1211.5 88.0L1212.0 87.9L1212.5 87.7L1213.0 87.6L1213.5 87.4L1214.0 87.3L1214.5 87.1L1215.0 87.0L1215.5 86.8L1216.0 86.7L1216.5 86.5L1217.0 86.4L1217.5 86.2L1218.0 86.1L1218.5 85.9L1219.0 85.8L1219.5 85.6L1220.0 85.5L1220.5 85.4L1221.0 85.2L1221.5 85.1L1222.0 84.9L1222.5 84.8L1223.0 84.6L1223.5 84.5L1224.0 84.3L1224.5 84.2L1225.0 84.0L1225.5 83.9L1226.0 83.8L1226.5 83.6L1227.0 83.5L1227.5 83.3L1228.0 83.2L1228.5 83.1L1229.0 82.9L1229.5 82.8L1230.0 82.6L1230.5 82.5L1231.0 82.4L1231.5 82.2L1232.0 82.1L1232.5 81.9L1233.0 81.8L1233.5 81.7L1234.0 81.5L1234.5 81.4L1235.0 81.2L1235.5 81.1L1236.0 81.0L1236.5 80.8L1237.0 80.7L1237.5 80.6L1238.0 80.4L1238.5 80.3L1239.0 80.2L1239.5 80.0L1240.0 79.9L1240.5 79.8L1241.0 79.6L1241.5 79.5L1242.0 79.4L1242.5 79.2L1243.0 79.1L1243.5 79.0L1244.0 78.8L1244.5 78.7L1245.0 78.6L1245.5 78.4L1246.0 78.3L1246.5 78.2L1247.0 78.0L1247.5 77.9L1248.0 77.8L1248.5 77.6L1249.0 77.5L1249.5 77.4L1250.0 77.2L1250.5 77.1L1251.0 77.0L1251.5 76.9L1252.0 76.7L1252.5 76.6L1253.0 76.5L1253.5 76.3L1254.0 76.2L1254.5 76.1L1255.0 76.0L1255.5 75.8L1256.0 75.7L1256.5 75.6L1257.0 75.5L1257.5 75.3L1258.0 75.2L1258.5 75.1L1259.0 75.0L1259.5 74.8L1260.0 74.7L1260.5 74.6L1261.0 74.5L1261.5 74.3L1262.0 74.2L1262.5 74.1L1263.0 74.0L1263.5 73.8L1264.0 73.7L1264.5 73.6L1265.0 73.5L1265.5 73.3L1266.0 73.2L1266.5 73.1L1267.0 73.0L1267.5 72.9L1268.0 72.7L1268.5 72.6L1269.0 72.5L1269.5 72.4L1270.0 72.2L1270.5 72.1L1271.0 72.0L1271.5 71.9L1272.0 71.8L1272.5 71.6L1273.0 71.5L1273.5 71.4L1274.0 71.3L1274.5 71.2L1275.0 71.0L1275.5 70.9L1276.0 70.8L1276.5 70.7L1277.0 70.6L1277.5 70.5L1278.0 70.3L1278.5 70.2L1279.0 70.1L1279.5 70.0L1280.0 69.9L1280.5 69.7L1281.0 69.6L1281.5 69.5L1282.0 69.4L1282.5 69.3L1283.0 69.2L1283.5 69.0" fill="none" stroke="#0a2fa2" stroke-width="2.1" stroke-linejoin="round"/>
<path d="M789.69 467.3v-7M824.97 467.3v-7M860.26 467.3v-7M895.55 467.3v-7M966.12 467.3v-7M1001.41 467.3v-7M1036.69 467.3v-7M1071.98 467.3v-7M1142.55 467.3v-7M1177.84 467.3v-7M1213.13 467.3v-7M1248.41 467.3v-7M754.4 449.64h7.2M754.4 431.97h7.2M754.4 414.31h7.2M754.4 396.64h7.2M754.4 361.32h7.2M754.4 343.65h7.2M754.4 325.99h7.2M754.4 308.32h7.2M754.4 273h7.2M754.4 255.33h7.2M754.4 237.67h7.2M754.4 220h7.2M754.4 184.68h7.2M754.4 167.01h7.2M754.4 149.35h7.2M754.4 131.68h7.2M754.4 96.36h7.2M754.4 78.69h7.2M754.4 61.03h7.2M754.4 43.36h7.2" fill="none" stroke="#444" stroke-width="1"/>
<path d="M930.83 467.3v-11M1107.27 467.3v-11M754.4 378.98h11.5M754.4 290.66h11.5M754.4 202.34h11.5M754.4 114.02h11.5" fill="none" stroke="#000" stroke-width="2.4"/>
<rect x="754.4" y="25.7" width="529.3" height="441.6" fill="none" stroke="#000" stroke-width="3.1"/>
<text transform="translate(754.4 496.6) scale(0.925 1)" text-anchor="middle" class="tk">1.7</text>
<text transform="translate(930.83 496.6) scale(0.925 1)" text-anchor="middle" class="tk">1.8</text>
<text transform="translate(1107.27 496.6) scale(0.925 1)" text-anchor="middle" class="tk">1.9</text>
<text transform="translate(1283.7 496.6) scale(0.925 1)" text-anchor="middle" class="tk">2</text>
<text transform="translate(740.5 477.7) scale(0.925 1)" text-anchor="end" class="tk">0</text>
<text transform="translate(740.5 389.38) scale(0.925 1)" text-anchor="end" class="tk">0.2</text>
<text transform="translate(740.5 301.06) scale(0.925 1)" text-anchor="end" class="tk">0.4</text>
<text transform="translate(740.5 212.74) scale(0.925 1)" text-anchor="end" class="tk">0.6</text>
<text transform="translate(740.5 124.42) scale(0.925 1)" text-anchor="end" class="tk">0.8</text>
<text transform="translate(740.5 34.8) scale(0.925 1)" text-anchor="end" class="tk">1</text>
<text x="661.8" y="28.6" class="pl">(b)</text>
<text x="1019" y="534" text-anchor="middle" class="ax">f (MHz)</text>
<path d="M1089.3 231.5H1213" stroke="#ff2424" stroke-width="2"/><path d="M1089.3 264.4H1213" stroke="#0a2fa2" stroke-width="2"/>
<text x="1233.8" y="239.3" class="lg">R</text><text x="1233.8" y="272.8" class="lg">T</text>
<path d="M1481.65 468.7V25.8M1613.55 468.7V25.8M1745.45 468.7V25.8M1877.35 468.7V25.8" fill="none" stroke="#c3c3c3" stroke-width="1.9" stroke-dasharray="11.1 4.77 1.6 4.77"/>
<path d="M1416.1 246.45H1943.3" fill="none" stroke="#c3c3c3" stroke-width="1.9" stroke-dasharray="11 4.7 1.6 4.7"/>
<text x="1542.6" y="412.5" class="an">Rp=5 k<tspan class="om" textLength="28.31" lengthAdjust="spacingAndGlyphs">Ω</tspan></text>
<text x="1542.6" y="448.1" class="an">Cp=50000 pF</text>
<path d="M1415.7 440.5L1416.2 440.4L1416.7 440.3L1417.2 440.2L1417.7 440.1L1418.2 440.0L1418.7 439.9L1419.2 439.8L1419.7 439.6L1420.2 439.5L1420.7 439.4L1421.2 439.3L1421.7 439.2L1422.2 439.1L1422.7 439.0L1423.2 438.9L1423.7 438.8L1424.2 438.7L1424.7 438.5L1425.2 438.4L1425.7 438.3L1426.2 438.2L1426.7 438.1L1427.2 438.0L1427.7 437.9L1428.2 437.8L1428.7 437.7L1429.2 437.5L1429.7 437.4L1430.2 437.3L1430.7 437.2L1431.2 437.1L1431.7 437.0L1432.2 436.9L1432.7 436.8L1433.2 436.7L1433.7 436.6L1434.2 436.4L1434.7 436.3L1435.2 436.2L1435.7 436.1L1436.2 436.0L1436.7 435.9L1437.2 435.8L1437.7 435.7L1438.2 435.6L1438.7 435.4L1439.2 435.3L1439.7 435.2L1440.2 435.1L1440.7 435.0L1441.2 434.9L1441.7 434.8L1442.2 434.7L1442.7 434.6L1443.2 434.4L1443.7 434.3L1444.2 434.2L1444.7 434.1L1445.2 434.0L1445.7 433.9L1446.2 433.8L1446.7 433.7L1447.2 433.5L1447.7 433.4L1448.2 433.3L1448.7 433.2L1449.2 433.1L1449.7 433.0L1450.2 432.9L1450.7 432.8L1451.2 432.7L1451.7 432.5L1452.2 432.4L1452.7 432.3L1453.2 432.2L1453.7 432.1L1454.2 432.0L1454.7 431.9L1455.2 431.8L1455.7 431.6L1456.2 431.5L1456.7 431.4L1457.2 431.3L1457.7 431.2L1458.2 431.1L1458.7 431.0L1459.2 430.8L1459.7 430.7L1460.2 430.6L1460.7 430.5L1461.2 430.4L1461.7 430.3L1462.2 430.2L1462.7 430.0L1463.2 429.9L1463.7 429.8L1464.2 429.7L1464.7 429.6L1465.2 429.5L1465.7 429.4L1466.2 429.2L1466.7 429.1L1467.2 429.0L1467.7 428.9L1468.2 428.8L1468.7 428.7L1469.2 428.5L1469.7 428.4L1470.2 428.3L1470.7 428.2L1471.2 428.1L1471.7 428.0L1472.2 427.8L1472.7 427.7L1473.2 427.6L1473.7 427.5L1474.2 427.4L1474.7 427.3L1475.2 427.1L1475.7 427.0L1476.2 426.9L1476.7 426.8L1477.2 426.7L1477.7 426.5L1478.2 426.4L1478.7 426.3L1479.2 426.2L1479.7 426.1L1480.2 425.9L1480.7 425.8L1481.2 425.7L1481.7 425.6L1482.2 425.4L1482.7 425.3L1483.2 425.2L1483.7 425.1L1484.2 425.0L1484.7 424.8L1485.2 424.7L1485.7 424.6L1486.2 424.5L1486.7 424.3L1487.2 424.2L1487.7 424.1L1488.2 424.0L1488.7 423.8L1489.2 423.7L1489.7 423.6L1490.2 423.4L1490.7 423.3L1491.2 423.2L1491.7 423.1L1492.2 422.9L1492.7 422.8L1493.2 422.7L1493.7 422.5L1494.2 422.4L1494.7 422.3L1495.2 422.2L1495.7 422.0L1496.2 421.9L1496.7 421.8L1497.2 421.6L1497.7 421.5L1498.2 421.4L1498.7 421.2L1499.2 421.1L1499.7 421.0L1500.2 420.8L1500.7 420.7L1501.2 420.5L1501.7 420.4L1502.2 420.3L1502.7 420.1L1503.2 420.0L1503.7 419.9L1504.2 419.7L1504.7 419.6L1505.2 419.4L1505.7 419.3L1506.2 419.2L1506.7 419.0L1507.2 418.9L1507.7 418.7L1508.2 418.6L1508.7 418.4L1509.2 418.3L1509.7 418.1L1510.2 418.0L1510.7 417.9L1511.2 417.7L1511.7 417.6L1512.2 417.4L1512.7 417.3L1513.2 417.1L1513.7 417.0L1514.2 416.8L1514.7 416.7L1515.2 416.5L1515.7 416.4L1516.2 416.2L1516.7 416.0L1517.2 415.9L1517.7 415.7L1518.2 415.6L1518.7 415.4L1519.2 415.3L1519.7 415.1L1520.2 414.9L1520.7 414.8L1521.2 414.6L1521.7 414.5L1522.2 414.3L1522.7 414.1L1523.2 414.0L1523.7 413.8L1524.2 413.6L1524.7 413.5L1525.2 413.3L1525.7 413.1L1526.2 413.0L1526.7 412.8L1527.2 412.6L1527.7 412.5L1528.2 412.3L1528.7 412.1L1529.2 411.9L1529.7 411.8L1530.2 411.6L1530.7 411.4L1531.2 411.2L1531.7 411.1L1532.2 410.9L1532.7 410.7L1533.2 410.5L1533.7 410.3L1534.2 410.2L1534.7 410.0L1535.2 409.8L1535.7 409.6L1536.2 409.4L1536.7 409.2L1537.2 409.0L1537.7 408.9L1538.2 408.7L1538.7 408.5L1539.2 408.3L1539.7 408.1L1540.2 407.9L1540.7 407.7L1541.2 407.5L1541.7 407.3L1542.2 407.1L1542.7 406.9L1543.2 406.7L1543.7 406.5L1544.2 406.3L1544.7 406.1L1545.2 405.9L1545.7 405.7L1546.2 405.5L1546.7 405.3L1547.2 405.0L1547.7 404.8L1548.2 404.6L1548.7 404.4L1549.2 404.2L1549.7 404.0L1550.2 403.7L1550.7 403.5L1551.2 403.3L1551.7 403.1L1552.2 402.9L1552.7 402.6L1553.2 402.4L1553.7 402.2L1554.2 401.9L1554.7 401.7L1555.2 401.5L1555.7 401.2L1556.2 401.0L1556.7 400.8L1557.2 400.5L1557.7 400.3L1558.2 400.1L1558.7 399.8L1559.2 399.6L1559.7 399.3L1560.2 399.1L1560.7 398.8L1561.2 398.6L1561.7 398.3L1562.2 398.1L1562.7 397.8L1563.2 397.6L1563.7 397.3L1564.2 397.0L1564.7 396.8L1565.2 396.5L1565.7 396.2L1566.2 396.0L1566.7 395.7L1567.2 395.4L1567.7 395.2L1568.2 394.9L1568.7 394.6L1569.2 394.3L1569.7 394.1L1570.2 393.8L1570.7 393.5L1571.2 393.2L1571.7 392.9L1572.2 392.6L1572.7 392.3L1573.2 392.0L1573.7 391.7L1574.2 391.4L1574.7 391.1L1575.2 390.8L1575.7 390.5L1576.2 390.2L1576.7 389.9L1577.2 389.6L1577.7 389.3L1578.2 389.0L1578.7 388.7L1579.2 388.4L1579.7 388.0L1580.2 387.7L1580.7 387.4L1581.2 387.1L1581.7 386.7L1582.2 386.4L1582.7 386.1L1583.2 385.7L1583.7 385.4L1584.2 385.0L1584.7 384.7L1585.2 384.4L1585.7 384.0L1586.2 383.7L1586.7 383.3L1587.2 382.9L1587.7 382.6L1588.2 382.2L1588.7 381.9L1589.2 381.5L1589.7 381.1L1590.2 380.7L1590.7 380.4L1591.2 380.0L1591.7 379.6L1592.2 379.2L1592.7 378.8L1593.2 378.5L1593.7 378.1L1594.2 377.7L1594.7 377.3L1595.2 376.9L1595.7 376.5L1596.2 376.1L1596.7 375.7L1597.2 375.2L1597.7 374.8L1598.2 374.4L1598.7 374.0L1599.2 373.6L1599.7 373.1L1600.2 372.7L1600.7 372.3L1601.2 371.8L1601.7 371.4L1602.2 371.0L1602.7 370.5L1603.2 370.1L1603.7 369.6L1604.2 369.2L1604.7 368.7L1605.2 368.2L1605.7 367.8L1606.2 367.3L1606.7 366.8L1607.2 366.3L1607.7 365.9L1608.2 365.4L1608.7 364.9L1609.2 364.4L1609.7 363.9L1610.2 363.4L1610.7 362.9L1611.2 362.4L1611.7 361.9L1612.2 361.4L1612.7 360.8L1613.2 360.3L1613.7 359.8L1614.2 359.2L1614.7 358.7L1615.2 358.2L1615.7 357.6L1616.2 357.1L1616.7 356.5L1617.2 356.0L1617.7 355.4L1618.2 354.8L1618.7 354.3L1619.2 353.7L1619.7 353.1L1620.2 352.5L1620.7 351.9L1621.2 351.4L1621.7 350.8L1622.2 350.2L1622.7 349.6L1623.2 348.9L1623.7 348.3L1624.2 347.7L1624.7 347.1L1625.2 346.4L1625.7 345.8L1626.2 345.2L1626.7 344.5L1627.2 343.9L1627.7 343.2L1628.2 342.6L1628.7 341.9L1629.2 341.2L1629.7 340.5L1630.2 339.9L1630.7 339.2L1631.2 338.5L1631.7 337.8L1632.2 337.1L1632.7 336.4L1633.2 335.7L1633.7 334.9L1634.2 334.2L1634.7 333.5L1635.2 332.7L1635.7 332.0L1636.2 331.2L1636.7 330.5L1637.2 329.7L1637.7 329.0L1638.2 328.2L1638.7 327.4L1639.2 326.6L1639.7 325.8L1640.2 325.0L1640.7 324.2L1641.2 323.4L1641.7 322.6L1642.2 321.8L1642.7 320.9L1643.2 320.1L1643.7 319.3L1644.2 318.4L1644.7 317.6L1645.2 316.7L1645.7 315.8L1646.2 314.9L1646.7 314.1L1647.2 313.2L1647.7 312.3L1648.2 311.4L1648.7 310.5L1649.2 309.5L1649.7 308.6L1650.2 307.7L1650.7 306.7L1651.2 305.8L1651.7 304.8L1652.2 303.9L1652.7 302.9L1653.2 301.9L1653.7 300.9L1654.2 299.9L1654.7 298.9L1655.2 297.9L1655.7 296.9L1656.2 295.9L1656.7 294.9L1657.2 293.8L1657.7 292.8L1658.2 291.7L1658.7 290.6L1659.2 289.6L1659.7 288.5L1660.2 287.4L1660.7 286.3L1661.2 285.2L1661.7 284.1L1662.2 283.0L1662.7 281.8L1663.2 280.7L1663.7 279.5L1664.2 278.4L1664.7 277.2L1665.2 276.0L1665.7 274.9L1666.2 273.7L1666.7 272.5L1667.2 271.3L1667.7 270.0L1668.2 268.8L1668.7 267.6L1669.2 266.3L1669.7 265.1L1670.2 263.8L1670.7 262.6L1671.2 261.3L1671.7 260.0L1672.2 258.7L1672.7 257.4L1673.2 256.1L1673.7 254.7L1674.2 253.4L1674.7 252.1L1675.2 250.7L1675.7 249.4L1676.2 248.0L1676.7 246.6L1677.2 245.2L1677.7 243.8L1678.2 242.4L1678.7 241.0L1679.2 239.6L1679.7 238.1L1680.2 236.7L1680.7 235.2L1681.2 233.8L1681.7 232.3L1682.2 230.8L1682.7 229.3L1683.2 227.8L1683.7 226.3L1684.2 224.8L1684.7 223.3L1685.2 221.8L1685.7 220.2L1686.2 218.7L1686.7 217.1L1687.2 215.5L1687.7 214.0L1688.2 212.4L1688.7 210.8L1689.2 209.2L1689.7 207.6L1690.2 206.0L1690.7 204.3L1691.2 202.7L1691.7 201.1L1692.2 199.4L1692.7 197.8L1693.2 196.1L1693.7 194.4L1694.2 192.8L1694.7 191.1L1695.2 189.4L1695.7 187.7L1696.2 186.0L1696.7 184.3L1697.2 182.5L1697.7 180.8L1698.2 179.1L1698.7 177.3L1699.2 175.6L1699.7 173.8L1700.2 172.1L1700.7 170.3L1701.2 168.6L1701.7 166.8L1702.2 165.0L1702.7 163.2L1703.2 161.5L1703.7 159.7L1704.2 157.9L1704.7 156.1L1705.2 154.3L1705.7 152.5L1706.2 150.7L1706.7 148.9L1707.2 147.1L1707.7 145.3L1708.2 143.5L1708.7 141.7L1709.2 139.8L1709.7 138.0L1710.2 136.2L1710.7 134.4L1711.2 132.6L1711.7 130.8L1712.2 129.0L1712.7 127.2L1713.2 125.4L1713.7 123.5L1714.2 121.7L1714.7 119.9L1715.2 118.1L1715.7 116.4L1716.2 114.6L1716.7 112.8L1717.2 111.0L1717.7 109.2L1718.2 107.5L1718.7 105.7L1719.2 104.0L1719.7 102.2L1720.2 100.5L1720.7 98.7L1721.2 97.0L1721.7 95.3L1722.2 93.6L1722.7 91.9L1723.2 90.2L1723.7 88.6L1724.2 86.9L1724.7 85.2L1725.2 83.6L1725.7 82.0L1726.2 80.4L1726.7 78.8L1727.2 77.2L1727.7 75.6L1728.2 74.1L1728.7 72.5L1729.2 71.0L1729.7 69.5L1730.2 68.0L1730.7 66.6L1731.2 65.1L1731.7 63.7L1732.2 62.3L1732.7 60.9L1733.2 59.5L1733.7 58.2L1734.2 56.8L1734.7 55.5L1735.2 54.3L1735.7 53.0L1736.2 51.8L1736.7 50.6L1737.2 49.4L1737.7 48.2L1738.2 47.1L1738.7 46.0L1739.2 44.9L1739.7 43.8L1740.2 42.8L1740.7 41.8L1741.2 40.8L1741.7 39.8L1742.2 38.9L1742.7 38.0L1743.2 37.2L1743.7 36.3L1744.2 35.5L1744.7 34.7L1745.2 34.0L1745.7 33.3L1746.2 32.6L1746.7 32.0L1747.2 31.3L1747.7 30.8L1748.2 30.2L1748.7 29.7L1749.2 29.2L1749.7 28.7L1750.2 28.3L1750.7 27.9L1751.2 27.5L1751.7 27.2L1752.2 26.9L1752.7 26.7L1753.2 26.4L1753.7 26.3L1754.2 26.1L1754.7 26.0L1755.2 25.9L1755.7 25.8L1756.2 25.8L1756.7 25.8L1757.2 25.9L1757.7 25.9L1758.2 26.0L1758.7 26.2L1759.2 26.4L1759.7 26.6L1760.2 26.8L1760.7 27.1L1761.2 27.4L1761.7 27.7L1762.2 28.1L1762.7 28.5L1763.2 29.0L1763.7 29.4L1764.2 29.9L1764.7 30.5L1765.2 31.0L1765.7 31.6L1766.2 32.2L1766.7 32.9L1767.2 33.6L1767.7 34.3L1768.2 35.0L1768.7 35.8L1769.2 36.6L1769.7 37.4L1770.2 38.3L1770.7 39.1L1771.2 40.0L1771.7 41.0L1772.2 41.9L1772.7 42.9L1773.2 43.9L1773.7 45.0L1774.2 46.0L1774.7 47.1L1775.2 48.2L1775.7 49.3L1776.2 50.5L1776.7 51.6L1777.2 52.8L1777.7 54.0L1778.2 55.3L1778.7 56.5L1779.2 57.8L1779.7 59.1L1780.2 60.4L1780.7 61.7L1781.2 63.1L1781.7 64.4L1782.2 65.8L1782.7 67.2L1783.2 68.6L1783.7 70.0L1784.2 71.5L1784.7 72.9L1785.2 74.4L1785.7 75.9L1786.2 77.4L1786.7 78.9L1787.2 80.4L1787.7 81.9L1788.2 83.5L1788.7 85.0L1789.2 86.6L1789.7 88.1L1790.2 89.7L1790.7 91.3L1791.2 92.9L1791.7 94.5L1792.2 96.1L1792.7 97.7L1793.2 99.4L1793.7 101.0L1794.2 102.6L1794.7 104.3L1795.2 105.9L1795.7 107.6L1796.2 109.2L1796.7 110.9L1797.2 112.6L1797.7 114.2L1798.2 115.9L1798.7 117.6L1799.2 119.3L1799.7 120.9L1800.2 122.6L1800.7 124.3L1801.2 126.0L1801.7 127.7L1802.2 129.4L1802.7 131.0L1803.2 132.7L1803.7 134.4L1804.2 136.1L1804.7 137.8L1805.2 139.5L1805.7 141.1L1806.2 142.8L1806.7 144.5L1807.2 146.2L1807.7 147.8L1808.2 149.5L1808.7 151.2L1809.2 152.8L1809.7 154.5L1810.2 156.1L1810.7 157.8L1811.2 159.4L1811.7 161.1L1812.2 162.7L1812.7 164.4L1813.2 166.0L1813.7 167.6L1814.2 169.3L1814.7 170.9L1815.2 172.5L1815.7 174.1L1816.2 175.7L1816.7 177.3L1817.2 178.9L1817.7 180.5L1818.2 182.0L1818.7 183.6L1819.2 185.2L1819.7 186.7L1820.2 188.3L1820.7 189.8L1821.2 191.4L1821.7 192.9L1822.2 194.4L1822.7 196.0L1823.2 197.5L1823.7 199.0L1824.2 200.5L1824.7 202.0L1825.2 203.5L1825.7 205.0L1826.2 206.4L1826.7 207.9L1827.2 209.4L1827.7 210.8L1828.2 212.2L1828.7 213.7L1829.2 215.1L1829.7 216.5L1830.2 217.9L1830.7 219.4L1831.2 220.7L1831.7 222.1L1832.2 223.5L1832.7 224.9L1833.2 226.3L1833.7 227.6L1834.2 229.0L1834.7 230.3L1835.2 231.7L1835.7 233.0L1836.2 234.3L1836.7 235.6L1837.2 236.9L1837.7 238.2L1838.2 239.5L1838.7 240.8L1839.2 242.1L1839.7 243.4L1840.2 244.6L1840.7 245.9L1841.2 247.1L1841.7 248.4L1842.2 249.6L1842.7 250.8L1843.2 252.0L1843.7 253.2L1844.2 254.4L1844.7 255.6L1845.2 256.8L1845.7 258.0L1846.2 259.2L1846.7 260.3L1847.2 261.5L1847.7 262.6L1848.2 263.8L1848.7 264.9L1849.2 266.0L1849.7 267.2L1850.2 268.3L1850.7 269.4L1851.2 270.5L1851.7 271.6L1852.2 272.6L1852.7 273.7L1853.2 274.8L1853.7 275.8L1854.2 276.9L1854.7 278.0L1855.2 279.0L1855.7 280.0L1856.2 281.1L1856.7 282.1L1857.2 283.1L1857.7 284.1L1858.2 285.1L1858.7 286.1L1859.2 287.1L1859.7 288.1L1860.2 289.0L1860.7 290.0L1861.2 291.0L1861.7 291.9L1862.2 292.9L1862.7 293.8L1863.2 294.7L1863.7 295.7L1864.2 296.6L1864.7 297.5L1865.2 298.4L1865.7 299.3L1866.2 300.2L1866.7 301.1L1867.2 302.0L1867.7 302.9L1868.2 303.8L1868.7 304.6L1869.2 305.5L1869.7 306.4L1870.2 307.2L1870.7 308.1L1871.2 308.9L1871.7 309.7L1872.2 310.6L1872.7 311.4L1873.2 312.2L1873.7 313.0L1874.2 313.8L1874.7 314.6L1875.2 315.4L1875.7 316.2L1876.2 317.0L1876.7 317.8L1877.2 318.5L1877.7 319.3L1878.2 320.1L1878.7 320.8L1879.2 321.6L1879.7 322.3L1880.2 323.1L1880.7 323.8L1881.2 324.6L1881.7 325.3L1882.2 326.0L1882.7 326.7L1883.2 327.4L1883.7 328.2L1884.2 328.9L1884.7 329.6L1885.2 330.3L1885.7 330.9L1886.2 331.6L1886.7 332.3L1887.2 333.0L1887.7 333.7L1888.2 334.3L1888.7 335.0L1889.2 335.7L1889.7 336.3L1890.2 337.0L1890.7 337.6L1891.2 338.3L1891.7 338.9L1892.2 339.5L1892.7 340.2L1893.2 340.8L1893.7 341.4L1894.2 342.0L1894.7 342.6L1895.2 343.2L1895.7 343.9L1896.2 344.5L1896.7 345.1L1897.2 345.6L1897.7 346.2L1898.2 346.8L1898.7 347.4L1899.2 348.0L1899.7 348.6L1900.2 349.1L1900.7 349.7L1901.2 350.3L1901.7 350.8L1902.2 351.4L1902.7 351.9L1903.2 352.5L1903.7 353.0L1904.2 353.6L1904.7 354.1L1905.2 354.6L1905.7 355.2L1906.2 355.7L1906.7 356.2L1907.2 356.8L1907.7 357.3L1908.2 357.8L1908.7 358.3L1909.2 358.8L1909.7 359.3L1910.2 359.8L1910.7 360.3L1911.2 360.8L1911.7 361.3L1912.2 361.8L1912.7 362.3L1913.2 362.8L1913.7 363.2L1914.2 363.7L1914.7 364.2L1915.2 364.7L1915.7 365.1L1916.2 365.6L1916.7 366.1L1917.2 366.5L1917.7 367.0L1918.2 367.4L1918.7 367.9L1919.2 368.3L1919.7 368.8L1920.2 369.2L1920.7 369.7L1921.2 370.1L1921.7 370.5L1922.2 371.0L1922.7 371.4L1923.2 371.8L1923.7 372.3L1924.2 372.7L1924.7 373.1L1925.2 373.5L1925.7 373.9L1926.2 374.3L1926.7 374.8L1927.2 375.2L1927.7 375.6L1928.2 376.0L1928.7 376.4L1929.2 376.8L1929.7 377.2L1930.2 377.6L1930.7 377.9L1931.2 378.3L1931.7 378.7L1932.2 379.1L1932.7 379.5L1933.2 379.9L1933.7 380.2L1934.2 380.6L1934.7 381.0L1935.2 381.4L1935.7 381.7L1936.2 382.1L1936.7 382.5L1937.2 382.8L1937.7 383.2L1938.2 383.5L1938.7 383.9L1939.2 384.2L1939.7 384.6L1940.2 384.9L1940.7 385.3L1941.2 385.6L1941.7 386.0L1942.2 386.3L1942.7 386.6L1943.2 387.0" fill="none" stroke="#ff2424" stroke-width="2.1" stroke-linejoin="round"/>
<path d="M1415.7 52.4L1416.2 52.5L1416.7 52.6L1417.2 52.7L1417.7 52.8L1418.2 52.9L1418.7 53.0L1419.2 53.1L1419.7 53.3L1420.2 53.4L1420.7 53.5L1421.2 53.6L1421.7 53.7L1422.2 53.8L1422.7 53.9L1423.2 54.0L1423.7 54.1L1424.2 54.2L1424.7 54.4L1425.2 54.5L1425.7 54.6L1426.2 54.7L1426.7 54.8L1427.2 54.9L1427.7 55.0L1428.2 55.1L1428.7 55.2L1429.2 55.4L1429.7 55.5L1430.2 55.6L1430.7 55.7L1431.2 55.8L1431.7 55.9L1432.2 56.0L1432.7 56.1L1433.2 56.2L1433.7 56.3L1434.2 56.5L1434.7 56.6L1435.2 56.7L1435.7 56.8L1436.2 56.9L1436.7 57.0L1437.2 57.1L1437.7 57.2L1438.2 57.3L1438.7 57.5L1439.2 57.6L1439.7 57.7L1440.2 57.8L1440.7 57.9L1441.2 58.0L1441.7 58.1L1442.2 58.2L1442.7 58.3L1443.2 58.5L1443.7 58.6L1444.2 58.7L1444.7 58.8L1445.2 58.9L1445.7 59.0L1446.2 59.1L1446.7 59.2L1447.2 59.4L1447.7 59.5L1448.2 59.6L1448.7 59.7L1449.2 59.8L1449.7 59.9L1450.2 60.0L1450.7 60.1L1451.2 60.2L1451.7 60.4L1452.2 60.5L1452.7 60.6L1453.2 60.7L1453.7 60.8L1454.2 60.9L1454.7 61.0L1455.2 61.1L1455.7 61.3L1456.2 61.4L1456.7 61.5L1457.2 61.6L1457.7 61.7L1458.2 61.8L1458.7 61.9L1459.2 62.1L1459.7 62.2L1460.2 62.3L1460.7 62.4L1461.2 62.5L1461.7 62.6L1462.2 62.7L1462.7 62.9L1463.2 63.0L1463.7 63.1L1464.2 63.2L1464.7 63.3L1465.2 63.4L1465.7 63.5L1466.2 63.7L1466.7 63.8L1467.2 63.9L1467.7 64.0L1468.2 64.1L1468.7 64.2L1469.2 64.4L1469.7 64.5L1470.2 64.6L1470.7 64.7L1471.2 64.8L1471.7 64.9L1472.2 65.1L1472.7 65.2L1473.2 65.3L1473.7 65.4L1474.2 65.5L1474.7 65.6L1475.2 65.8L1475.7 65.9L1476.2 66.0L1476.7 66.1L1477.2 66.2L1477.7 66.4L1478.2 66.5L1478.7 66.6L1479.2 66.7L1479.7 66.8L1480.2 67.0L1480.7 67.1L1481.2 67.2L1481.7 67.3L1482.2 67.5L1482.7 67.6L1483.2 67.7L1483.7 67.8L1484.2 67.9L1484.7 68.1L1485.2 68.2L1485.7 68.3L1486.2 68.4L1486.7 68.6L1487.2 68.7L1487.7 68.8L1488.2 68.9L1488.7 69.1L1489.2 69.2L1489.7 69.3L1490.2 69.5L1490.7 69.6L1491.2 69.7L1491.7 69.8L1492.2 70.0L1492.7 70.1L1493.2 70.2L1493.7 70.4L1494.2 70.5L1494.7 70.6L1495.2 70.7L1495.7 70.9L1496.2 71.0L1496.7 71.1L1497.2 71.3L1497.7 71.4L1498.2 71.5L1498.7 71.7L1499.2 71.8L1499.7 71.9L1500.2 72.1L1500.7 72.2L1501.2 72.4L1501.7 72.5L1502.2 72.6L1502.7 72.8L1503.2 72.9L1503.7 73.0L1504.2 73.2L1504.7 73.3L1505.2 73.5L1505.7 73.6L1506.2 73.7L1506.7 73.9L1507.2 74.0L1507.7 74.2L1508.2 74.3L1508.7 74.5L1509.2 74.6L1509.7 74.8L1510.2 74.9L1510.7 75.0L1511.2 75.2L1511.7 75.3L1512.2 75.5L1512.7 75.6L1513.2 75.8L1513.7 75.9L1514.2 76.1L1514.7 76.2L1515.2 76.4L1515.7 76.5L1516.2 76.7L1516.7 76.9L1517.2 77.0L1517.7 77.2L1518.2 77.3L1518.7 77.5L1519.2 77.6L1519.7 77.8L1520.2 78.0L1520.7 78.1L1521.2 78.3L1521.7 78.4L1522.2 78.6L1522.7 78.8L1523.2 78.9L1523.7 79.1L1524.2 79.3L1524.7 79.4L1525.2 79.6L1525.7 79.8L1526.2 79.9L1526.7 80.1L1527.2 80.3L1527.7 80.4L1528.2 80.6L1528.7 80.8L1529.2 81.0L1529.7 81.1L1530.2 81.3L1530.7 81.5L1531.2 81.7L1531.7 81.8L1532.2 82.0L1532.7 82.2L1533.2 82.4L1533.7 82.6L1534.2 82.7L1534.7 82.9L1535.2 83.1L1535.7 83.3L1536.2 83.5L1536.7 83.7L1537.2 83.9L1537.7 84.0L1538.2 84.2L1538.7 84.4L1539.2 84.6L1539.7 84.8L1540.2 85.0L1540.7 85.2L1541.2 85.4L1541.7 85.6L1542.2 85.8L1542.7 86.0L1543.2 86.2L1543.7 86.4L1544.2 86.6L1544.7 86.8L1545.2 87.0L1545.7 87.2L1546.2 87.4L1546.7 87.6L1547.2 87.9L1547.7 88.1L1548.2 88.3L1548.7 88.5L1549.2 88.7L1549.7 88.9L1550.2 89.2L1550.7 89.4L1551.2 89.6L1551.7 89.8L1552.2 90.0L1552.7 90.3L1553.2 90.5L1553.7 90.7L1554.2 91.0L1554.7 91.2L1555.2 91.4L1555.7 91.7L1556.2 91.9L1556.7 92.1L1557.2 92.4L1557.7 92.6L1558.2 92.8L1558.7 93.1L1559.2 93.3L1559.7 93.6L1560.2 93.8L1560.7 94.1L1561.2 94.3L1561.7 94.6L1562.2 94.8L1562.7 95.1L1563.2 95.3L1563.7 95.6L1564.2 95.9L1564.7 96.1L1565.2 96.4L1565.7 96.7L1566.2 96.9L1566.7 97.2L1567.2 97.5L1567.7 97.7L1568.2 98.0L1568.7 98.3L1569.2 98.6L1569.7 98.8L1570.2 99.1L1570.7 99.4L1571.2 99.7L1571.7 100.0L1572.2 100.3L1572.7 100.6L1573.2 100.9L1573.7 101.2L1574.2 101.5L1574.7 101.8L1575.2 102.1L1575.7 102.4L1576.2 102.7L1576.7 103.0L1577.2 103.3L1577.7 103.6L1578.2 103.9L1578.7 104.2L1579.2 104.5L1579.7 104.9L1580.2 105.2L1580.7 105.5L1581.2 105.8L1581.7 106.2L1582.2 106.5L1582.7 106.8L1583.2 107.2L1583.7 107.5L1584.2 107.9L1584.7 108.2L1585.2 108.5L1585.7 108.9L1586.2 109.2L1586.7 109.6L1587.2 110.0L1587.7 110.3L1588.2 110.7L1588.7 111.0L1589.2 111.4L1589.7 111.8L1590.2 112.2L1590.7 112.5L1591.2 112.9L1591.7 113.3L1592.2 113.7L1592.7 114.1L1593.2 114.4L1593.7 114.8L1594.2 115.2L1594.7 115.6L1595.2 116.0L1595.7 116.4L1596.2 116.8L1596.7 117.2L1597.2 117.7L1597.7 118.1L1598.2 118.5L1598.7 118.9L1599.2 119.3L1599.7 119.8L1600.2 120.2L1600.7 120.6L1601.2 121.1L1601.7 121.5L1602.2 121.9L1602.7 122.4L1603.2 122.8L1603.7 123.3L1604.2 123.7L1604.7 124.2L1605.2 124.7L1605.7 125.1L1606.2 125.6L1606.7 126.1L1607.2 126.6L1607.7 127.0L1608.2 127.5L1608.7 128.0L1609.2 128.5L1609.7 129.0L1610.2 129.5L1610.7 130.0L1611.2 130.5L1611.7 131.0L1612.2 131.5L1612.7 132.1L1613.2 132.6L1613.7 133.1L1614.2 133.7L1614.7 134.2L1615.2 134.7L1615.7 135.3L1616.2 135.8L1616.7 136.4L1617.2 136.9L1617.7 137.5L1618.2 138.1L1618.7 138.6L1619.2 139.2L1619.7 139.8L1620.2 140.4L1620.7 141.0L1621.2 141.5L1621.7 142.1L1622.2 142.7L1622.7 143.3L1623.2 144.0L1623.7 144.6L1624.2 145.2L1624.7 145.8L1625.2 146.5L1625.7 147.1L1626.2 147.7L1626.7 148.4L1627.2 149.0L1627.7 149.7L1628.2 150.3L1628.7 151.0L1629.2 151.7L1629.7 152.4L1630.2 153.0L1630.7 153.7L1631.2 154.4L1631.7 155.1L1632.2 155.8L1632.7 156.5L1633.2 157.2L1633.7 158.0L1634.2 158.7L1634.7 159.4L1635.2 160.2L1635.7 160.9L1636.2 161.7L1636.7 162.4L1637.2 163.2L1637.7 163.9L1638.2 164.7L1638.7 165.5L1639.2 166.3L1639.7 167.1L1640.2 167.9L1640.7 168.7L1641.2 169.5L1641.7 170.3L1642.2 171.1L1642.7 172.0L1643.2 172.8L1643.7 173.6L1644.2 174.5L1644.7 175.3L1645.2 176.2L1645.7 177.1L1646.2 178.0L1646.7 178.8L1647.2 179.7L1647.7 180.6L1648.2 181.5L1648.7 182.4L1649.2 183.4L1649.7 184.3L1650.2 185.2L1650.7 186.2L1651.2 187.1L1651.7 188.1L1652.2 189.0L1652.7 190.0L1653.2 191.0L1653.7 192.0L1654.2 193.0L1654.7 194.0L1655.2 195.0L1655.7 196.0L1656.2 197.0L1656.7 198.0L1657.2 199.1L1657.7 200.1L1658.2 201.2L1658.7 202.3L1659.2 203.3L1659.7 204.4L1660.2 205.5L1660.7 206.6L1661.2 207.7L1661.7 208.8L1662.2 209.9L1662.7 211.1L1663.2 212.2L1663.7 213.4L1664.2 214.5L1664.7 215.7L1665.2 216.9L1665.7 218.0L1666.2 219.2L1666.7 220.4L1667.2 221.6L1667.7 222.9L1668.2 224.1L1668.7 225.3L1669.2 226.6L1669.7 227.8L1670.2 229.1L1670.7 230.3L1671.2 231.6L1671.7 232.9L1672.2 234.2L1672.7 235.5L1673.2 236.8L1673.7 238.2L1674.2 239.5L1674.7 240.8L1675.2 242.2L1675.7 243.5L1676.2 244.9L1676.7 246.3L1677.2 247.7L1677.7 249.1L1678.2 250.5L1678.7 251.9L1679.2 253.3L1679.7 254.8L1680.2 256.2L1680.7 257.7L1681.2 259.1L1681.7 260.6L1682.2 262.1L1682.7 263.6L1683.2 265.1L1683.7 266.6L1684.2 268.1L1684.7 269.6L1685.2 271.1L1685.7 272.7L1686.2 274.2L1686.7 275.8L1687.2 277.4L1687.7 278.9L1688.2 280.5L1688.7 282.1L1689.2 283.7L1689.7 285.3L1690.2 286.9L1690.7 288.6L1691.2 290.2L1691.7 291.8L1692.2 293.5L1692.7 295.1L1693.2 296.8L1693.7 298.5L1694.2 300.1L1694.7 301.8L1695.2 303.5L1695.7 305.2L1696.2 306.9L1696.7 308.6L1697.2 310.4L1697.7 312.1L1698.2 313.8L1698.7 315.6L1699.2 317.3L1699.7 319.1L1700.2 320.8L1700.7 322.6L1701.2 324.3L1701.7 326.1L1702.2 327.9L1702.7 329.7L1703.2 331.4L1703.7 333.2L1704.2 335.0L1704.7 336.8L1705.2 338.6L1705.7 340.4L1706.2 342.2L1706.7 344.0L1707.2 345.8L1707.7 347.6L1708.2 349.4L1708.7 351.2L1709.2 353.1L1709.7 354.9L1710.2 356.7L1710.7 358.5L1711.2 360.3L1711.7 362.1L1712.2 363.9L1712.7 365.7L1713.2 367.5L1713.7 369.4L1714.2 371.2L1714.7 373.0L1715.2 374.8L1715.7 376.5L1716.2 378.3L1716.7 380.1L1717.2 381.9L1717.7 383.7L1718.2 385.4L1718.7 387.2L1719.2 388.9L1719.7 390.7L1720.2 392.4L1720.7 394.2L1721.2 395.9L1721.7 397.6L1722.2 399.3L1722.7 401.0L1723.2 402.7L1723.7 404.3L1724.2 406.0L1724.7 407.7L1725.2 409.3L1725.7 410.9L1726.2 412.5L1726.7 414.1L1727.2 415.7L1727.7 417.3L1728.2 418.8L1728.7 420.4L1729.2 421.9L1729.7 423.4L1730.2 424.9L1730.7 426.3L1731.2 427.8L1731.7 429.2L1732.2 430.6L1732.7 432.0L1733.2 433.4L1733.7 434.7L1734.2 436.1L1734.7 437.4L1735.2 438.6L1735.7 439.9L1736.2 441.1L1736.7 442.3L1737.2 443.5L1737.7 444.7L1738.2 445.8L1738.7 446.9L1739.2 448.0L1739.7 449.1L1740.2 450.1L1740.7 451.1L1741.2 452.1L1741.7 453.1L1742.2 454.0L1742.7 454.9L1743.2 455.7L1743.7 456.6L1744.2 457.4L1744.7 458.2L1745.2 458.9L1745.7 459.6L1746.2 460.3L1746.7 460.9L1747.2 461.6L1747.7 462.1L1748.2 462.7L1748.7 463.2L1749.2 463.7L1749.7 464.2L1750.2 464.6L1750.7 465.0L1751.2 465.4L1751.7 465.7L1752.2 466.0L1752.7 466.2L1753.2 466.5L1753.7 466.6L1754.2 466.8L1754.7 466.9L1755.2 467.0L1755.7 467.1L1756.2 467.1L1756.7 467.1L1757.2 467.0L1757.7 467.0L1758.2 466.9L1758.7 466.7L1759.2 466.5L1759.7 466.3L1760.2 466.1L1760.7 465.8L1761.2 465.5L1761.7 465.2L1762.2 464.8L1762.7 464.4L1763.2 463.9L1763.7 463.5L1764.2 463.0L1764.7 462.4L1765.2 461.9L1765.7 461.3L1766.2 460.7L1766.7 460.0L1767.2 459.3L1767.7 458.6L1768.2 457.9L1768.7 457.1L1769.2 456.3L1769.7 455.5L1770.2 454.6L1770.7 453.8L1771.2 452.9L1771.7 451.9L1772.2 451.0L1772.7 450.0L1773.2 449.0L1773.7 447.9L1774.2 446.9L1774.7 445.8L1775.2 444.7L1775.7 443.6L1776.2 442.4L1776.7 441.3L1777.2 440.1L1777.7 438.9L1778.2 437.6L1778.7 436.4L1779.2 435.1L1779.7 433.8L1780.2 432.5L1780.7 431.2L1781.2 429.8L1781.7 428.5L1782.2 427.1L1782.7 425.7L1783.2 424.3L1783.7 422.9L1784.2 421.4L1784.7 420.0L1785.2 418.5L1785.7 417.0L1786.2 415.5L1786.7 414.0L1787.2 412.5L1787.7 411.0L1788.2 409.4L1788.7 407.9L1789.2 406.3L1789.7 404.8L1790.2 403.2L1790.7 401.6L1791.2 400.0L1791.7 398.4L1792.2 396.8L1792.7 395.2L1793.2 393.5L1793.7 391.9L1794.2 390.3L1794.7 388.6L1795.2 387.0L1795.7 385.3L1796.2 383.7L1796.7 382.0L1797.2 380.3L1797.7 378.7L1798.2 377.0L1798.7 375.3L1799.2 373.6L1799.7 372.0L1800.2 370.3L1800.7 368.6L1801.2 366.9L1801.7 365.2L1802.2 363.5L1802.7 361.9L1803.2 360.2L1803.7 358.5L1804.2 356.8L1804.7 355.1L1805.2 353.4L1805.7 351.8L1806.2 350.1L1806.7 348.4L1807.2 346.7L1807.7 345.1L1808.2 343.4L1808.7 341.7L1809.2 340.1L1809.7 338.4L1810.2 336.8L1810.7 335.1L1811.2 333.5L1811.7 331.8L1812.2 330.2L1812.7 328.5L1813.2 326.9L1813.7 325.3L1814.2 323.6L1814.7 322.0L1815.2 320.4L1815.7 318.8L1816.2 317.2L1816.7 315.6L1817.2 314.0L1817.7 312.4L1818.2 310.9L1818.7 309.3L1819.2 307.7L1819.7 306.2L1820.2 304.6L1820.7 303.1L1821.2 301.5L1821.7 300.0L1822.2 298.5L1822.7 296.9L1823.2 295.4L1823.7 293.9L1824.2 292.4L1824.7 290.9L1825.2 289.4L1825.7 287.9L1826.2 286.5L1826.7 285.0L1827.2 283.5L1827.7 282.1L1828.2 280.7L1828.7 279.2L1829.2 277.8L1829.7 276.4L1830.2 275.0L1830.7 273.5L1831.2 272.2L1831.7 270.8L1832.2 269.4L1832.7 268.0L1833.2 266.6L1833.7 265.3L1834.2 263.9L1834.7 262.6L1835.2 261.2L1835.7 259.9L1836.2 258.6L1836.7 257.3L1837.2 256.0L1837.7 254.7L1838.2 253.4L1838.7 252.1L1839.2 250.8L1839.7 249.5L1840.2 248.3L1840.7 247.0L1841.2 245.8L1841.7 244.5L1842.2 243.3L1842.7 242.1L1843.2 240.9L1843.7 239.7L1844.2 238.5L1844.7 237.3L1845.2 236.1L1845.7 234.9L1846.2 233.7L1846.7 232.6L1847.2 231.4L1847.7 230.3L1848.2 229.1L1848.7 228.0L1849.2 226.9L1849.7 225.7L1850.2 224.6L1850.7 223.5L1851.2 222.4L1851.7 221.3L1852.2 220.3L1852.7 219.2L1853.2 218.1L1853.7 217.1L1854.2 216.0L1854.7 214.9L1855.2 213.9L1855.7 212.9L1856.2 211.8L1856.7 210.8L1857.2 209.8L1857.7 208.8L1858.2 207.8L1858.7 206.8L1859.2 205.8L1859.7 204.8L1860.2 203.9L1860.7 202.9L1861.2 201.9L1861.7 201.0L1862.2 200.0L1862.7 199.1L1863.2 198.2L1863.7 197.2L1864.2 196.3L1864.7 195.4L1865.2 194.5L1865.7 193.6L1866.2 192.7L1866.7 191.8L1867.2 190.9L1867.7 190.0L1868.2 189.1L1868.7 188.3L1869.2 187.4L1869.7 186.5L1870.2 185.7L1870.7 184.8L1871.2 184.0L1871.7 183.2L1872.2 182.3L1872.7 181.5L1873.2 180.7L1873.7 179.9L1874.2 179.1L1874.7 178.3L1875.2 177.5L1875.7 176.7L1876.2 175.9L1876.7 175.1L1877.2 174.4L1877.7 173.6L1878.2 172.8L1878.7 172.1L1879.2 171.3L1879.7 170.6L1880.2 169.8L1880.7 169.1L1881.2 168.3L1881.7 167.6L1882.2 166.9L1882.7 166.2L1883.2 165.5L1883.7 164.7L1884.2 164.0L1884.7 163.3L1885.2 162.6L1885.7 162.0L1886.2 161.3L1886.7 160.6L1887.2 159.9L1887.7 159.2L1888.2 158.6L1888.7 157.9L1889.2 157.2L1889.7 156.6L1890.2 155.9L1890.7 155.3L1891.2 154.6L1891.7 154.0L1892.2 153.4L1892.7 152.7L1893.2 152.1L1893.7 151.5L1894.2 150.9L1894.7 150.3L1895.2 149.7L1895.7 149.0L1896.2 148.4L1896.7 147.8L1897.2 147.3L1897.7 146.7L1898.2 146.1L1898.7 145.5L1899.2 144.9L1899.7 144.3L1900.2 143.8L1900.7 143.2L1901.2 142.6L1901.7 142.1L1902.2 141.5L1902.7 141.0L1903.2 140.4L1903.7 139.9L1904.2 139.3L1904.7 138.8L1905.2 138.3L1905.7 137.7L1906.2 137.2L1906.7 136.7L1907.2 136.1L1907.7 135.6L1908.2 135.1L1908.7 134.6L1909.2 134.1L1909.7 133.6L1910.2 133.1L1910.7 132.6L1911.2 132.1L1911.7 131.6L1912.2 131.1L1912.7 130.6L1913.2 130.1L1913.7 129.7L1914.2 129.2L1914.7 128.7L1915.2 128.2L1915.7 127.8L1916.2 127.3L1916.7 126.8L1917.2 126.4L1917.7 125.9L1918.2 125.5L1918.7 125.0L1919.2 124.6L1919.7 124.1L1920.2 123.7L1920.7 123.2L1921.2 122.8L1921.7 122.4L1922.2 121.9L1922.7 121.5L1923.2 121.1L1923.7 120.6L1924.2 120.2L1924.7 119.8L1925.2 119.4L1925.7 119.0L1926.2 118.6L1926.7 118.1L1927.2 117.7L1927.7 117.3L1928.2 116.9L1928.7 116.5L1929.2 116.1L1929.7 115.7L1930.2 115.3L1930.7 115.0L1931.2 114.6L1931.7 114.2L1932.2 113.8L1932.7 113.4L1933.2 113.0L1933.7 112.7L1934.2 112.3L1934.7 111.9L1935.2 111.5L1935.7 111.2L1936.2 110.8L1936.7 110.4L1937.2 110.1L1937.7 109.7L1938.2 109.4L1938.7 109.0L1939.2 108.7L1939.7 108.3L1940.2 108.0L1940.7 107.6L1941.2 107.3L1941.7 106.9L1942.2 106.6L1942.7 106.3L1943.2 105.9" fill="none" stroke="#0a2fa2" stroke-width="2.1" stroke-linejoin="round"/>
<path d="M1428.89 467.1v-7M1455.27 467.1v-7M1508.03 467.1v-7M1534.41 467.1v-7M1560.79 467.1v-7M1587.17 467.1v-7M1639.93 467.1v-7M1666.31 467.1v-7M1692.69 467.1v-7M1719.07 467.1v-7M1771.83 467.1v-7M1798.21 467.1v-7M1824.59 467.1v-7M1850.97 467.1v-7M1903.73 467.1v-7M1930.11 467.1v-7M1415.7 422.97h7.2M1415.7 378.84h7.2M1415.7 334.71h7.2M1415.7 290.58h7.2M1415.7 202.32h7.2M1415.7 158.19h7.2M1415.7 114.06h7.2M1415.7 69.93h7.2" fill="none" stroke="#444" stroke-width="1"/>
<path d="M1481.65 467.1v-11M1613.55 467.1v-11M1745.45 467.1v-11M1877.35 467.1v-11M1415.7 246.45h11.5" fill="none" stroke="#000" stroke-width="2.4"/>
<rect x="1415.7" y="25.8" width="527.6" height="441.3" fill="none" stroke="#000" stroke-width="3.1"/>
<text transform="translate(1481.65 496.6) scale(0.925 1)" text-anchor="middle" class="tk">1.8</text>
<text transform="translate(1613.55 496.6) scale(0.925 1)" text-anchor="middle" class="tk">2</text>
<text transform="translate(1745.45 496.6) scale(0.925 1)" text-anchor="middle" class="tk">2.2</text>
<text transform="translate(1877.35 496.6) scale(0.925 1)" text-anchor="middle" class="tk">2.4</text>
<text transform="translate(1403 477.5) scale(0.925 1)" text-anchor="end" class="tk">0</text>
<text transform="translate(1403 256.85) scale(0.925 1)" text-anchor="end" class="tk">0.5</text>
<text transform="translate(1403 34.9) scale(0.925 1)" text-anchor="end" class="tk">1</text>
<text x="1323" y="29" class="pl">(c)</text>
<text x="1679" y="534" text-anchor="middle" class="ax">f (MHz)</text>
<path d="M1443 227H1565.2" stroke="#ff2424" stroke-width="2"/><path d="M1443 260.2H1565.2" stroke="#0a2fa2" stroke-width="2"/>
<text x="1586.7" y="234.9" class="lg">R</text><text x="1586.2" y="267.4" class="lg">T</text>
</svg></body></html>
